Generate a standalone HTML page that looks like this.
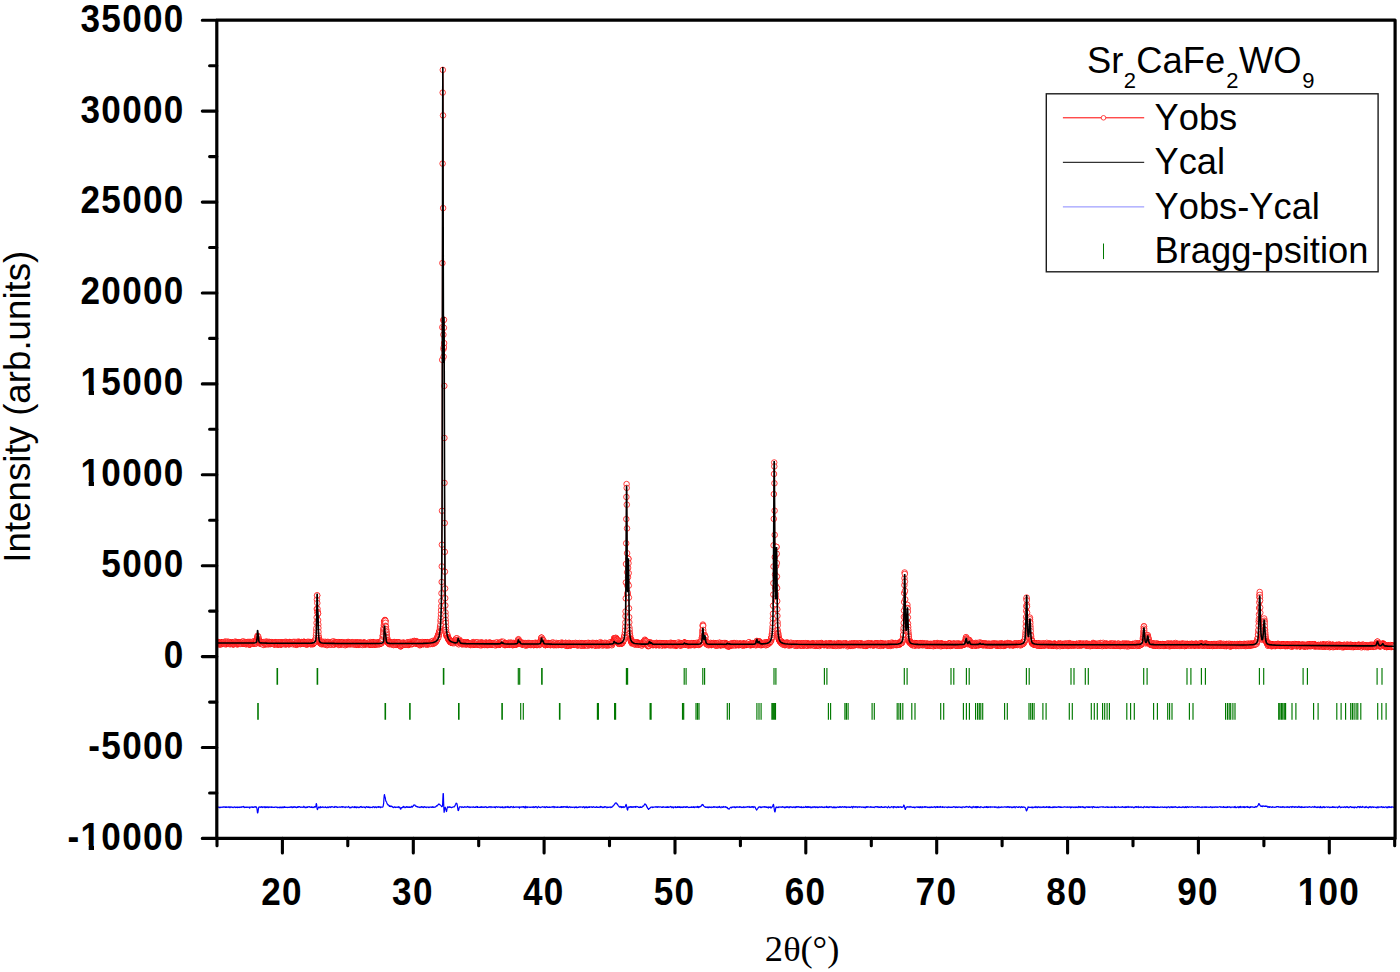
<!DOCTYPE html>
<html><head><meta charset="utf-8"><title>XRD Rietveld refinement - Sr2CaFe2WO9</title>
<style>
html,body{margin:0;padding:0;background:#fff;}
svg{display:block;}
text{font-family:"Liberation Sans",sans-serif;fill:#000;font-kerning:none;}
.tk{font-weight:bold;font-size:38px;letter-spacing:1.4px;}
.lg{font-size:36.3px;}
.ser{font-family:"Liberation Serif",serif;font-size:36.5px;}
</style></head>
<body>
<svg width="1400" height="972" viewBox="0 0 1400 972">
<defs>
<marker id="c" markerUnits="userSpaceOnUse" markerWidth="8" markerHeight="8" refX="4" refY="4" overflow="visible">
<circle cx="4" cy="4" r="2.78" fill="#fff" stroke="#ff0000" stroke-width="0.75"/>
</marker>
<clipPath id="plot"><rect x="216.8" y="20.2" width="1178.3" height="818.1999999999999"/></clipPath>
</defs>
<rect width="1400" height="972" fill="#fff"/>
<g clip-path="url(#plot)">
<path fill="none" stroke="#ff0000" stroke-width="0.7" d="M316.7 614.5L316.8 611.9M316.9 605.9L316.9 602.5M317.3 598.4L317.3 600.1M441.4 598.1L441.5 596.3M441.6 590.3L441.6 585.0M441.7 579.0L441.8 569.4M441.8 563.4L441.9 547.7M441.9 541.7L442.0 513.8M442.1 507.8L442.2 362.9M442.2 356.9L442.3 330.3M442.3 324.3L442.4 266.1M442.4 260.1L442.6 166.6M442.6 160.6L442.7 95.6M442.7 89.6L442.8 72.9M442.8 72.9L443.0 112.4M443.0 118.4L443.1 205.1M443.1 211.1L443.2 317.1M443.3 323.1L443.3 331.7M443.4 337.7L443.5 346.0M443.5 352.0L443.6 353.7M443.7 353.7L443.7 350.1M443.8 344.1L443.9 330.8M443.9 324.8L444.0 322.8M444.0 322.8L444.1 340.1M444.2 346.1L444.3 382.9M444.3 388.9L444.4 435.0M444.4 441.0L444.5 479.9M444.5 485.9L444.7 520.0M444.7 526.0L444.8 548.9M444.8 554.9L444.9 568.7M445.0 574.7L445.0 585.5M445.1 591.5L445.1 595.2M445.2 601.2L445.3 602.5M445.4 608.5L445.4 609.5M625.7 608.5L625.7 601.4M625.8 595.4L625.9 585.5M625.9 579.5L626.0 567.0M626.1 561.0L626.2 546.3M626.2 540.3L626.3 522.1M626.3 516.1L626.4 500.0M626.5 494.0L626.5 487.1M626.7 490.9L626.8 501.7M626.8 507.7L626.9 525.4M627.0 531.4L627.1 550.2M627.1 556.2L627.2 569.3M627.2 575.3L627.3 582.6M627.4 588.6L627.4 590.7M627.8 589.6L627.8 587.0M627.9 581.0L627.9 580.2M628.0 574.2L628.1 570.9M628.2 564.9L628.2 561.8M628.6 566.2L628.6 570.1M628.7 576.1L628.8 582.6M628.8 588.6L628.9 594.6M629.0 600.6L629.0 605.3M629.1 611.3L629.1 614.2M773.0 610.8L773.1 608.7M773.2 602.7L773.2 597.6M773.3 591.6L773.4 586.2M773.4 580.2L773.5 569.5M773.5 563.5L773.6 548.3M773.7 542.3L773.8 521.9M773.8 515.9L773.9 497.1M773.9 491.1L774.0 477.0M774.1 471.0L774.1 465.5M774.3 469.4L774.4 480.3M774.4 486.3L774.6 507.7M774.6 513.7L774.7 531.9M774.7 537.9L774.8 554.1M774.8 560.1L774.9 571.5M775.0 577.5L775.1 584.8M775.1 590.8L775.2 594.1M775.5 601.1L775.6 599.5M775.8 590.7L775.8 589.0M775.9 583.0L776.0 580.6M776.0 574.6L776.1 568.9M776.2 562.9L776.2 557.0M776.3 551.0L776.3 550.0M776.7 556.7L776.7 560.1M776.8 566.1L776.9 573.5M777.0 579.5L777.0 585.1M777.1 591.1L777.2 598.1M777.2 604.1L777.3 606.3M904.0 607.6L904.1 605.0M904.2 599.0L904.2 596.1M904.3 590.1L904.3 588.1M904.4 582.1L904.5 581.2M904.8 577.0L904.8 578.6M904.9 584.6L905.0 587.9M905.1 593.9L905.1 596.4M905.2 602.4L905.2 604.5M905.3 610.5L905.4 613.2M1026.4 603.3L1026.4 601.9M1260.1 603.5L1260.1 604.6"/>
<polyline fill="none" stroke="none" marker-start="url(#c)" marker-mid="url(#c)" marker-end="url(#c)" points="217.0,643.0 217.1,643.1 217.2,643.3 217.4,643.1 217.5,643.1 217.6,643.0 217.8,643.8 217.9,643.4 218.0,644.4 218.1,642.6 218.3,642.3 218.4,642.1 218.5,643.0 218.7,642.5 218.8,643.0 218.9,643.2 219.1,644.0 219.2,644.0 219.3,643.9 219.5,643.3 219.6,642.6 219.7,643.8 219.8,643.0 220.0,643.0 220.1,643.4 220.2,644.4 220.4,643.9 220.5,644.3 220.6,643.2 220.8,643.3 220.9,643.4 221.0,643.6 221.2,643.1 221.3,643.6 221.4,642.6 221.6,643.9 221.7,642.9 221.8,642.7 221.9,643.4 222.1,644.0 222.2,642.6 222.3,643.5 222.5,642.7 222.6,642.5 222.7,643.0 222.9,642.9 223.0,642.5 223.1,642.7 223.3,643.3 223.4,642.6 223.5,642.4 223.6,642.9 223.8,643.0 223.9,643.0 224.0,642.9 224.2,643.5 224.3,643.6 224.4,642.0 224.6,643.1 224.7,642.7 224.8,644.0 225.0,642.9 225.1,643.7 225.2,641.6 225.3,643.9 225.5,643.5 225.6,642.2 225.7,642.3 225.9,644.3 226.0,643.1 226.1,642.9 226.3,644.0 226.4,643.0 226.5,643.2 226.7,643.3 226.8,642.9 226.9,643.3 227.0,643.9 227.2,641.6 227.3,643.1 227.4,643.3 227.6,642.6 227.7,643.1 227.8,642.3 228.0,643.4 228.1,643.0 228.2,643.2 228.4,642.8 228.5,642.9 228.6,642.8 228.7,641.9 228.9,643.3 229.0,643.1 229.1,643.1 229.3,642.4 229.4,642.9 229.5,642.6 229.7,644.2 229.8,643.4 229.9,643.8 230.1,643.7 230.2,643.1 230.3,643.9 230.4,642.6 230.6,642.8 230.7,644.0 230.8,643.1 231.0,642.1 231.1,643.2 231.2,642.6 231.4,643.0 231.5,643.4 231.6,643.6 231.8,643.4 231.9,642.5 232.0,642.7 232.1,643.7 232.3,642.4 232.4,643.1 232.5,643.2 232.7,642.8 232.8,643.6 232.9,644.3 233.1,642.8 233.2,644.5 233.3,643.2 233.5,644.0 233.6,643.5 233.7,643.2 233.9,643.6 234.0,644.1 234.1,643.1 234.2,643.2 234.4,643.6 234.5,642.9 234.6,642.1 234.8,643.3 234.9,643.0 235.0,643.9 235.2,642.8 235.3,642.8 235.4,641.6 235.6,642.8 235.7,643.0 235.8,642.7 235.9,643.7 236.1,642.5 236.2,643.0 236.3,643.2 236.5,642.4 236.6,643.1 236.7,642.6 236.9,644.0 237.0,643.0 237.1,643.4 237.3,643.5 237.4,644.5 237.5,642.6 237.6,642.9 237.8,643.6 237.9,644.0 238.0,643.4 238.2,642.2 238.3,643.1 238.4,643.6 238.6,643.2 238.7,643.3 238.8,643.1 239.0,642.5 239.1,643.0 239.2,642.6 239.3,643.8 239.5,643.0 239.6,643.5 239.7,643.4 239.9,643.2 240.0,643.5 240.1,643.1 240.3,642.6 240.4,643.4 240.5,643.9 240.7,642.8 240.8,642.5 240.9,643.2 241.0,643.0 241.2,643.3 241.3,642.9 241.4,642.1 241.6,642.5 241.7,643.2 241.8,643.4 242.0,643.9 242.1,642.6 242.2,642.6 242.4,642.3 242.5,641.6 242.6,642.4 242.7,642.3 242.9,643.3 243.0,642.4 243.1,642.4 243.3,642.3 243.4,642.3 243.5,642.3 243.7,641.5 243.8,643.0 243.9,642.9 244.1,642.8 244.2,643.8 244.3,643.7 244.5,642.8 244.6,643.1 244.7,643.2 244.8,643.3 245.0,643.8 245.1,642.9 245.2,642.5 245.4,643.4 245.5,643.6 245.6,644.1 245.8,643.0 245.9,642.4 246.0,644.1 246.2,642.8 246.3,642.4 246.4,643.5 246.5,643.5 246.7,644.0 246.8,643.9 246.9,643.2 247.1,642.9 247.2,643.0 247.3,642.6 247.5,642.5 247.6,643.5 247.7,642.0 247.9,642.5 248.0,643.3 248.1,642.3 248.2,643.1 248.4,643.2 248.5,642.0 248.6,644.3 248.8,644.0 248.9,642.5 249.0,643.0 249.2,643.7 249.3,642.7 249.4,643.6 249.6,644.7 249.7,644.3 249.8,643.0 249.9,641.9 250.1,644.1 250.2,643.2 250.3,643.4 250.5,643.9 250.6,642.9 250.7,643.9 250.9,643.3 251.0,642.0 251.1,642.5 251.3,642.3 251.4,642.7 251.5,642.9 251.6,642.7 251.8,643.5 251.9,643.4 252.0,642.6 252.2,643.6 252.3,643.5 252.4,642.3 252.6,641.9 252.7,642.9 252.8,643.1 253.0,642.6 253.1,643.1 253.2,643.7 253.3,643.0 253.5,642.6 253.6,643.1 253.7,641.6 253.9,642.5 254.0,642.4 254.1,642.2 254.3,641.1 254.4,642.0 254.5,643.1 254.7,642.6 254.8,643.3 254.9,643.3 255.1,642.6 255.2,642.1 255.3,642.4 255.4,642.7 255.6,642.1 255.7,643.5 255.8,642.2 256.0,642.6 256.1,642.0 256.2,643.3 256.4,641.0 256.5,643.1 256.6,642.7 256.8,641.5 256.9,641.9 257.0,641.2 257.1,641.9 257.3,639.7 257.4,637.6 257.5,635.8 257.7,636.5 257.8,637.2 257.9,637.9 258.1,638.5 258.2,638.4 258.3,636.7 258.5,639.4 258.6,638.7 258.7,640.3 258.8,640.0 259.0,641.6 259.1,641.2 259.2,641.8 259.4,642.5 259.5,642.3 259.6,643.0 259.8,642.7 259.9,642.6 260.0,641.9 260.2,642.5 260.3,643.8 260.4,643.2 260.5,643.2 260.7,643.7 260.8,642.3 260.9,642.8 261.1,642.2 261.2,643.1 261.3,642.7 261.5,642.0 261.6,643.3 261.7,642.4 261.9,642.7 262.0,643.6 262.1,643.3 262.2,643.6 262.4,642.5 262.5,643.4 262.6,643.9 262.8,642.6 262.9,643.6 263.0,644.3 263.2,642.5 263.3,643.4 263.4,644.9 263.6,643.1 263.7,642.6 263.8,642.8 263.9,642.0 264.1,642.8 264.2,642.2 264.3,643.2 264.5,643.1 264.6,642.4 264.7,643.3 264.9,643.5 265.0,644.6 265.1,643.3 265.3,643.5 265.4,642.8 265.5,643.8 265.6,643.3 265.8,643.7 265.9,641.7 266.0,643.2 266.2,642.7 266.3,641.9 266.4,643.3 266.6,643.8 266.7,643.0 266.8,642.7 267.0,643.0 267.1,644.2 267.2,642.8 267.4,643.7 267.5,641.8 267.6,642.9 267.7,643.4 267.9,642.7 268.0,643.0 268.1,644.1 268.3,642.7 268.4,643.6 268.5,644.2 268.7,642.2 268.8,642.1 268.9,642.5 269.1,643.1 269.2,644.0 269.3,642.6 269.4,642.1 269.6,642.5 269.7,642.1 269.8,643.5 270.0,642.9 270.1,642.8 270.2,643.9 270.4,644.1 270.5,643.5 270.6,643.1 270.8,642.3 270.9,643.0 271.0,643.0 271.1,643.5 271.3,642.9 271.4,642.6 271.5,642.2 271.7,643.0 271.8,642.8 271.9,643.7 272.1,643.0 272.2,643.6 272.3,642.3 272.5,643.0 272.6,642.9 272.7,643.5 272.8,643.5 273.0,643.4 273.1,643.3 273.2,643.6 273.4,644.0 273.5,643.4 273.6,643.4 273.8,643.3 273.9,642.8 274.0,643.4 274.2,644.3 274.3,643.3 274.4,644.5 274.5,644.1 274.7,642.7 274.8,642.9 274.9,643.2 275.1,643.5 275.2,643.0 275.3,644.2 275.5,643.0 275.6,643.4 275.7,642.2 275.9,643.5 276.0,642.5 276.1,643.6 276.2,642.8 276.4,643.9 276.5,642.6 276.6,643.4 276.8,643.6 276.9,643.7 277.0,643.1 277.2,643.3 277.3,642.6 277.4,643.2 277.6,644.7 277.7,643.4 277.8,644.5 278.0,643.9 278.1,643.3 278.2,644.1 278.3,644.1 278.5,643.3 278.6,643.5 278.7,642.4 278.9,642.9 279.0,643.1 279.1,642.5 279.3,644.1 279.4,643.3 279.5,643.7 279.7,642.7 279.8,642.6 279.9,642.3 280.0,643.1 280.2,643.2 280.3,643.4 280.4,644.0 280.6,643.7 280.7,643.0 280.8,644.7 281.0,644.3 281.1,642.3 281.2,644.3 281.4,643.4 281.5,643.9 281.6,643.0 281.7,642.9 281.9,643.6 282.0,642.6 282.1,643.3 282.3,642.9 282.4,642.6 282.5,643.0 282.7,643.7 282.8,643.4 282.9,643.0 283.1,643.4 283.2,643.6 283.3,644.0 283.4,643.2 283.6,643.2 283.7,643.0 283.8,643.4 284.0,643.0 284.1,644.0 284.2,642.1 284.4,642.5 284.5,642.4 284.6,642.7 284.8,642.7 284.9,643.0 285.0,643.3 285.1,643.5 285.3,644.4 285.4,643.1 285.5,643.4 285.7,643.2 285.8,641.8 285.9,644.3 286.1,643.4 286.2,642.8 286.3,642.9 286.5,642.6 286.6,643.9 286.7,643.9 286.8,643.0 287.0,643.8 287.1,642.5 287.2,643.4 287.4,643.5 287.5,643.3 287.6,643.6 287.8,643.1 287.9,643.6 288.0,643.3 288.2,643.7 288.3,643.3 288.4,644.2 288.6,644.1 288.7,643.2 288.8,643.2 288.9,643.8 289.1,643.3 289.2,643.8 289.3,642.0 289.5,644.3 289.6,642.3 289.7,643.8 289.9,642.8 290.0,643.2 290.1,643.4 290.3,642.7 290.4,642.8 290.5,643.2 290.6,643.5 290.8,642.2 290.9,642.5 291.0,643.1 291.2,642.9 291.3,642.6 291.4,643.2 291.6,642.6 291.7,643.8 291.8,643.4 292.0,644.0 292.1,643.1 292.2,642.6 292.3,643.8 292.5,643.0 292.6,642.4 292.7,643.1 292.9,643.4 293.0,642.0 293.1,642.4 293.3,643.1 293.4,642.6 293.5,643.4 293.7,644.4 293.8,643.0 293.9,643.1 294.0,641.9 294.2,643.1 294.3,643.3 294.4,643.0 294.6,642.8 294.7,643.6 294.8,642.8 295.0,643.2 295.1,642.3 295.2,642.0 295.4,644.2 295.5,644.0 295.6,643.8 295.7,643.4 295.9,643.8 296.0,643.4 296.1,643.0 296.3,644.2 296.4,644.6 296.5,644.8 296.7,642.9 296.8,642.3 296.9,643.9 297.1,644.1 297.2,643.1 297.3,642.9 297.4,643.0 297.6,643.5 297.7,642.6 297.8,642.5 298.0,642.9 298.1,641.6 298.2,642.9 298.4,643.6 298.5,643.4 298.6,644.0 298.8,643.1 298.9,642.1 299.0,643.4 299.2,642.3 299.3,642.0 299.4,642.7 299.5,643.6 299.7,643.2 299.8,643.3 299.9,643.8 300.1,644.1 300.2,643.3 300.3,643.0 300.5,642.8 300.6,644.1 300.7,642.5 300.9,642.8 301.0,643.0 301.1,643.7 301.2,642.2 301.4,643.0 301.5,642.1 301.6,642.4 301.8,643.6 301.9,643.1 302.0,642.2 302.2,642.7 302.3,643.5 302.4,643.3 302.6,643.0 302.7,643.6 302.8,643.3 302.9,643.6 303.1,643.6 303.2,642.8 303.3,643.7 303.5,642.8 303.6,643.1 303.7,642.3 303.9,641.8 304.0,641.8 304.1,642.5 304.3,642.5 304.4,643.0 304.5,642.8 304.6,643.8 304.8,643.4 304.9,642.8 305.0,643.5 305.2,643.6 305.3,644.1 305.4,642.7 305.6,643.5 305.7,643.1 305.8,643.1 306.0,642.6 306.1,643.2 306.2,643.8 306.3,644.3 306.5,643.7 306.6,643.9 306.7,642.9 306.9,642.3 307.0,644.6 307.1,644.1 307.3,643.0 307.4,642.7 307.5,643.3 307.7,643.5 307.8,642.7 307.9,642.3 308.0,641.7 308.2,642.5 308.3,643.4 308.4,643.0 308.6,642.8 308.7,643.5 308.8,643.1 309.0,643.0 309.1,643.4 309.2,642.4 309.4,642.8 309.5,643.0 309.6,643.0 309.7,643.2 309.9,642.0 310.0,643.2 310.1,642.1 310.3,642.7 310.4,644.1 310.5,643.1 310.7,643.8 310.8,644.1 310.9,643.8 311.1,642.3 311.2,644.1 311.3,643.9 311.5,642.6 311.6,642.8 311.7,643.5 311.8,642.5 312.0,642.7 312.1,643.0 312.2,642.9 312.4,643.9 312.5,643.5 312.6,642.3 312.8,644.3 312.9,643.3 313.0,643.1 313.2,643.6 313.3,643.3 313.4,643.5 313.5,642.7 313.7,643.1 313.8,642.3 313.9,642.4 314.1,642.8 314.2,642.6 314.3,641.6 314.5,641.4 314.6,642.2 314.7,641.2 314.9,641.5 315.0,641.2 315.1,642.1 315.2,640.8 315.4,639.7 315.5,640.2 315.6,640.8 315.8,639.1 315.9,637.9 316.0,635.7 316.2,633.7 316.3,630.6 316.4,628.2 316.6,622.9 316.7,617.5 316.8,608.9 316.9,599.5 317.1,595.5 317.2,595.4 317.3,603.1 317.5,608.8 317.6,612.3 317.7,612.1 317.9,613.7 318.0,613.5 318.1,620.2 318.3,624.5 318.4,628.0 318.5,631.9 318.6,635.6 318.8,638.0 318.9,638.0 319.0,640.5 319.2,639.8 319.3,641.0 319.4,641.2 319.6,640.3 319.7,641.2 319.8,641.9 320.0,643.1 320.1,642.1 320.2,642.1 320.3,641.9 320.5,641.3 320.6,643.4 320.7,642.7 320.9,643.0 321.0,643.5 321.1,642.0 321.3,643.6 321.4,643.1 321.5,643.0 321.7,644.3 321.8,643.5 321.9,643.3 322.1,642.3 322.2,642.3 322.3,642.3 322.4,642.5 322.6,643.9 322.7,642.7 322.8,643.4 323.0,642.6 323.1,642.6 323.2,641.8 323.4,642.9 323.5,642.5 323.6,643.6 323.8,643.0 323.9,644.2 324.0,643.1 324.1,644.1 324.3,643.4 324.4,643.7 324.5,643.6 324.7,642.9 324.8,643.6 324.9,643.1 325.1,643.7 325.2,641.8 325.3,643.1 325.5,642.4 325.6,642.4 325.7,644.6 325.8,643.9 326.0,643.5 326.1,642.8 326.2,643.7 326.4,643.3 326.5,644.0 326.6,643.5 326.8,644.6 326.9,643.4 327.0,645.2 327.2,644.4 327.3,642.5 327.4,643.5 327.5,644.0 327.7,641.9 327.8,642.5 327.9,642.7 328.1,643.5 328.2,643.0 328.3,643.2 328.5,644.6 328.6,643.0 328.7,643.2 328.9,642.1 329.0,642.4 329.1,643.4 329.2,643.6 329.4,643.1 329.5,642.6 329.6,643.0 329.8,642.9 329.9,642.9 330.0,643.1 330.2,642.4 330.3,643.0 330.4,643.9 330.6,644.7 330.7,643.2 330.8,643.5 330.9,643.2 331.1,643.2 331.2,643.8 331.3,643.5 331.5,644.6 331.6,643.2 331.7,643.2 331.9,641.8 332.0,642.9 332.1,643.1 332.3,643.0 332.4,642.8 332.5,643.8 332.7,643.3 332.8,643.4 332.9,641.8 333.0,643.3 333.2,644.4 333.3,642.9 333.4,642.1 333.6,644.1 333.7,641.4 333.8,643.4 334.0,642.8 334.1,643.7 334.2,643.6 334.4,644.0 334.5,644.2 334.6,644.5 334.7,642.3 334.9,643.1 335.0,642.4 335.1,642.7 335.3,643.6 335.4,643.1 335.5,643.1 335.7,643.6 335.8,643.1 335.9,643.4 336.1,643.5 336.2,643.8 336.3,643.7 336.4,643.3 336.6,642.5 336.7,642.3 336.8,643.0 337.0,642.8 337.1,643.6 337.2,643.0 337.4,643.4 337.5,642.8 337.6,643.4 337.8,643.1 337.9,642.2 338.0,644.0 338.1,643.6 338.3,643.6 338.4,642.9 338.5,642.2 338.7,643.7 338.8,645.0 338.9,643.1 339.1,643.0 339.2,644.3 339.3,643.8 339.5,643.5 339.6,644.4 339.7,642.7 339.8,642.9 340.0,643.1 340.1,643.9 340.2,643.7 340.4,643.8 340.5,643.1 340.6,644.1 340.8,642.7 340.9,643.2 341.0,644.7 341.2,642.6 341.3,643.3 341.4,643.5 341.5,643.0 341.7,644.0 341.8,642.8 341.9,644.1 342.1,643.6 342.2,642.2 342.3,642.7 342.5,643.2 342.6,643.4 342.7,642.6 342.9,643.6 343.0,643.6 343.1,642.9 343.2,643.6 343.4,642.7 343.5,644.4 343.6,642.4 343.8,644.1 343.9,643.5 344.0,644.0 344.2,643.1 344.3,643.4 344.4,643.1 344.6,643.1 344.7,643.2 344.8,643.6 345.0,644.7 345.1,644.9 345.2,645.2 345.3,643.8 345.5,643.7 345.6,643.2 345.7,643.0 345.9,643.2 346.0,643.8 346.1,644.1 346.3,644.4 346.4,642.5 346.5,642.7 346.7,644.1 346.8,643.7 346.9,643.2 347.0,642.7 347.2,643.7 347.3,643.3 347.4,642.6 347.6,644.5 347.7,643.8 347.8,643.4 348.0,643.8 348.1,641.9 348.2,642.6 348.4,642.6 348.5,643.4 348.6,642.6 348.7,643.1 348.9,643.8 349.0,643.6 349.1,644.1 349.3,643.5 349.4,643.3 349.5,643.2 349.7,643.8 349.8,643.3 349.9,644.2 350.1,643.9 350.2,643.0 350.3,643.3 350.4,644.1 350.6,643.6 350.7,643.6 350.8,643.8 351.0,644.0 351.1,643.9 351.2,643.3 351.4,642.3 351.5,643.6 351.6,643.9 351.8,643.5 351.9,644.1 352.0,643.3 352.1,643.2 352.3,642.5 352.4,643.0 352.5,642.9 352.7,642.2 352.8,643.7 352.9,643.7 353.1,643.1 353.2,643.1 353.3,643.4 353.5,643.9 353.6,643.3 353.7,643.4 353.8,644.7 354.0,643.8 354.1,643.6 354.2,643.0 354.4,643.6 354.5,643.3 354.6,642.4 354.8,643.9 354.9,643.8 355.0,643.2 355.2,643.1 355.3,643.5 355.4,644.2 355.6,642.7 355.7,643.5 355.8,643.8 355.9,642.8 356.1,643.5 356.2,644.8 356.3,644.1 356.5,643.9 356.6,643.8 356.7,644.2 356.9,642.4 357.0,642.7 357.1,643.2 357.3,643.5 357.4,643.1 357.5,643.2 357.6,644.3 357.8,644.1 357.9,643.8 358.0,643.5 358.2,643.6 358.3,644.8 358.4,644.1 358.6,642.5 358.7,644.0 358.8,643.3 359.0,643.6 359.1,643.0 359.2,643.7 359.3,644.2 359.5,644.2 359.6,643.7 359.7,643.1 359.9,643.3 360.0,644.3 360.1,642.5 360.3,643.5 360.4,643.8 360.5,642.8 360.7,643.3 360.8,643.6 360.9,643.6 361.0,642.9 361.2,643.2 361.3,644.3 361.4,643.3 361.6,643.9 361.7,643.0 361.8,643.2 362.0,643.2 362.1,643.4 362.2,643.1 362.4,643.9 362.5,644.4 362.6,643.5 362.7,645.0 362.9,643.5 363.0,643.0 363.1,643.5 363.3,642.6 363.4,643.0 363.5,643.5 363.7,643.6 363.8,643.0 363.9,643.7 364.1,643.7 364.2,643.0 364.3,643.3 364.4,642.7 364.6,643.8 364.7,644.7 364.8,643.0 365.0,642.8 365.1,643.9 365.2,643.2 365.4,643.3 365.5,644.3 365.6,643.9 365.8,643.9 365.9,643.1 366.0,643.3 366.2,643.2 366.3,643.9 366.4,643.6 366.5,644.0 366.7,643.8 366.8,643.4 366.9,643.7 367.1,643.3 367.2,643.1 367.3,643.1 367.5,643.7 367.6,644.1 367.7,643.8 367.9,643.3 368.0,643.8 368.1,643.1 368.2,643.4 368.4,643.6 368.5,643.7 368.6,644.1 368.8,642.7 368.9,644.2 369.0,643.3 369.2,644.7 369.3,643.2 369.4,643.3 369.6,644.0 369.7,643.8 369.8,644.3 369.9,643.7 370.1,643.2 370.2,642.1 370.3,644.3 370.5,643.2 370.6,644.3 370.7,643.6 370.9,643.3 371.0,643.3 371.1,643.6 371.3,643.7 371.4,643.7 371.5,643.6 371.6,643.0 371.8,644.3 371.9,644.1 372.0,644.5 372.2,644.5 372.3,644.2 372.4,643.1 372.6,642.3 372.7,642.5 372.8,644.0 373.0,643.2 373.1,643.9 373.2,642.7 373.3,642.2 373.5,642.8 373.6,642.8 373.7,643.5 373.9,644.7 374.0,644.6 374.1,643.8 374.3,643.3 374.4,643.2 374.5,644.2 374.7,643.9 374.8,643.3 374.9,642.6 375.0,643.2 375.2,644.0 375.3,643.1 375.4,643.4 375.6,643.4 375.7,644.1 375.8,643.1 376.0,644.0 376.1,644.5 376.2,644.0 376.4,644.3 376.5,643.7 376.6,642.9 376.8,643.4 376.9,642.5 377.0,643.9 377.1,643.0 377.3,643.9 377.4,643.4 377.5,643.9 377.7,643.7 377.8,643.0 377.9,644.1 378.1,642.9 378.2,643.3 378.3,642.8 378.5,642.7 378.6,643.6 378.7,643.8 378.8,644.3 379.0,643.1 379.1,643.6 379.2,643.1 379.4,644.2 379.5,642.6 379.6,643.7 379.8,642.3 379.9,643.3 380.0,642.6 380.2,643.0 380.3,643.0 380.4,643.7 380.5,643.0 380.7,643.1 380.8,642.9 380.9,642.0 381.1,643.2 381.2,642.2 381.3,642.6 381.5,643.3 381.6,642.1 381.7,642.5 381.9,641.0 382.0,641.8 382.1,641.0 382.2,640.5 382.4,641.1 382.5,639.2 382.6,639.0 382.8,636.7 382.9,635.5 383.0,635.4 383.2,634.5 383.3,632.3 383.4,630.7 383.6,629.4 383.7,628.5 383.8,627.7 383.9,625.5 384.1,624.6 384.2,621.4 384.3,622.6 384.5,622.0 384.6,620.8 384.7,621.2 384.9,620.1 385.0,620.0 385.1,620.6 385.3,621.0 385.4,620.8 385.5,622.8 385.6,625.8 385.8,626.7 385.9,626.7 386.0,629.0 386.2,629.6 386.3,631.3 386.4,631.9 386.6,633.7 386.7,635.0 386.8,636.9 387.0,637.4 387.1,639.0 387.2,638.4 387.3,640.1 387.5,640.6 387.6,640.7 387.7,641.6 387.9,642.2 388.0,642.3 388.1,642.8 388.3,643.0 388.4,642.9 388.5,642.4 388.7,643.3 388.8,643.5 388.9,643.2 389.1,642.7 389.2,642.4 389.3,644.2 389.4,643.5 389.6,643.0 389.7,643.1 389.8,642.7 390.0,644.1 390.1,642.8 390.2,642.9 390.4,643.4 390.5,642.2 390.6,643.2 390.8,642.9 390.9,643.9 391.0,642.8 391.1,642.9 391.3,642.6 391.4,642.5 391.5,644.3 391.7,643.6 391.8,643.5 391.9,643.0 392.1,643.3 392.2,643.8 392.3,643.2 392.5,643.9 392.6,644.1 392.7,643.7 392.8,643.9 393.0,643.5 393.1,644.7 393.2,642.6 393.4,643.3 393.5,643.6 393.6,644.9 393.8,645.0 393.9,644.0 394.0,643.1 394.2,642.0 394.3,642.7 394.4,643.9 394.5,642.8 394.7,642.7 394.8,643.2 394.9,642.6 395.1,643.2 395.2,644.3 395.3,644.5 395.5,643.6 395.6,643.1 395.7,644.6 395.9,644.7 396.0,643.2 396.1,644.9 396.2,642.4 396.4,643.6 396.5,643.2 396.6,642.7 396.8,644.6 396.9,644.2 397.0,642.7 397.2,644.2 397.3,643.9 397.4,643.1 397.6,642.9 397.7,642.5 397.8,643.6 397.9,643.3 398.1,643.4 398.2,642.8 398.3,642.4 398.5,643.5 398.6,642.6 398.7,644.2 398.9,643.7 399.0,642.7 399.1,642.7 399.3,642.6 399.4,643.9 399.5,643.8 399.7,643.6 399.8,643.1 399.9,643.8 400.0,645.1 400.2,645.2 400.3,645.0 400.4,645.1 400.6,646.4 400.7,645.8 400.8,646.3 401.0,645.7 401.1,642.9 401.2,644.4 401.4,644.4 401.5,644.5 401.6,644.9 401.7,645.2 401.9,644.1 402.0,644.1 402.1,643.1 402.3,645.1 402.4,643.7 402.5,642.8 402.7,644.5 402.8,643.0 402.9,644.7 403.1,643.6 403.2,643.3 403.3,643.7 403.4,643.0 403.6,643.2 403.7,643.1 403.8,642.9 404.0,643.7 404.1,643.4 404.2,643.2 404.4,642.9 404.5,644.3 404.6,643.5 404.8,644.0 404.9,643.7 405.0,643.4 405.1,644.0 405.3,643.2 405.4,644.5 405.5,643.9 405.7,644.2 405.8,643.7 405.9,643.8 406.1,644.2 406.2,644.4 406.3,643.4 406.5,643.3 406.6,642.9 406.7,643.4 406.8,643.0 407.0,643.2 407.1,644.7 407.2,644.0 407.4,644.5 407.5,642.8 407.6,642.3 407.8,643.5 407.9,643.5 408.0,644.3 408.2,645.0 408.3,644.2 408.4,644.0 408.5,644.4 408.7,643.2 408.8,643.1 408.9,642.6 409.1,642.4 409.2,642.8 409.3,644.1 409.5,644.0 409.6,643.5 409.7,644.3 409.9,642.7 410.0,643.1 410.1,643.8 410.3,644.1 410.4,641.8 410.5,643.3 410.6,643.1 410.8,642.4 410.9,642.8 411.0,643.5 411.2,643.3 411.3,644.1 411.4,642.9 411.6,643.7 411.7,642.4 411.8,642.5 412.0,644.1 412.1,642.4 412.2,644.1 412.3,643.0 412.5,643.7 412.6,643.1 412.7,643.3 412.9,641.5 413.0,642.1 413.1,641.9 413.3,642.0 413.4,641.8 413.5,641.6 413.7,641.8 413.8,641.1 413.9,641.6 414.0,641.7 414.2,642.1 414.3,641.6 414.4,641.0 414.6,641.8 414.7,641.1 414.8,641.4 415.0,642.0 415.1,642.2 415.2,642.2 415.4,642.4 415.5,642.5 415.6,642.0 415.7,643.2 415.9,643.7 416.0,642.1 416.1,643.1 416.3,642.7 416.4,641.2 416.5,641.5 416.7,642.4 416.8,642.5 416.9,643.1 417.1,642.5 417.2,643.7 417.3,643.8 417.4,643.3 417.6,642.2 417.7,642.2 417.8,643.8 418.0,642.6 418.1,643.3 418.2,642.8 418.4,643.6 418.5,642.9 418.6,643.3 418.8,643.5 418.9,643.6 419.0,643.5 419.1,643.6 419.3,644.2 419.4,642.3 419.5,643.9 419.7,644.4 419.8,644.8 419.9,645.3 420.1,644.2 420.2,643.3 420.3,644.6 420.5,643.6 420.6,644.4 420.7,642.9 420.8,643.4 421.0,643.2 421.1,642.2 421.2,642.2 421.4,642.7 421.5,643.8 421.6,644.1 421.8,643.6 421.9,644.0 422.0,642.3 422.2,643.5 422.3,643.4 422.4,643.1 422.6,642.1 422.7,643.6 422.8,643.0 422.9,643.4 423.1,643.3 423.2,644.2 423.3,642.9 423.5,643.9 423.6,644.0 423.7,643.7 423.9,643.7 424.0,642.9 424.1,643.6 424.3,643.1 424.4,642.8 424.5,643.0 424.6,642.5 424.8,643.0 424.9,642.2 425.0,643.5 425.2,644.0 425.3,643.3 425.4,642.7 425.6,643.7 425.7,644.0 425.8,643.9 426.0,643.6 426.1,643.5 426.2,643.5 426.3,644.6 426.5,642.8 426.6,643.0 426.7,643.9 426.9,642.5 427.0,643.3 427.1,642.5 427.3,643.9 427.4,642.2 427.5,643.1 427.7,644.3 427.8,642.7 427.9,643.3 428.0,643.8 428.2,643.1 428.3,644.4 428.4,643.1 428.6,643.9 428.7,643.7 428.8,642.8 429.0,643.5 429.1,643.7 429.2,643.8 429.4,643.2 429.5,642.5 429.6,643.4 429.7,643.6 429.9,642.3 430.0,642.6 430.1,642.8 430.3,641.9 430.4,643.9 430.5,642.9 430.7,643.9 430.8,643.0 430.9,642.6 431.1,642.2 431.2,643.5 431.3,642.2 431.4,642.6 431.6,643.1 431.7,641.8 431.8,642.6 432.0,643.0 432.1,642.2 432.2,644.0 432.4,642.0 432.5,642.1 432.6,642.7 432.8,641.7 432.9,641.8 433.0,640.8 433.2,642.5 433.3,642.8 433.4,643.6 433.5,642.7 433.7,643.5 433.8,642.4 433.9,642.4 434.1,642.7 434.2,642.9 434.3,641.4 434.5,642.3 434.6,641.9 434.7,641.3 434.9,642.7 435.0,642.5 435.1,640.4 435.2,641.6 435.4,642.0 435.5,641.5 435.6,641.7 435.8,641.9 435.9,641.0 436.0,640.6 436.2,640.1 436.3,639.6 436.4,640.7 436.6,640.4 436.7,639.2 436.8,639.8 436.9,638.9 437.1,639.0 437.2,639.5 437.3,637.9 437.5,638.4 437.6,637.6 437.7,636.5 437.9,635.8 438.0,636.6 438.1,635.9 438.3,635.7 438.4,635.2 438.5,637.1 438.6,635.1 438.8,633.9 438.9,633.2 439.0,633.7 439.2,632.4 439.3,632.0 439.4,631.9 439.6,631.8 439.7,630.9 439.8,629.9 440.0,628.1 440.1,627.0 440.2,627.2 440.3,626.1 440.5,624.4 440.6,621.3 440.7,619.6 440.9,617.0 441.0,613.8 441.1,610.1 441.3,606.1 441.4,601.1 441.5,593.3 441.7,582.0 441.8,566.4 441.9,544.7 442.0,510.8 442.2,359.9 442.3,327.3 442.4,263.1 442.6,163.6 442.7,92.6 442.8,69.9 443.0,115.4 443.1,208.1 443.2,320.1 443.4,334.7 443.5,349.0 443.6,356.7 443.8,347.1 443.9,327.8 444.0,319.8 444.1,343.1 444.3,385.9 444.4,438.0 444.5,482.9 444.7,523.0 444.8,551.9 444.9,571.7 445.1,588.5 445.2,598.2 445.3,605.5 445.5,612.5 445.6,615.8 445.7,619.9 445.8,622.8 446.0,626.5 446.1,629.7 446.2,631.9 446.4,633.8 446.5,636.0 446.6,635.1 446.8,635.1 446.9,635.3 447.0,636.0 447.2,635.8 447.3,636.1 447.4,635.9 447.5,635.0 447.7,637.4 447.8,637.2 447.9,637.2 448.1,637.8 448.2,638.5 448.3,639.3 448.5,639.2 448.6,638.7 448.7,638.7 448.9,640.3 449.0,639.6 449.1,639.7 449.2,639.2 449.4,639.8 449.5,640.1 449.6,640.1 449.8,641.4 449.9,640.5 450.0,641.6 450.2,642.0 450.3,641.7 450.4,642.2 450.6,641.2 450.7,641.2 450.8,642.0 450.9,642.0 451.1,641.8 451.2,642.3 451.3,642.2 451.5,642.3 451.6,642.6 451.7,642.6 451.9,642.7 452.0,641.8 452.1,642.8 452.3,641.6 452.4,642.6 452.5,641.6 452.6,643.1 452.8,642.7 452.9,642.2 453.0,641.9 453.2,642.6 453.3,641.0 453.4,642.3 453.6,642.0 453.7,642.9 453.8,641.4 454.0,642.1 454.1,642.3 454.2,643.2 454.4,641.9 454.5,642.2 454.6,641.5 454.7,641.1 454.9,641.9 455.0,641.4 455.1,641.0 455.3,640.8 455.4,640.6 455.5,640.6 455.7,640.3 455.8,640.5 455.9,638.8 456.1,639.1 456.2,639.5 456.3,639.1 456.4,639.6 456.6,640.9 456.7,638.3 456.8,638.4 457.0,640.3 457.1,640.1 457.2,640.0 457.4,640.7 457.5,641.8 457.6,642.1 457.8,642.0 457.9,642.3 458.0,641.6 458.1,641.8 458.3,642.2 458.4,642.1 458.5,643.9 458.7,642.5 458.8,644.3 458.9,642.8 459.1,641.6 459.2,641.1 459.3,640.5 459.5,639.8 459.6,641.2 459.7,641.0 459.8,641.4 460.0,642.2 460.1,642.6 460.2,641.7 460.4,643.1 460.5,642.8 460.6,643.0 460.8,642.8 460.9,642.9 461.0,643.2 461.2,642.7 461.3,642.9 461.4,643.0 461.5,643.0 461.7,644.1 461.8,642.3 461.9,643.3 462.1,642.5 462.2,643.3 462.3,643.5 462.5,644.4 462.6,642.1 462.7,643.5 462.9,643.6 463.0,642.9 463.1,643.4 463.2,642.6 463.4,642.8 463.5,643.5 463.6,643.7 463.8,643.3 463.9,644.1 464.0,643.6 464.2,643.5 464.3,643.7 464.4,642.9 464.6,643.9 464.7,642.8 464.8,642.6 464.9,644.2 465.1,643.4 465.2,642.8 465.3,643.4 465.5,643.9 465.6,643.9 465.7,643.0 465.9,642.7 466.0,644.2 466.1,643.7 466.3,644.2 466.4,644.0 466.5,643.6 466.7,643.7 466.8,644.2 466.9,642.3 467.0,643.3 467.2,643.1 467.3,642.8 467.4,643.2 467.6,643.3 467.7,642.7 467.8,644.1 468.0,643.2 468.1,642.8 468.2,643.0 468.4,643.2 468.5,643.5 468.6,644.2 468.7,643.9 468.9,643.3 469.0,643.1 469.1,643.4 469.3,643.8 469.4,643.8 469.5,643.5 469.7,643.6 469.8,643.5 469.9,643.9 470.1,644.2 470.2,643.8 470.3,644.1 470.4,644.0 470.6,645.1 470.7,644.6 470.8,644.1 471.0,643.4 471.1,643.8 471.2,644.0 471.4,643.1 471.5,644.4 471.6,643.2 471.8,643.9 471.9,644.2 472.0,643.0 472.1,644.4 472.3,644.3 472.4,643.8 472.5,643.8 472.7,644.0 472.8,644.9 472.9,643.8 473.1,643.6 473.2,642.1 473.3,642.8 473.5,643.8 473.6,644.4 473.7,643.2 473.8,644.0 474.0,643.7 474.1,644.0 474.2,644.3 474.4,644.1 474.5,644.3 474.6,644.5 474.8,643.4 474.9,643.7 475.0,644.1 475.2,644.1 475.3,643.7 475.4,643.2 475.5,643.1 475.7,642.9 475.8,643.7 475.9,644.2 476.1,642.5 476.2,643.0 476.3,643.4 476.5,643.2 476.6,644.3 476.7,643.5 476.9,643.4 477.0,642.7 477.1,644.3 477.3,644.3 477.4,643.2 477.5,643.6 477.6,643.5 477.8,642.3 477.9,644.4 478.0,644.0 478.2,644.3 478.3,643.8 478.4,644.3 478.6,644.6 478.7,643.8 478.8,644.5 479.0,643.6 479.1,644.0 479.2,643.4 479.3,644.1 479.5,644.5 479.6,644.0 479.7,643.4 479.9,645.2 480.0,643.9 480.1,643.7 480.3,644.5 480.4,644.2 480.5,643.7 480.7,644.2 480.8,643.9 480.9,642.5 481.0,644.4 481.2,644.7 481.3,645.3 481.4,644.1 481.6,644.0 481.7,642.4 481.8,643.1 482.0,644.4 482.1,643.0 482.2,643.4 482.4,644.1 482.5,643.4 482.6,643.5 482.7,644.0 482.9,644.9 483.0,644.7 483.1,644.1 483.3,644.5 483.4,644.6 483.5,643.6 483.7,644.3 483.8,643.1 483.9,643.8 484.1,643.5 484.2,644.5 484.3,644.1 484.4,644.5 484.6,645.0 484.7,644.0 484.8,644.0 485.0,643.3 485.1,643.4 485.2,643.8 485.4,643.8 485.5,644.8 485.6,644.0 485.8,642.9 485.9,642.5 486.0,643.3 486.1,643.6 486.3,644.0 486.4,643.9 486.5,644.9 486.7,644.0 486.8,643.0 486.9,643.1 487.1,643.9 487.2,644.2 487.3,644.4 487.5,644.5 487.6,644.8 487.7,645.1 487.9,644.1 488.0,644.2 488.1,644.3 488.2,643.5 488.4,643.7 488.5,644.4 488.6,643.2 488.8,644.5 488.9,643.0 489.0,643.9 489.2,644.1 489.3,643.3 489.4,642.8 489.6,644.0 489.7,644.4 489.8,642.6 489.9,643.3 490.1,642.8 490.2,643.9 490.3,643.9 490.5,644.0 490.6,643.5 490.7,644.2 490.9,644.7 491.0,643.5 491.1,643.4 491.3,644.7 491.4,643.8 491.5,644.3 491.6,644.2 491.8,643.8 491.9,643.7 492.0,643.6 492.2,644.1 492.3,644.8 492.4,644.2 492.6,643.6 492.7,644.5 492.8,643.8 493.0,643.5 493.1,644.0 493.2,643.4 493.3,644.3 493.5,644.3 493.6,644.5 493.7,643.5 493.9,643.0 494.0,643.9 494.1,643.2 494.3,644.9 494.4,644.7 494.5,644.5 494.7,643.1 494.8,644.1 494.9,643.4 495.0,644.7 495.2,644.0 495.3,644.0 495.4,644.6 495.6,645.4 495.7,643.5 495.8,643.0 496.0,642.9 496.1,643.8 496.2,644.7 496.4,643.9 496.5,643.1 496.6,644.2 496.7,643.3 496.9,644.2 497.0,643.7 497.1,643.4 497.3,643.9 497.4,642.3 497.5,644.0 497.7,644.1 497.8,644.5 497.9,643.8 498.1,644.1 498.2,644.6 498.3,644.7 498.4,643.5 498.6,643.7 498.7,644.8 498.8,644.6 499.0,643.6 499.1,643.6 499.2,643.0 499.4,644.4 499.5,643.4 499.6,644.2 499.8,644.0 499.9,644.2 500.0,643.8 500.2,644.0 500.3,643.8 500.4,644.2 500.5,644.1 500.7,644.1 500.8,643.8 500.9,643.3 501.1,643.5 501.2,642.8 501.3,642.7 501.5,642.2 501.6,642.3 501.7,641.6 501.9,642.5 502.0,642.4 502.1,643.0 502.2,642.8 502.4,643.0 502.5,643.4 502.6,643.5 502.8,642.2 502.9,643.3 503.0,643.4 503.2,643.5 503.3,643.7 503.4,641.8 503.6,644.3 503.7,643.7 503.8,643.6 503.9,644.2 504.1,644.4 504.2,644.5 504.3,644.1 504.5,644.3 504.6,643.7 504.7,645.1 504.9,644.3 505.0,643.5 505.1,643.2 505.3,644.2 505.4,645.0 505.5,643.5 505.6,643.7 505.8,644.4 505.9,643.5 506.0,644.3 506.2,643.7 506.3,644.6 506.4,643.7 506.6,644.4 506.7,644.2 506.8,643.4 507.0,643.8 507.1,644.5 507.2,643.4 507.3,643.3 507.5,644.5 507.6,644.1 507.7,643.6 507.9,643.3 508.0,643.2 508.1,643.5 508.3,644.3 508.4,643.3 508.5,644.6 508.7,644.3 508.8,643.0 508.9,642.7 509.0,644.4 509.2,644.4 509.3,644.8 509.4,643.5 509.6,644.1 509.7,644.3 509.8,643.8 510.0,643.3 510.1,644.1 510.2,642.9 510.4,643.0 510.5,643.1 510.6,643.7 510.8,643.8 510.9,643.4 511.0,643.6 511.1,643.2 511.3,643.5 511.4,643.1 511.5,643.0 511.7,643.8 511.8,644.2 511.9,642.9 512.1,643.4 512.2,644.2 512.3,643.8 512.5,644.3 512.6,645.0 512.7,644.2 512.8,645.2 513.0,644.4 513.1,644.2 513.2,643.0 513.4,643.4 513.5,643.1 513.6,643.9 513.8,644.1 513.9,644.7 514.0,643.6 514.2,644.2 514.3,644.6 514.4,644.0 514.5,644.4 514.7,644.5 514.8,644.0 514.9,643.1 515.1,643.9 515.2,644.5 515.3,644.3 515.5,643.0 515.6,644.4 515.7,643.5 515.9,644.1 516.0,643.3 516.1,643.5 516.2,644.6 516.4,644.2 516.5,643.1 516.6,643.9 516.8,643.5 516.9,644.0 517.0,643.7 517.2,643.3 517.3,643.2 517.4,642.0 517.6,642.8 517.7,642.4 517.8,642.3 517.9,642.3 518.1,641.5 518.2,639.7 518.3,640.8 518.5,639.2 518.6,640.1 518.7,641.3 518.9,642.2 519.0,641.9 519.1,642.2 519.3,642.3 519.4,643.2 519.5,643.0 519.6,642.0 519.8,641.9 519.9,641.8 520.0,642.8 520.2,643.3 520.3,643.2 520.4,643.3 520.6,643.0 520.7,642.6 520.8,642.7 521.0,643.4 521.1,642.4 521.2,643.7 521.4,643.9 521.5,642.7 521.6,644.3 521.7,643.9 521.9,643.8 522.0,643.1 522.1,644.4 522.3,643.5 522.4,644.0 522.5,644.4 522.7,643.7 522.8,643.5 522.9,644.0 523.1,644.2 523.2,644.0 523.3,643.1 523.4,643.2 523.6,643.7 523.7,643.9 523.8,644.7 524.0,644.1 524.1,644.4 524.2,644.6 524.4,644.5 524.5,644.4 524.6,644.4 524.8,644.0 524.9,645.0 525.0,644.0 525.1,643.0 525.3,643.7 525.4,643.4 525.5,644.3 525.7,645.4 525.8,644.3 525.9,645.4 526.1,643.5 526.2,644.0 526.3,644.2 526.5,644.2 526.6,644.2 526.7,644.1 526.8,643.7 527.0,645.0 527.1,643.9 527.2,643.6 527.4,643.1 527.5,643.9 527.6,645.1 527.8,644.4 527.9,644.3 528.0,643.9 528.2,644.4 528.3,644.0 528.4,644.0 528.5,644.7 528.7,643.0 528.8,644.5 528.9,643.9 529.1,643.6 529.2,644.4 529.3,644.0 529.5,643.1 529.6,644.2 529.7,643.8 529.9,644.1 530.0,644.2 530.1,643.6 530.2,644.2 530.4,644.2 530.5,643.9 530.6,644.4 530.8,644.2 530.9,645.1 531.0,644.2 531.2,643.5 531.3,643.4 531.4,643.9 531.6,644.3 531.7,644.5 531.8,643.9 532.0,643.4 532.1,643.9 532.2,643.4 532.3,644.4 532.5,643.7 532.6,644.7 532.7,643.9 532.9,644.7 533.0,643.8 533.1,643.4 533.3,644.1 533.4,644.0 533.5,644.2 533.7,645.1 533.8,644.9 533.9,645.0 534.0,643.5 534.2,643.3 534.3,644.2 534.4,644.4 534.6,644.1 534.7,644.4 534.8,644.3 535.0,643.9 535.1,644.2 535.2,644.2 535.4,643.9 535.5,642.7 535.6,643.9 535.7,643.6 535.9,644.2 536.0,643.7 536.1,643.4 536.3,643.8 536.4,643.6 536.5,643.9 536.7,644.6 536.8,645.1 536.9,643.6 537.1,644.8 537.2,643.8 537.3,644.8 537.4,644.8 537.6,644.0 537.7,644.4 537.8,644.1 538.0,644.5 538.1,643.4 538.2,643.0 538.4,643.6 538.5,642.7 538.6,644.0 538.8,643.8 538.9,644.4 539.0,644.6 539.1,642.7 539.3,643.2 539.4,643.6 539.5,645.0 539.7,643.9 539.8,643.9 539.9,644.0 540.1,643.8 540.2,644.1 540.3,643.3 540.5,644.1 540.6,643.5 540.7,642.9 540.8,642.7 541.0,641.7 541.1,640.6 541.2,639.4 541.4,637.7 541.5,637.8 541.6,637.7 541.8,639.6 541.9,639.6 542.0,639.9 542.2,641.4 542.3,641.7 542.4,642.1 542.5,640.6 542.7,641.2 542.8,641.0 542.9,640.0 543.1,639.9 543.2,640.3 543.3,640.7 543.5,642.0 543.6,642.6 543.7,643.2 543.9,643.3 544.0,643.9 544.1,643.7 544.3,643.5 544.4,643.4 544.5,643.3 544.6,643.9 544.8,644.8 544.9,643.9 545.0,644.4 545.2,645.1 545.3,644.4 545.4,645.0 545.6,644.7 545.7,645.0 545.8,643.9 546.0,644.2 546.1,643.5 546.2,643.9 546.3,644.5 546.5,643.3 546.6,643.4 546.7,643.6 546.9,644.4 547.0,644.1 547.1,644.5 547.3,644.1 547.4,644.1 547.5,643.6 547.7,643.4 547.8,643.8 547.9,643.4 548.0,644.1 548.2,643.0 548.3,643.7 548.4,643.3 548.6,644.3 548.7,644.0 548.8,643.5 549.0,643.9 549.1,643.8 549.2,644.5 549.4,643.6 549.5,644.1 549.6,644.0 549.7,644.2 549.9,644.9 550.0,643.6 550.1,643.7 550.3,645.0 550.4,644.9 550.5,644.3 550.7,644.3 550.8,645.0 550.9,643.2 551.1,643.5 551.2,644.3 551.3,644.8 551.4,643.9 551.6,643.0 551.7,643.8 551.8,643.7 552.0,644.8 552.1,644.2 552.2,644.7 552.4,642.7 552.5,643.4 552.6,644.7 552.8,644.9 552.9,643.6 553.0,643.9 553.1,644.0 553.3,643.2 553.4,642.6 553.5,643.7 553.7,645.0 553.8,644.3 553.9,644.7 554.1,645.2 554.2,644.4 554.3,644.4 554.5,644.3 554.6,643.7 554.7,644.0 554.9,643.5 555.0,643.9 555.1,643.9 555.2,644.3 555.4,643.8 555.5,644.0 555.6,644.1 555.8,644.5 555.9,644.3 556.0,645.2 556.2,642.9 556.3,644.6 556.4,644.4 556.6,644.9 556.7,644.6 556.8,644.1 556.9,644.3 557.1,644.5 557.2,644.6 557.3,644.6 557.5,644.9 557.6,643.5 557.7,644.7 557.9,644.7 558.0,644.2 558.1,643.6 558.3,644.9 558.4,644.5 558.5,644.0 558.6,644.0 558.8,644.9 558.9,644.9 559.0,644.7 559.2,643.8 559.3,644.4 559.4,644.0 559.6,644.4 559.7,644.3 559.8,643.9 560.0,644.2 560.1,644.3 560.2,644.8 560.3,644.7 560.5,643.8 560.6,644.0 560.7,644.5 560.9,644.1 561.0,644.3 561.1,644.3 561.3,644.1 561.4,643.2 561.5,642.6 561.7,644.5 561.8,645.1 561.9,644.8 562.0,644.6 562.2,644.6 562.3,644.2 562.4,643.5 562.6,643.3 562.7,643.0 562.8,643.3 563.0,644.4 563.1,643.8 563.2,644.7 563.4,644.1 563.5,644.2 563.6,643.2 563.7,643.5 563.9,644.5 564.0,644.2 564.1,643.9 564.3,643.7 564.4,643.5 564.5,643.9 564.7,643.7 564.8,644.6 564.9,644.3 565.1,645.1 565.2,643.1 565.3,643.1 565.5,643.6 565.6,643.6 565.7,642.9 565.8,643.3 566.0,645.0 566.1,644.4 566.2,645.8 566.4,644.9 566.5,645.1 566.6,644.3 566.8,643.8 566.9,644.1 567.0,643.6 567.2,643.3 567.3,644.2 567.4,644.4 567.5,645.8 567.7,644.8 567.8,644.3 567.9,644.5 568.1,645.3 568.2,644.7 568.3,644.5 568.5,645.3 568.6,644.3 568.7,644.8 568.9,644.1 569.0,643.9 569.1,642.8 569.2,644.2 569.4,644.7 569.5,643.6 569.6,644.1 569.8,643.6 569.9,645.4 570.0,644.2 570.2,644.7 570.3,645.2 570.4,643.9 570.6,644.3 570.7,644.3 570.8,644.8 570.9,645.1 571.1,644.5 571.2,645.2 571.3,644.2 571.5,643.9 571.6,644.8 571.7,644.8 571.9,644.4 572.0,644.2 572.1,644.1 572.3,643.9 572.4,644.7 572.5,644.5 572.6,644.1 572.8,643.5 572.9,644.6 573.0,643.8 573.2,644.5 573.3,644.7 573.4,643.6 573.6,643.9 573.7,644.3 573.8,644.0 574.0,644.2 574.1,644.5 574.2,643.5 574.3,644.3 574.5,644.8 574.6,644.2 574.7,643.8 574.9,644.5 575.0,644.3 575.1,644.4 575.3,643.8 575.4,644.3 575.5,642.9 575.7,644.2 575.8,643.7 575.9,644.0 576.0,644.7 576.2,644.3 576.3,644.8 576.4,644.7 576.6,644.3 576.7,644.5 576.8,643.4 577.0,643.8 577.1,643.8 577.2,645.4 577.4,644.7 577.5,645.2 577.6,644.5 577.8,643.9 577.9,644.5 578.0,644.8 578.1,644.1 578.3,643.9 578.4,643.4 578.5,645.2 578.7,644.1 578.8,644.6 578.9,644.9 579.1,644.0 579.2,644.6 579.3,645.0 579.5,644.4 579.6,643.7 579.7,643.0 579.8,644.2 580.0,644.6 580.1,644.9 580.2,644.5 580.4,644.3 580.5,644.1 580.6,644.9 580.8,644.4 580.9,645.3 581.0,644.2 581.2,645.2 581.3,645.5 581.4,643.2 581.5,643.9 581.7,643.9 581.8,644.0 581.9,644.2 582.1,643.5 582.2,644.6 582.3,643.5 582.5,644.4 582.6,645.6 582.7,644.0 582.9,643.3 583.0,644.4 583.1,643.8 583.2,644.2 583.4,644.1 583.5,645.3 583.6,643.6 583.8,644.4 583.9,644.0 584.0,644.9 584.2,644.8 584.3,643.4 584.4,644.2 584.6,644.8 584.7,645.7 584.8,645.0 584.9,644.3 585.1,644.6 585.2,644.3 585.3,644.9 585.5,643.6 585.6,644.8 585.7,644.4 585.9,643.7 586.0,644.0 586.1,644.5 586.3,644.3 586.4,644.6 586.5,643.7 586.6,644.6 586.8,644.8 586.9,644.3 587.0,643.7 587.2,644.7 587.3,643.6 587.4,644.2 587.6,644.5 587.7,645.8 587.8,644.4 588.0,643.4 588.1,644.3 588.2,642.8 588.4,644.1 588.5,644.5 588.6,644.2 588.7,644.6 588.9,644.2 589.0,644.2 589.1,643.2 589.3,644.1 589.4,644.1 589.5,644.9 589.7,644.9 589.8,644.1 589.9,644.4 590.1,644.3 590.2,644.4 590.3,644.1 590.4,643.7 590.6,643.8 590.7,643.5 590.8,643.9 591.0,644.2 591.1,644.7 591.2,644.0 591.4,644.2 591.5,644.9 591.6,643.5 591.8,645.3 591.9,644.7 592.0,644.2 592.1,644.8 592.3,642.9 592.4,644.5 592.5,644.8 592.7,643.7 592.8,644.8 592.9,644.8 593.1,644.3 593.2,644.1 593.3,643.7 593.5,643.9 593.6,644.8 593.7,644.0 593.8,643.0 594.0,644.6 594.1,644.4 594.2,643.9 594.4,643.5 594.5,644.5 594.6,644.8 594.8,644.8 594.9,643.9 595.0,644.0 595.2,645.4 595.3,645.6 595.4,645.1 595.5,645.4 595.7,644.3 595.8,643.8 595.9,643.5 596.1,643.6 596.2,644.1 596.3,643.0 596.5,644.3 596.6,644.7 596.7,644.3 596.9,643.7 597.0,645.2 597.1,643.9 597.2,643.8 597.4,644.5 597.5,644.2 597.6,644.6 597.8,644.4 597.9,643.8 598.0,644.6 598.2,643.7 598.3,644.0 598.4,644.1 598.6,645.5 598.7,645.4 598.8,644.1 599.0,644.4 599.1,644.6 599.2,644.4 599.3,644.8 599.5,644.1 599.6,644.5 599.7,644.6 599.9,644.3 600.0,645.0 600.1,643.6 600.3,644.7 600.4,642.2 600.5,644.3 600.7,643.7 600.8,643.7 600.9,644.2 601.0,643.5 601.2,643.9 601.3,644.8 601.4,644.1 601.6,643.6 601.7,644.3 601.8,644.8 602.0,644.3 602.1,643.9 602.2,644.0 602.4,643.8 602.5,644.3 602.6,644.2 602.7,645.6 602.9,643.2 603.0,644.6 603.1,643.8 603.3,644.4 603.4,644.1 603.5,644.4 603.7,643.7 603.8,643.9 603.9,644.1 604.1,643.3 604.2,644.3 604.3,643.5 604.4,644.0 604.6,643.0 604.7,643.9 604.8,643.6 605.0,643.1 605.1,644.9 605.2,642.9 605.4,643.9 605.5,644.3 605.6,644.7 605.8,644.0 605.9,645.3 606.0,644.4 606.1,644.3 606.3,643.1 606.4,644.2 606.5,643.7 606.7,643.8 606.8,643.4 606.9,645.0 607.1,644.7 607.2,645.5 607.3,644.9 607.5,644.3 607.6,644.1 607.7,644.6 607.8,644.5 608.0,644.1 608.1,644.9 608.2,644.6 608.4,645.0 608.5,643.7 608.6,643.3 608.8,644.3 608.9,644.5 609.0,643.2 609.2,643.8 609.3,644.6 609.4,645.2 609.5,644.5 609.7,642.7 609.8,644.4 609.9,642.5 610.1,644.2 610.2,644.3 610.3,643.8 610.5,644.5 610.6,643.8 610.7,644.4 610.9,644.4 611.0,644.1 611.1,643.7 611.3,644.0 611.4,645.0 611.5,644.0 611.6,644.3 611.8,644.3 611.9,644.2 612.0,645.2 612.2,643.0 612.3,644.0 612.4,643.1 612.6,642.9 612.7,642.7 612.8,642.9 613.0,642.4 613.1,642.2 613.2,641.9 613.3,641.4 613.5,641.8 613.6,640.9 613.7,640.7 613.9,639.6 614.0,639.3 614.1,638.1 614.3,638.8 614.4,638.5 614.5,639.3 614.7,639.8 614.8,640.2 614.9,639.7 615.0,639.3 615.2,638.5 615.3,639.1 615.4,639.1 615.6,639.0 615.7,637.9 615.8,638.1 616.0,638.7 616.1,638.0 616.2,639.4 616.4,639.0 616.5,639.4 616.6,639.4 616.7,640.5 616.9,639.7 617.0,639.8 617.1,641.4 617.3,641.1 617.4,640.8 617.5,640.0 617.7,641.1 617.8,641.8 617.9,641.5 618.1,640.8 618.2,642.0 618.3,641.9 618.4,641.2 618.6,643.5 618.7,643.8 618.8,642.1 619.0,642.2 619.1,643.6 619.2,642.9 619.4,643.3 619.5,643.2 619.6,643.7 619.8,643.7 619.9,643.9 620.0,643.3 620.1,643.1 620.3,642.0 620.4,642.3 620.5,643.6 620.7,642.0 620.8,641.6 620.9,642.1 621.1,642.2 621.2,643.4 621.3,643.0 621.5,643.7 621.6,641.9 621.7,643.2 621.9,641.4 622.0,643.2 622.1,643.1 622.2,642.3 622.4,642.5 622.5,642.4 622.6,641.5 622.8,641.6 622.9,642.1 623.0,641.2 623.2,640.8 623.3,640.2 623.4,639.1 623.6,640.3 623.7,639.6 623.8,639.3 623.9,639.9 624.1,639.7 624.2,638.4 624.3,636.5 624.5,636.9 624.6,635.5 624.7,635.4 624.9,633.2 625.0,632.4 625.1,630.1 625.3,626.4 625.4,622.4 625.5,616.2 625.6,611.5 625.8,598.4 625.9,582.5 626.0,564.0 626.2,543.3 626.3,519.1 626.4,497.0 626.6,484.1 626.7,487.9 626.8,504.7 627.0,528.4 627.1,553.2 627.2,572.3 627.3,585.6 627.5,593.7 627.6,595.2 627.7,592.6 627.9,584.0 628.0,577.2 628.1,567.9 628.3,558.8 628.4,558.9 628.5,563.2 628.7,573.1 628.8,585.6 628.9,597.6 629.0,608.3 629.2,617.2 629.3,622.4 629.4,627.5 629.6,630.0 629.7,632.8 629.8,633.8 630.0,636.1 630.1,635.6 630.2,637.5 630.4,638.7 630.5,639.0 630.6,639.3 630.7,639.0 630.9,639.7 631.0,641.2 631.1,640.7 631.3,640.9 631.4,641.9 631.5,641.5 631.7,642.5 631.8,642.0 631.9,643.5 632.1,642.7 632.2,642.8 632.3,642.8 632.5,642.5 632.6,641.5 632.7,642.3 632.8,642.4 633.0,642.5 633.1,642.6 633.2,642.9 633.4,643.2 633.5,643.6 633.6,643.1 633.8,643.0 633.9,642.6 634.0,643.0 634.2,642.5 634.3,643.2 634.4,642.1 634.5,642.7 634.7,643.5 634.8,642.6 634.9,644.5 635.1,642.4 635.2,643.5 635.3,643.7 635.5,644.6 635.6,642.3 635.7,643.5 635.9,643.3 636.0,642.3 636.1,643.2 636.2,643.7 636.4,643.2 636.5,643.9 636.6,643.1 636.8,643.5 636.9,642.8 637.0,644.1 637.2,642.7 637.3,643.3 637.4,642.4 637.6,643.7 637.7,642.6 637.8,643.1 637.9,643.0 638.1,643.9 638.2,643.7 638.3,643.8 638.5,644.7 638.6,644.7 638.7,644.4 638.9,643.5 639.0,644.1 639.1,643.7 639.3,643.7 639.4,643.9 639.5,643.8 639.6,644.2 639.8,643.5 639.9,644.4 640.0,644.3 640.2,644.7 640.3,643.5 640.4,644.0 640.6,644.2 640.7,643.7 640.8,645.0 641.0,644.4 641.1,644.2 641.2,643.7 641.3,644.4 641.5,643.7 641.6,643.7 641.7,644.6 641.9,645.3 642.0,645.4 642.1,643.7 642.3,643.5 642.4,644.2 642.5,643.7 642.7,643.7 642.8,643.3 642.9,643.1 643.1,641.9 643.2,643.4 643.3,643.0 643.4,643.4 643.6,643.5 643.7,643.3 643.8,642.7 644.0,642.4 644.1,641.9 644.2,641.6 644.4,642.0 644.5,640.5 644.6,642.0 644.8,640.8 644.9,639.7 645.0,641.6 645.1,640.9 645.3,640.8 645.4,641.1 645.5,642.0 645.7,640.7 645.8,641.4 645.9,642.3 646.1,641.1 646.2,642.4 646.3,641.5 646.5,642.8 646.6,642.7 646.7,644.2 646.8,644.1 647.0,644.6 647.1,644.3 647.2,643.8 647.4,644.1 647.5,644.5 647.6,644.4 647.8,645.5 647.9,646.1 648.0,645.4 648.2,645.1 648.3,645.0 648.4,645.4 648.5,645.5 648.7,646.1 648.8,644.9 648.9,645.5 649.1,643.5 649.2,643.5 649.3,642.7 649.5,642.9 649.6,642.6 649.7,643.5 649.9,643.0 650.0,644.2 650.1,643.1 650.2,643.0 650.4,642.5 650.5,643.7 650.6,643.9 650.8,643.3 650.9,643.3 651.0,643.2 651.2,643.4 651.3,643.3 651.4,643.0 651.6,643.1 651.7,643.7 651.8,643.9 651.9,643.5 652.1,643.1 652.2,643.7 652.3,643.5 652.5,643.6 652.6,643.9 652.7,644.7 652.9,644.5 653.0,645.3 653.1,644.7 653.3,644.1 653.4,644.7 653.5,643.6 653.6,643.3 653.8,644.4 653.9,643.4 654.0,644.7 654.2,644.5 654.3,644.3 654.4,643.9 654.6,644.2 654.7,644.5 654.8,643.3 655.0,644.1 655.1,644.1 655.2,644.0 655.4,643.7 655.5,644.0 655.6,644.3 655.7,645.1 655.9,643.4 656.0,644.8 656.1,645.2 656.3,644.8 656.4,644.9 656.5,642.9 656.7,643.6 656.8,643.1 656.9,643.2 657.1,644.0 657.2,644.1 657.3,644.8 657.4,644.3 657.6,644.6 657.7,644.4 657.8,644.5 658.0,643.1 658.1,643.3 658.2,644.0 658.4,645.1 658.5,643.7 658.6,643.6 658.8,644.0 658.9,644.8 659.0,644.0 659.1,643.9 659.3,645.3 659.4,644.1 659.5,645.1 659.7,644.2 659.8,643.1 659.9,644.0 660.1,643.7 660.2,644.4 660.3,644.2 660.5,643.2 660.6,643.5 660.7,644.4 660.8,644.3 661.0,644.4 661.1,643.3 661.2,644.7 661.4,643.7 661.5,644.8 661.6,645.2 661.8,644.4 661.9,644.5 662.0,644.9 662.2,644.5 662.3,644.9 662.4,644.9 662.5,645.5 662.7,643.9 662.8,644.1 662.9,643.5 663.1,644.4 663.2,644.0 663.3,644.3 663.5,643.7 663.6,643.6 663.7,643.7 663.9,644.2 664.0,644.9 664.1,644.9 664.2,644.6 664.4,644.6 664.5,645.0 664.6,643.8 664.8,644.4 664.9,645.1 665.0,645.0 665.2,645.0 665.3,644.4 665.4,643.8 665.6,645.0 665.7,644.2 665.8,644.2 666.0,643.5 666.1,643.7 666.2,644.4 666.3,643.8 666.5,643.9 666.6,644.6 666.7,645.1 666.9,644.3 667.0,643.9 667.1,644.3 667.3,644.2 667.4,644.5 667.5,644.7 667.7,644.2 667.8,643.6 667.9,644.7 668.0,643.8 668.2,644.8 668.3,645.0 668.4,644.5 668.6,644.1 668.7,644.7 668.8,644.1 669.0,644.0 669.1,644.0 669.2,644.4 669.4,644.5 669.5,645.3 669.6,644.5 669.7,644.0 669.9,643.3 670.0,644.7 670.1,644.6 670.3,644.7 670.4,643.5 670.5,645.2 670.7,644.3 670.8,642.7 670.9,643.5 671.1,644.8 671.2,644.3 671.3,643.7 671.4,643.8 671.6,644.6 671.7,645.3 671.8,644.4 672.0,644.4 672.1,643.6 672.2,644.1 672.4,644.4 672.5,643.7 672.6,644.4 672.8,644.0 672.9,644.6 673.0,644.6 673.1,645.0 673.3,645.2 673.4,645.0 673.5,644.0 673.7,643.6 673.8,643.3 673.9,644.2 674.1,643.5 674.2,644.1 674.3,643.5 674.5,644.8 674.6,643.5 674.7,644.6 674.8,643.8 675.0,644.7 675.1,643.9 675.2,644.3 675.4,644.9 675.5,644.4 675.6,644.3 675.8,644.8 675.9,645.9 676.0,645.4 676.2,645.1 676.3,644.8 676.4,644.4 676.6,644.7 676.7,645.1 676.8,644.5 676.9,644.6 677.1,644.1 677.2,644.7 677.3,644.0 677.5,644.5 677.6,643.8 677.7,644.2 677.9,644.2 678.0,645.0 678.1,644.5 678.3,644.8 678.4,644.4 678.5,643.9 678.6,642.4 678.8,644.2 678.9,644.2 679.0,644.9 679.2,644.0 679.3,644.1 679.4,643.4 679.6,644.0 679.7,643.3 679.8,643.9 680.0,645.3 680.1,644.3 680.2,644.4 680.3,645.4 680.5,644.6 680.6,644.5 680.7,645.1 680.9,644.8 681.0,645.5 681.1,644.0 681.3,644.0 681.4,644.3 681.5,644.5 681.7,644.3 681.8,644.4 681.9,643.8 682.0,644.2 682.2,643.5 682.3,644.7 682.4,643.9 682.6,644.9 682.7,644.4 682.8,644.6 683.0,643.5 683.1,643.9 683.2,643.7 683.4,643.6 683.5,644.4 683.6,643.8 683.7,643.2 683.9,643.3 684.0,643.5 684.1,642.9 684.3,642.8 684.4,642.7 684.5,642.5 684.7,643.3 684.8,642.9 684.9,642.7 685.1,644.0 685.2,643.8 685.3,644.5 685.4,643.9 685.6,643.4 685.7,644.1 685.8,644.4 686.0,643.3 686.1,643.5 686.2,643.3 686.4,644.3 686.5,643.9 686.6,643.5 686.8,644.5 686.9,643.3 687.0,644.5 687.1,644.0 687.3,644.4 687.4,644.6 687.5,643.9 687.7,643.8 687.8,643.5 687.9,643.7 688.1,645.3 688.2,644.2 688.3,645.4 688.5,644.5 688.6,644.8 688.7,644.9 688.9,644.5 689.0,644.9 689.1,643.8 689.2,644.2 689.4,643.9 689.5,644.1 689.6,644.1 689.8,644.7 689.9,643.4 690.0,645.2 690.2,644.4 690.3,645.0 690.4,644.8 690.6,644.3 690.7,644.7 690.8,643.8 690.9,644.1 691.1,644.0 691.2,643.6 691.3,644.1 691.5,645.1 691.6,644.8 691.7,644.6 691.9,643.1 692.0,644.3 692.1,643.8 692.3,644.1 692.4,643.3 692.5,644.3 692.6,643.7 692.8,644.4 692.9,644.7 693.0,644.9 693.2,644.5 693.3,643.3 693.4,643.6 693.6,643.9 693.7,643.9 693.8,644.8 694.0,644.5 694.1,644.6 694.2,643.8 694.3,643.9 694.5,645.3 694.6,644.5 694.7,643.8 694.9,644.5 695.0,644.1 695.1,644.2 695.3,643.7 695.4,644.0 695.5,643.9 695.7,643.8 695.8,643.5 695.9,644.0 696.0,643.0 696.2,643.8 696.3,644.5 696.4,644.6 696.6,643.8 696.7,644.2 696.8,644.0 697.0,644.3 697.1,643.4 697.2,643.2 697.4,642.7 697.5,643.8 697.6,644.0 697.7,643.8 697.9,644.3 698.0,644.1 698.1,644.2 698.3,645.0 698.4,643.7 698.5,643.9 698.7,644.4 698.8,643.8 698.9,643.5 699.1,643.5 699.2,644.2 699.3,644.8 699.5,644.0 699.6,644.0 699.7,643.1 699.8,643.3 700.0,643.1 700.1,643.0 700.2,642.6 700.4,643.1 700.5,642.5 700.6,642.9 700.8,643.5 700.9,642.6 701.0,642.3 701.2,641.8 701.3,641.4 701.4,642.0 701.5,640.2 701.7,640.3 701.8,639.8 701.9,637.8 702.1,637.4 702.2,636.1 702.3,633.4 702.5,631.2 702.6,629.8 702.7,626.0 702.9,624.6 703.0,625.8 703.1,625.9 703.2,629.9 703.4,632.3 703.5,636.2 703.6,635.9 703.8,638.2 703.9,638.2 704.0,639.9 704.2,637.9 704.3,637.8 704.4,636.5 704.6,638.8 704.7,635.4 704.8,635.3 704.9,637.3 705.1,636.3 705.2,636.9 705.3,637.1 705.5,639.9 705.6,640.6 705.7,641.6 705.9,641.9 706.0,642.6 706.1,642.3 706.3,642.7 706.4,644.1 706.5,643.1 706.6,644.1 706.8,643.4 706.9,643.1 707.0,643.4 707.2,643.5 707.3,643.5 707.4,644.0 707.6,644.7 707.7,644.7 707.8,643.5 708.0,643.4 708.1,643.6 708.2,644.2 708.3,644.3 708.5,644.7 708.6,645.3 708.7,644.0 708.9,643.9 709.0,643.9 709.1,644.5 709.3,644.3 709.4,643.4 709.5,644.3 709.7,644.3 709.8,644.1 709.9,644.2 710.1,643.6 710.2,644.2 710.3,643.4 710.4,643.5 710.6,642.9 710.7,644.0 710.8,644.1 711.0,643.8 711.1,645.0 711.2,645.0 711.4,644.1 711.5,643.9 711.6,644.9 711.8,644.3 711.9,644.4 712.0,644.3 712.1,644.2 712.3,644.6 712.4,643.8 712.5,644.1 712.7,644.6 712.8,644.5 712.9,644.0 713.1,643.8 713.2,643.6 713.3,644.0 713.5,643.8 713.6,643.0 713.7,644.2 713.8,643.8 714.0,643.8 714.1,644.3 714.2,644.4 714.4,643.7 714.5,644.8 714.6,644.7 714.8,645.2 714.9,643.4 715.0,644.2 715.2,644.1 715.3,643.9 715.4,644.2 715.5,644.2 715.7,644.2 715.8,644.4 715.9,645.4 716.1,643.5 716.2,643.7 716.3,644.5 716.5,643.8 716.6,645.1 716.7,645.6 716.9,643.7 717.0,644.4 717.1,645.6 717.2,644.8 717.4,644.0 717.5,644.5 717.6,643.8 717.8,643.1 717.9,643.6 718.0,644.2 718.2,644.1 718.3,644.5 718.4,643.9 718.6,643.9 718.7,644.7 718.8,644.9 718.9,643.7 719.1,644.5 719.2,644.9 719.3,644.0 719.5,642.8 719.6,642.8 719.7,644.3 719.9,644.2 720.0,644.0 720.1,644.5 720.3,644.9 720.4,644.6 720.5,644.4 720.7,645.0 720.8,645.5 720.9,645.1 721.0,644.5 721.2,644.3 721.3,644.5 721.4,643.2 721.6,644.5 721.7,643.9 721.8,644.6 722.0,643.6 722.1,644.1 722.2,644.8 722.4,644.6 722.5,643.6 722.6,644.2 722.7,644.6 722.9,643.9 723.0,645.0 723.1,644.7 723.3,644.9 723.4,644.3 723.5,643.9 723.7,643.5 723.8,643.5 723.9,643.7 724.1,643.0 724.2,644.6 724.3,644.4 724.4,643.9 724.6,644.5 724.7,644.3 724.8,644.2 725.0,644.5 725.1,643.6 725.2,643.1 725.4,644.7 725.5,645.3 725.6,644.5 725.8,645.0 725.9,644.0 726.0,644.4 726.1,643.7 726.3,643.8 726.4,643.7 726.5,644.4 726.7,644.5 726.8,645.1 726.9,645.2 727.1,644.5 727.2,644.3 727.3,644.0 727.5,644.2 727.6,644.8 727.7,645.7 727.8,646.1 728.0,645.4 728.1,646.6 728.2,645.4 728.4,646.0 728.5,645.6 728.6,645.8 728.8,645.4 728.9,645.1 729.0,646.2 729.2,646.3 729.3,645.9 729.4,645.7 729.5,644.7 729.7,645.0 729.8,644.7 729.9,644.7 730.1,644.7 730.2,643.8 730.3,645.2 730.5,644.4 730.6,644.5 730.7,645.0 730.9,644.7 731.0,644.0 731.1,644.4 731.2,645.6 731.4,645.2 731.5,644.5 731.6,644.9 731.8,643.6 731.9,643.3 732.0,644.5 732.2,644.0 732.3,645.0 732.4,644.7 732.6,644.6 732.7,643.7 732.8,644.7 733.0,644.3 733.1,644.3 733.2,644.1 733.3,645.3 733.5,645.0 733.6,644.5 733.7,644.4 733.9,644.2 734.0,644.2 734.1,643.0 734.3,643.7 734.4,643.7 734.5,644.9 734.7,644.3 734.8,644.2 734.9,643.9 735.0,644.8 735.2,644.7 735.3,644.0 735.4,644.9 735.6,645.5 735.7,644.2 735.8,643.8 736.0,644.2 736.1,644.4 736.2,643.1 736.4,644.4 736.5,644.6 736.6,644.2 736.7,644.2 736.9,645.0 737.0,644.8 737.1,644.4 737.3,644.4 737.4,644.2 737.5,644.1 737.7,644.7 737.8,644.1 737.9,644.9 738.1,644.0 738.2,644.6 738.3,644.3 738.4,645.1 738.6,644.7 738.7,644.9 738.8,643.6 739.0,644.8 739.1,644.4 739.2,645.2 739.4,644.5 739.5,644.0 739.6,644.6 739.8,643.8 739.9,644.5 740.0,644.5 740.1,644.3 740.3,644.4 740.4,643.6 740.5,644.5 740.7,643.9 740.8,643.8 740.9,644.3 741.1,644.6 741.2,644.9 741.3,644.6 741.5,644.2 741.6,644.4 741.7,645.1 741.8,644.3 742.0,644.4 742.1,644.4 742.2,644.6 742.4,643.9 742.5,645.1 742.6,645.0 742.8,644.1 742.9,645.1 743.0,644.7 743.2,644.9 743.3,645.5 743.4,643.9 743.6,643.4 743.7,643.8 743.8,644.6 743.9,643.7 744.1,644.9 744.2,644.7 744.3,644.5 744.5,644.9 744.6,645.2 744.7,644.3 744.9,644.3 745.0,644.7 745.1,644.6 745.3,643.8 745.4,644.2 745.5,644.5 745.6,644.8 745.8,644.4 745.9,644.3 746.0,644.3 746.2,645.0 746.3,644.2 746.4,644.4 746.6,644.1 746.7,643.9 746.8,644.0 747.0,644.1 747.1,644.1 747.2,644.0 747.3,643.6 747.5,644.2 747.6,644.3 747.7,644.5 747.9,644.2 748.0,644.3 748.1,643.5 748.3,643.9 748.4,644.3 748.5,643.6 748.7,644.7 748.8,643.8 748.9,643.7 749.0,642.1 749.2,644.3 749.3,644.3 749.4,644.5 749.6,644.4 749.7,643.9 749.8,644.9 750.0,644.4 750.1,643.8 750.2,643.8 750.4,644.9 750.5,645.4 750.6,644.0 750.7,644.3 750.9,644.1 751.0,644.7 751.1,644.5 751.3,644.1 751.4,643.8 751.5,643.7 751.7,643.8 751.8,643.6 751.9,644.6 752.1,644.6 752.2,644.5 752.3,644.2 752.4,643.6 752.6,643.7 752.7,643.8 752.8,643.1 753.0,643.9 753.1,644.5 753.2,644.0 753.4,644.8 753.5,644.2 753.6,644.2 753.8,644.1 753.9,643.8 754.0,643.4 754.2,644.5 754.3,644.1 754.4,643.8 754.5,643.9 754.7,643.9 754.8,643.0 754.9,643.6 755.1,643.8 755.2,643.8 755.3,644.0 755.5,644.1 755.6,644.9 755.7,643.8 755.9,645.3 756.0,644.1 756.1,644.0 756.2,644.3 756.4,643.0 756.5,642.8 756.6,642.9 756.8,640.9 756.9,641.4 757.0,642.5 757.2,642.9 757.3,643.4 757.4,643.3 757.6,643.4 757.7,644.8 757.8,644.4 757.9,644.4 758.1,643.8 758.2,643.7 758.3,643.4 758.5,642.1 758.6,641.9 758.7,642.0 758.9,643.2 759.0,641.5 759.1,641.2 759.3,641.6 759.4,642.0 759.5,642.3 759.6,643.3 759.8,644.1 759.9,642.9 760.0,644.0 760.2,643.5 760.3,643.9 760.4,643.7 760.6,642.9 760.7,644.6 760.8,644.3 761.0,645.3 761.1,644.5 761.2,644.0 761.3,643.7 761.5,643.9 761.6,644.5 761.7,643.8 761.9,643.7 762.0,643.9 762.1,643.0 762.3,643.9 762.4,644.5 762.5,644.3 762.7,643.6 762.8,643.2 762.9,644.5 763.0,643.5 763.2,643.2 763.3,644.1 763.4,643.4 763.6,644.2 763.7,643.5 763.8,643.5 764.0,643.4 764.1,644.5 764.2,643.8 764.4,644.7 764.5,643.5 764.6,643.6 764.7,642.5 764.9,643.2 765.0,643.6 765.1,644.2 765.3,643.6 765.4,644.0 765.5,642.3 765.7,644.9 765.8,643.6 765.9,645.3 766.1,643.3 766.2,644.2 766.3,642.6 766.5,643.9 766.6,643.1 766.7,643.4 766.8,642.7 767.0,643.1 767.1,644.6 767.2,643.5 767.4,644.2 767.5,642.9 767.6,642.9 767.8,642.7 767.9,642.9 768.0,643.3 768.2,644.2 768.3,642.6 768.4,643.0 768.5,642.7 768.7,643.1 768.8,642.8 768.9,642.3 769.1,642.4 769.2,642.4 769.3,642.2 769.5,642.9 769.6,642.3 769.7,642.8 769.9,642.0 770.0,641.7 770.1,641.0 770.2,641.1 770.4,640.9 770.5,641.2 770.6,640.7 770.8,640.4 770.9,639.9 771.0,641.2 771.2,640.0 771.3,639.1 771.4,638.0 771.6,637.6 771.7,636.6 771.8,637.1 771.9,634.2 772.1,634.8 772.2,633.1 772.3,631.3 772.5,629.1 772.6,626.7 772.7,623.0 772.9,618.4 773.0,613.8 773.1,605.7 773.3,594.6 773.4,583.2 773.5,566.5 773.6,545.3 773.8,518.9 773.9,494.1 774.0,474.0 774.2,462.5 774.3,466.4 774.4,483.3 774.6,510.7 774.7,534.9 774.8,557.1 775.0,574.5 775.1,587.8 775.2,597.1 775.3,600.7 775.5,604.1 775.6,596.5 775.7,593.7 775.9,586.0 776.0,577.6 776.1,565.9 776.3,554.0 776.4,547.0 776.5,546.9 776.7,553.7 776.8,563.1 776.9,576.5 777.1,588.1 777.2,601.1 777.3,609.3 777.4,615.9 777.6,622.3 777.7,625.3 777.8,630.3 778.0,632.6 778.1,633.6 778.2,634.2 778.4,635.7 778.5,637.1 778.6,637.0 778.8,638.3 778.9,639.2 779.0,639.4 779.1,639.6 779.3,639.4 779.4,640.0 779.5,640.7 779.7,640.8 779.8,640.9 779.9,640.7 780.1,641.0 780.2,641.9 780.3,641.8 780.5,641.8 780.6,641.4 780.7,641.8 780.8,640.9 781.0,642.1 781.1,642.2 781.2,643.0 781.4,643.4 781.5,642.5 781.6,642.5 781.8,642.6 781.9,642.8 782.0,643.1 782.2,643.4 782.3,643.1 782.4,642.4 782.5,642.1 782.7,644.5 782.8,643.0 782.9,642.8 783.1,642.8 783.2,643.1 783.3,643.2 783.5,643.8 783.6,643.7 783.7,643.3 783.9,643.9 784.0,643.6 784.1,643.5 784.2,644.7 784.4,644.3 784.5,645.0 784.6,643.9 784.8,643.7 784.9,644.0 785.0,644.2 785.2,644.2 785.3,645.2 785.4,644.6 785.6,644.4 785.7,643.4 785.8,644.3 785.9,643.8 786.1,643.0 786.2,642.7 786.3,644.0 786.5,643.6 786.6,643.5 786.7,643.7 786.9,644.4 787.0,644.2 787.1,643.4 787.3,642.5 787.4,643.8 787.5,643.2 787.7,643.0 787.8,644.8 787.9,644.4 788.0,643.4 788.2,643.7 788.3,643.6 788.4,644.1 788.6,643.8 788.7,644.7 788.8,643.3 789.0,645.1 789.1,645.7 789.2,644.6 789.4,643.9 789.5,644.5 789.6,644.0 789.7,644.3 789.9,643.7 790.0,644.2 790.1,644.5 790.3,644.7 790.4,644.4 790.5,643.3 790.7,644.2 790.8,643.8 790.9,642.7 791.1,644.2 791.2,644.4 791.3,643.9 791.4,644.9 791.6,644.5 791.7,643.9 791.8,645.0 792.0,644.4 792.1,643.3 792.2,644.6 792.4,644.6 792.5,644.5 792.6,644.6 792.8,644.8 792.9,643.4 793.0,644.7 793.1,644.5 793.3,644.8 793.4,644.3 793.5,644.6 793.7,643.8 793.8,644.4 793.9,643.9 794.1,644.9 794.2,644.6 794.3,643.9 794.5,644.2 794.6,644.6 794.7,644.6 794.8,645.3 795.0,644.6 795.1,645.7 795.2,644.4 795.4,644.1 795.5,644.3 795.6,643.8 795.8,644.1 795.9,643.6 796.0,644.5 796.2,644.6 796.3,644.6 796.4,645.8 796.5,643.7 796.7,644.0 796.8,643.6 796.9,644.3 797.1,643.5 797.2,644.1 797.3,645.3 797.5,645.1 797.6,643.9 797.7,644.3 797.9,644.0 798.0,644.5 798.1,643.8 798.3,645.2 798.4,644.9 798.5,644.4 798.6,644.6 798.8,644.2 798.9,644.1 799.0,644.9 799.2,644.1 799.3,643.5 799.4,643.7 799.6,643.3 799.7,644.1 799.8,644.7 800.0,644.1 800.1,644.4 800.2,643.8 800.3,644.5 800.5,645.7 800.6,645.3 800.7,644.7 800.9,644.5 801.0,644.3 801.1,643.4 801.3,644.3 801.4,644.7 801.5,644.1 801.7,644.8 801.8,644.4 801.9,643.8 802.0,643.8 802.2,644.8 802.3,644.4 802.4,645.6 802.6,644.7 802.7,644.6 802.8,645.6 803.0,644.1 803.1,643.8 803.2,644.3 803.4,643.9 803.5,643.5 803.6,644.3 803.7,643.9 803.9,644.1 804.0,645.3 804.1,645.0 804.3,645.1 804.4,644.2 804.5,644.7 804.7,644.2 804.8,644.6 804.9,644.8 805.1,643.6 805.2,643.4 805.3,644.3 805.4,644.1 805.6,643.2 805.7,644.6 805.8,644.5 806.0,645.5 806.1,644.5 806.2,644.2 806.4,644.5 806.5,644.7 806.6,645.3 806.8,645.1 806.9,644.2 807.0,644.7 807.1,643.3 807.3,644.2 807.4,643.8 807.5,644.5 807.7,644.5 807.8,644.7 807.9,645.8 808.1,644.4 808.2,643.6 808.3,644.1 808.5,643.9 808.6,644.8 808.7,644.1 808.8,644.5 809.0,644.7 809.1,644.8 809.2,644.2 809.4,644.3 809.5,644.2 809.6,644.3 809.8,644.7 809.9,644.4 810.0,645.1 810.2,644.1 810.3,643.7 810.4,644.5 810.6,645.1 810.7,644.6 810.8,645.0 810.9,644.8 811.1,644.2 811.2,644.1 811.3,644.5 811.5,645.3 811.6,644.0 811.7,644.7 811.9,644.7 812.0,644.3 812.1,643.8 812.3,644.8 812.4,643.5 812.5,644.2 812.6,643.7 812.8,644.6 812.9,645.0 813.0,644.1 813.2,643.7 813.3,644.7 813.4,644.5 813.6,644.7 813.7,643.7 813.8,644.7 814.0,644.6 814.1,645.6 814.2,644.1 814.3,645.1 814.5,644.7 814.6,643.8 814.7,644.2 814.9,644.2 815.0,645.1 815.1,645.0 815.3,645.8 815.4,644.5 815.5,644.1 815.7,644.2 815.8,644.3 815.9,643.9 816.0,644.2 816.2,644.2 816.3,644.5 816.4,644.5 816.6,644.8 816.7,645.5 816.8,643.8 817.0,644.2 817.1,643.2 817.2,645.5 817.4,644.5 817.5,645.4 817.6,644.9 817.7,645.1 817.9,644.3 818.0,644.8 818.1,644.5 818.3,645.3 818.4,644.5 818.5,644.1 818.7,644.2 818.8,644.9 818.9,644.0 819.1,644.6 819.2,644.2 819.3,645.0 819.4,644.9 819.6,646.0 819.7,643.8 819.8,644.7 820.0,643.9 820.1,643.5 820.2,645.0 820.4,643.9 820.5,644.4 820.6,644.2 820.8,645.1 820.9,644.4 821.0,644.2 821.2,643.5 821.3,643.0 821.4,644.3 821.5,644.6 821.7,643.5 821.8,644.4 821.9,644.6 822.1,644.5 822.2,644.2 822.3,644.0 822.5,644.7 822.6,644.8 822.7,643.9 822.9,644.1 823.0,644.6 823.1,644.6 823.2,644.9 823.4,644.4 823.5,644.9 823.6,644.6 823.8,644.6 823.9,644.7 824.0,644.6 824.2,645.0 824.3,645.2 824.4,644.5 824.6,644.1 824.7,644.4 824.8,644.6 824.9,644.7 825.1,644.0 825.2,644.1 825.3,644.2 825.5,644.4 825.6,644.3 825.7,643.5 825.9,644.2 826.0,645.1 826.1,644.5 826.3,643.9 826.4,643.7 826.5,644.5 826.6,644.5 826.8,645.1 826.9,645.0 827.0,644.0 827.2,644.4 827.3,645.2 827.4,644.9 827.6,644.7 827.7,645.0 827.8,644.9 828.0,645.0 828.1,645.5 828.2,644.5 828.3,644.6 828.5,644.5 828.6,643.5 828.7,644.1 828.9,644.4 829.0,643.9 829.1,644.1 829.3,644.8 829.4,643.9 829.5,644.3 829.7,645.1 829.8,643.5 829.9,643.3 830.0,644.8 830.2,644.3 830.3,645.5 830.4,643.8 830.6,644.4 830.7,644.5 830.8,644.0 831.0,644.0 831.1,644.2 831.2,643.6 831.4,644.6 831.5,644.0 831.6,644.3 831.8,644.0 831.9,644.2 832.0,644.5 832.1,645.3 832.3,644.2 832.4,645.1 832.5,644.2 832.7,645.3 832.8,644.8 832.9,644.6 833.1,643.8 833.2,644.8 833.3,644.4 833.5,645.6 833.6,645.2 833.7,644.9 833.8,644.6 834.0,645.0 834.1,644.0 834.2,645.0 834.4,643.9 834.5,644.8 834.6,643.6 834.8,644.3 834.9,644.7 835.0,645.3 835.2,644.8 835.3,644.3 835.4,645.4 835.5,644.3 835.7,645.5 835.8,644.8 835.9,646.0 836.1,644.4 836.2,644.7 836.3,645.0 836.5,644.8 836.6,644.7 836.7,644.4 836.9,644.1 837.0,644.9 837.1,644.3 837.2,644.2 837.4,644.7 837.5,644.4 837.6,644.1 837.8,644.4 837.9,643.1 838.0,644.7 838.2,643.8 838.3,644.2 838.4,645.9 838.6,644.6 838.7,644.3 838.8,644.1 838.9,645.0 839.1,644.2 839.2,645.0 839.3,644.8 839.5,644.2 839.6,644.2 839.7,643.6 839.9,644.5 840.0,643.8 840.1,644.6 840.3,644.7 840.4,644.8 840.5,644.0 840.6,645.3 840.8,645.3 840.9,644.1 841.0,643.8 841.2,645.0 841.3,644.7 841.4,645.0 841.6,643.9 841.7,644.4 841.8,644.5 842.0,644.4 842.1,644.7 842.2,644.3 842.3,644.9 842.5,644.5 842.6,644.8 842.7,644.0 842.9,644.5 843.0,643.6 843.1,645.2 843.3,644.2 843.4,644.3 843.5,643.8 843.7,644.1 843.8,645.1 843.9,645.0 844.1,644.2 844.2,644.7 844.3,644.8 844.4,644.7 844.6,644.0 844.7,644.2 844.8,644.9 845.0,644.5 845.1,643.5 845.2,643.4 845.4,644.3 845.5,644.8 845.6,644.0 845.8,644.7 845.9,645.0 846.0,644.1 846.1,643.9 846.3,643.9 846.4,645.2 846.5,644.7 846.7,644.6 846.8,643.8 846.9,644.4 847.1,644.3 847.2,645.0 847.3,644.4 847.5,644.7 847.6,646.3 847.7,644.1 847.8,644.9 848.0,644.9 848.1,645.2 848.2,644.6 848.4,644.3 848.5,645.1 848.6,644.4 848.8,644.2 848.9,644.2 849.0,644.9 849.2,644.8 849.3,645.4 849.4,644.5 849.5,643.8 849.7,643.9 849.8,644.7 849.9,644.8 850.1,645.1 850.2,644.6 850.3,645.2 850.5,645.0 850.6,645.8 850.7,645.1 850.9,645.1 851.0,644.7 851.1,643.6 851.2,644.5 851.4,644.8 851.5,643.9 851.6,644.7 851.8,644.1 851.9,643.7 852.0,643.9 852.2,644.5 852.3,644.1 852.4,644.3 852.6,645.8 852.7,645.4 852.8,644.2 852.9,644.6 853.1,644.8 853.2,644.4 853.3,643.8 853.5,644.6 853.6,643.9 853.7,643.7 853.9,644.6 854.0,644.1 854.1,644.1 854.3,643.9 854.4,644.1 854.5,645.3 854.7,644.0 854.8,644.0 854.9,643.5 855.0,644.5 855.2,643.9 855.3,644.4 855.4,645.1 855.6,643.8 855.7,644.3 855.8,644.6 856.0,644.0 856.1,644.7 856.2,644.1 856.4,644.3 856.5,644.3 856.6,644.1 856.7,644.3 856.9,643.8 857.0,643.9 857.1,644.7 857.3,643.9 857.4,643.9 857.5,644.7 857.7,644.5 857.8,644.5 857.9,644.4 858.1,645.3 858.2,644.1 858.3,644.3 858.4,644.4 858.6,644.2 858.7,644.4 858.8,643.5 859.0,644.1 859.1,644.3 859.2,643.8 859.4,644.1 859.5,644.2 859.6,644.5 859.8,644.5 859.9,644.3 860.0,645.3 860.1,645.0 860.3,643.8 860.4,644.5 860.5,643.4 860.7,643.5 860.8,645.0 860.9,644.3 861.1,643.2 861.2,645.0 861.3,644.5 861.5,645.0 861.6,644.8 861.7,644.7 861.8,644.3 862.0,644.2 862.1,644.9 862.2,644.3 862.4,644.8 862.5,644.4 862.6,644.3 862.8,645.0 862.9,644.2 863.0,645.1 863.2,645.2 863.3,644.3 863.4,645.4 863.5,644.2 863.7,644.2 863.8,645.0 863.9,644.1 864.1,644.6 864.2,645.5 864.3,644.8 864.5,644.4 864.6,644.7 864.7,644.1 864.9,643.9 865.0,644.8 865.1,645.6 865.3,645.1 865.4,645.3 865.5,645.5 865.6,644.5 865.8,645.9 865.9,645.1 866.0,643.9 866.2,645.8 866.3,643.8 866.4,644.7 866.6,644.8 866.7,645.2 866.8,644.5 867.0,644.5 867.1,644.7 867.2,644.9 867.3,644.3 867.5,643.8 867.6,645.0 867.7,644.3 867.9,644.5 868.0,645.3 868.1,643.7 868.3,644.1 868.4,643.2 868.5,643.5 868.7,644.5 868.8,644.4 868.9,644.9 869.0,644.9 869.2,644.2 869.3,644.7 869.4,644.8 869.6,644.6 869.7,644.3 869.8,644.3 870.0,644.5 870.1,644.7 870.2,644.4 870.4,643.3 870.5,645.1 870.6,645.0 870.7,644.4 870.9,644.5 871.0,643.8 871.1,643.6 871.3,643.3 871.4,644.5 871.5,644.1 871.7,644.7 871.8,644.2 871.9,644.5 872.1,644.0 872.2,644.7 872.3,644.3 872.4,644.7 872.6,644.6 872.7,644.9 872.8,645.3 873.0,644.5 873.1,644.6 873.2,644.2 873.4,645.1 873.5,645.6 873.6,644.9 873.8,644.5 873.9,644.2 874.0,644.2 874.1,644.3 874.3,643.6 874.4,644.1 874.5,644.3 874.7,645.0 874.8,644.2 874.9,644.7 875.1,644.7 875.2,643.9 875.3,643.9 875.5,643.7 875.6,644.7 875.7,643.6 875.9,644.1 876.0,644.0 876.1,644.7 876.2,644.8 876.4,645.1 876.5,643.7 876.6,644.8 876.8,643.8 876.9,644.2 877.0,644.7 877.2,644.6 877.3,644.2 877.4,643.6 877.6,643.7 877.7,643.9 877.8,644.9 877.9,645.4 878.1,644.0 878.2,645.2 878.3,645.1 878.5,643.6 878.6,645.0 878.7,644.2 878.9,644.1 879.0,644.3 879.1,643.9 879.3,645.2 879.4,645.3 879.5,644.7 879.6,644.6 879.8,644.2 879.9,644.3 880.0,645.0 880.2,645.9 880.3,644.5 880.4,644.6 880.6,644.0 880.7,643.1 880.8,643.9 881.0,643.8 881.1,644.9 881.2,644.0 881.3,644.2 881.5,643.9 881.6,643.6 881.7,644.6 881.9,644.1 882.0,644.4 882.1,643.9 882.3,645.6 882.4,644.9 882.5,643.5 882.7,644.7 882.8,644.6 882.9,643.8 883.0,643.6 883.2,644.5 883.3,645.2 883.4,645.0 883.6,645.0 883.7,645.1 883.8,644.9 884.0,644.3 884.1,644.3 884.2,644.1 884.4,644.7 884.5,645.1 884.6,644.2 884.7,644.2 884.9,644.5 885.0,644.2 885.1,643.8 885.3,644.0 885.4,644.4 885.5,644.1 885.7,644.0 885.8,644.7 885.9,644.4 886.1,645.0 886.2,644.2 886.3,644.3 886.4,644.1 886.6,644.4 886.7,644.5 886.8,644.8 887.0,644.7 887.1,645.1 887.2,644.7 887.4,644.7 887.5,645.6 887.6,644.9 887.8,644.7 887.9,644.3 888.0,644.7 888.2,644.5 888.3,643.4 888.4,644.0 888.5,643.3 888.7,644.5 888.8,644.3 888.9,645.5 889.1,644.4 889.2,644.9 889.3,644.4 889.5,645.7 889.6,645.5 889.7,645.0 889.9,644.8 890.0,645.7 890.1,645.1 890.2,643.5 890.4,644.1 890.5,644.4 890.6,645.9 890.8,645.1 890.9,644.3 891.0,644.4 891.2,644.2 891.3,643.8 891.4,643.9 891.6,643.7 891.7,644.8 891.8,642.6 891.9,644.0 892.1,644.5 892.2,643.5 892.3,644.0 892.5,643.8 892.6,644.7 892.7,644.3 892.9,644.1 893.0,645.3 893.1,644.8 893.3,645.1 893.4,644.5 893.5,644.4 893.6,644.1 893.8,643.6 893.9,643.8 894.0,643.3 894.2,643.8 894.3,644.1 894.4,644.8 894.6,644.2 894.7,644.6 894.8,643.5 895.0,643.6 895.1,643.8 895.2,644.6 895.3,644.9 895.5,644.1 895.6,644.4 895.7,643.1 895.9,644.0 896.0,644.5 896.1,644.1 896.3,643.5 896.4,644.7 896.5,644.1 896.7,645.2 896.8,644.5 896.9,644.6 897.0,643.7 897.2,643.6 897.3,643.2 897.4,643.4 897.6,644.1 897.7,644.7 897.8,644.6 898.0,644.4 898.1,643.9 898.2,643.9 898.4,642.9 898.5,643.2 898.6,644.2 898.8,644.4 898.9,643.9 899.0,643.6 899.1,643.5 899.3,644.6 899.4,643.9 899.5,644.5 899.7,643.4 899.8,643.2 899.9,643.7 900.1,643.1 900.2,643.2 900.3,643.2 900.5,641.8 900.6,642.4 900.7,642.7 900.8,643.2 901.0,642.9 901.1,643.2 901.2,642.5 901.4,643.0 901.5,642.2 901.6,642.2 901.8,643.0 901.9,641.2 902.0,641.9 902.2,641.9 902.3,642.1 902.4,641.0 902.5,640.4 902.7,639.9 902.8,639.7 902.9,638.6 903.1,636.9 903.2,635.1 903.3,634.6 903.5,630.4 903.6,627.9 903.7,623.0 903.9,616.9 904.0,610.6 904.1,602.0 904.2,593.1 904.4,585.1 904.5,578.2 904.6,572.5 904.8,574.0 904.9,581.6 905.0,590.9 905.2,599.4 905.3,607.5 905.4,616.2 905.6,619.7 905.7,625.5 905.8,627.6 905.9,630.6 906.1,630.7 906.2,631.3 906.3,630.3 906.5,628.6 906.6,628.1 906.7,625.1 906.9,621.1 907.0,618.0 907.1,611.7 907.3,611.2 907.4,604.9 907.5,608.0 907.6,608.7 907.8,611.8 907.9,617.4 908.0,623.5 908.2,626.9 908.3,629.8 908.4,632.2 908.6,634.3 908.7,635.8 908.8,636.8 909.0,639.3 909.1,639.1 909.2,641.4 909.4,640.9 909.5,641.9 909.6,642.8 909.7,641.4 909.9,641.9 910.0,641.1 910.1,642.5 910.3,642.9 910.4,642.5 910.5,643.2 910.7,642.8 910.8,643.2 910.9,643.2 911.1,643.6 911.2,642.7 911.3,643.4 911.4,644.2 911.6,643.3 911.7,643.5 911.8,643.3 912.0,643.3 912.1,643.8 912.2,643.9 912.4,645.2 912.5,644.9 912.6,644.9 912.8,644.1 912.9,643.5 913.0,644.3 913.1,644.5 913.3,643.7 913.4,644.4 913.5,644.0 913.7,643.9 913.8,644.4 913.9,643.7 914.1,644.3 914.2,645.1 914.3,645.0 914.5,644.9 914.6,643.8 914.7,643.1 914.8,644.2 915.0,644.1 915.1,645.8 915.2,643.9 915.4,643.3 915.5,643.6 915.6,644.9 915.8,643.8 915.9,644.2 916.0,643.7 916.2,644.6 916.3,644.1 916.4,644.3 916.5,643.7 916.7,644.2 916.8,643.7 916.9,644.1 917.1,644.3 917.2,644.5 917.3,644.5 917.5,644.3 917.6,643.8 917.7,643.9 917.9,644.2 918.0,644.4 918.1,644.7 918.2,644.8 918.4,645.6 918.5,644.2 918.6,643.9 918.8,644.6 918.9,643.6 919.0,645.3 919.2,644.2 919.3,644.1 919.4,644.3 919.6,644.1 919.7,644.5 919.8,644.7 919.9,644.9 920.1,644.9 920.2,643.8 920.3,643.2 920.5,643.8 920.6,644.9 920.7,644.6 920.9,644.2 921.0,643.5 921.1,644.5 921.3,643.9 921.4,643.9 921.5,644.5 921.7,644.8 921.8,644.1 921.9,644.8 922.0,645.2 922.2,644.9 922.3,644.1 922.4,643.9 922.6,643.2 922.7,644.3 922.8,645.1 923.0,644.6 923.1,644.9 923.2,644.5 923.4,643.8 923.5,643.5 923.6,644.3 923.7,644.5 923.9,645.1 924.0,644.9 924.1,644.4 924.3,644.2 924.4,644.3 924.5,643.9 924.7,643.4 924.8,644.0 924.9,644.6 925.1,644.5 925.2,644.0 925.3,644.9 925.4,644.5 925.6,645.1 925.7,644.8 925.8,645.1 926.0,645.5 926.1,644.6 926.2,644.4 926.4,645.0 926.5,644.1 926.6,644.3 926.8,644.6 926.9,645.2 927.0,643.8 927.1,643.6 927.3,644.8 927.4,643.9 927.5,644.8 927.7,645.4 927.8,644.7 927.9,645.7 928.1,645.1 928.2,645.8 928.3,644.1 928.5,644.2 928.6,645.3 928.7,644.3 928.8,645.6 929.0,644.6 929.1,644.7 929.2,644.7 929.4,645.1 929.5,644.6 929.6,644.5 929.8,644.4 929.9,643.9 930.0,644.1 930.2,644.3 930.3,645.2 930.4,645.0 930.5,644.9 930.7,644.5 930.8,645.6 930.9,644.6 931.1,643.8 931.2,645.4 931.3,645.2 931.5,644.9 931.6,644.3 931.7,644.4 931.9,644.6 932.0,645.0 932.1,644.4 932.3,644.8 932.4,645.3 932.5,644.9 932.6,644.2 932.8,645.6 932.9,645.3 933.0,645.4 933.2,645.2 933.3,646.2 933.4,644.9 933.6,644.0 933.7,644.4 933.8,643.8 934.0,645.7 934.1,644.6 934.2,643.7 934.3,643.3 934.5,644.2 934.6,644.6 934.7,644.0 934.9,644.9 935.0,644.4 935.1,645.1 935.3,645.0 935.4,645.1 935.5,644.0 935.7,644.5 935.8,644.9 935.9,644.9 936.0,645.1 936.2,644.1 936.3,644.6 936.4,644.4 936.6,644.2 936.7,645.6 936.8,644.5 937.0,644.1 937.1,644.6 937.2,643.0 937.4,645.0 937.5,643.7 937.6,644.6 937.7,644.1 937.9,644.4 938.0,643.6 938.1,644.6 938.3,644.6 938.4,645.7 938.5,644.5 938.7,645.0 938.8,644.3 938.9,644.2 939.1,645.0 939.2,644.2 939.3,644.6 939.4,644.6 939.6,644.3 939.7,644.4 939.8,644.3 940.0,643.9 940.1,645.0 940.2,644.9 940.4,644.3 940.5,643.5 940.6,644.3 940.8,643.6 940.9,646.3 941.0,645.2 941.1,644.9 941.3,644.2 941.4,643.8 941.5,644.5 941.7,645.1 941.8,644.1 941.9,643.7 942.1,645.6 942.2,644.0 942.3,644.6 942.5,645.2 942.6,645.0 942.7,644.0 942.9,644.0 943.0,644.4 943.1,645.3 943.2,644.6 943.4,644.9 943.5,644.6 943.6,644.9 943.8,644.5 943.9,644.0 944.0,644.5 944.2,644.3 944.3,645.6 944.4,644.2 944.6,644.4 944.7,644.8 944.8,644.6 944.9,645.7 945.1,644.2 945.2,644.3 945.3,645.6 945.5,644.1 945.6,644.8 945.7,644.6 945.9,644.7 946.0,644.5 946.1,644.4 946.3,644.9 946.4,644.4 946.5,644.5 946.6,645.9 946.8,645.0 946.9,645.3 947.0,645.1 947.2,644.1 947.3,644.2 947.4,645.5 947.6,645.3 947.7,644.1 947.8,644.6 948.0,644.5 948.1,645.5 948.2,644.7 948.3,643.9 948.5,644.5 948.6,644.5 948.7,644.0 948.9,644.2 949.0,643.7 949.1,643.7 949.3,643.7 949.4,645.4 949.5,645.2 949.7,645.7 949.8,643.7 949.9,644.7 950.0,645.0 950.2,645.3 950.3,645.3 950.4,646.0 950.6,643.5 950.7,645.0 950.8,644.9 951.0,645.6 951.1,644.8 951.2,644.9 951.4,645.0 951.5,644.6 951.6,645.0 951.7,644.5 951.9,644.0 952.0,644.3 952.1,644.6 952.3,644.9 952.4,645.4 952.5,644.3 952.7,644.8 952.8,645.1 952.9,644.2 953.1,645.1 953.2,644.4 953.3,643.7 953.5,643.7 953.6,644.4 953.7,644.2 953.8,644.0 954.0,644.4 954.1,644.8 954.2,643.9 954.4,644.1 954.5,644.2 954.6,644.1 954.8,644.5 954.9,644.8 955.0,644.6 955.2,644.1 955.3,645.4 955.4,645.2 955.5,645.1 955.7,644.6 955.8,644.9 955.9,643.9 956.1,643.7 956.2,644.7 956.3,645.2 956.5,645.7 956.6,644.9 956.7,645.6 956.9,645.2 957.0,645.1 957.1,644.8 957.2,644.1 957.4,643.7 957.5,645.7 957.6,645.1 957.8,644.9 957.9,645.4 958.0,644.8 958.2,644.1 958.3,643.5 958.4,644.0 958.6,644.6 958.7,644.5 958.8,644.5 958.9,644.6 959.1,645.1 959.2,645.4 959.3,644.7 959.5,643.9 959.6,644.1 959.7,645.3 959.9,644.6 960.0,644.8 960.1,644.4 960.3,645.0 960.4,644.2 960.5,645.0 960.6,644.7 960.8,644.5 960.9,645.6 961.0,644.5 961.2,643.8 961.3,644.5 961.4,644.6 961.6,644.8 961.7,645.3 961.8,645.0 962.0,644.7 962.1,644.5 962.2,644.0 962.3,645.0 962.5,644.2 962.6,644.9 962.7,644.3 962.9,644.3 963.0,644.0 963.1,644.0 963.3,643.4 963.4,644.4 963.5,643.7 963.7,643.8 963.8,644.1 963.9,644.8 964.0,643.9 964.2,643.9 964.3,643.6 964.4,644.3 964.6,644.1 964.7,643.6 964.8,643.2 965.0,642.9 965.1,641.9 965.2,643.1 965.4,641.2 965.5,643.1 965.6,639.9 965.8,639.9 965.9,637.6 966.0,638.6 966.1,637.1 966.3,638.6 966.4,639.0 966.5,638.5 966.7,639.1 966.8,640.7 966.9,639.9 967.1,642.1 967.2,641.7 967.3,643.4 967.5,643.4 967.6,643.2 967.7,643.6 967.8,642.9 968.0,644.3 968.1,643.2 968.2,643.4 968.4,643.4 968.5,642.7 968.6,642.8 968.8,642.6 968.9,641.4 969.0,641.2 969.2,640.5 969.3,639.9 969.4,640.8 969.5,640.8 969.7,641.8 969.8,641.9 969.9,642.4 970.1,643.4 970.2,644.1 970.3,644.4 970.5,644.5 970.6,643.9 970.7,644.5 970.9,644.5 971.0,644.1 971.1,643.8 971.2,643.5 971.4,644.4 971.5,644.0 971.6,644.0 971.8,645.2 971.9,645.0 972.0,645.8 972.2,645.0 972.3,644.6 972.4,645.2 972.6,644.9 972.7,644.6 972.8,644.0 972.9,644.3 973.1,643.6 973.2,644.1 973.3,644.1 973.5,643.8 973.6,644.3 973.7,644.5 973.9,644.7 974.0,644.5 974.1,643.9 974.3,644.6 974.4,644.6 974.5,645.2 974.6,643.8 974.8,645.1 974.9,645.2 975.0,644.7 975.2,644.5 975.3,645.7 975.4,644.9 975.6,644.9 975.7,644.3 975.8,642.9 976.0,643.9 976.1,644.3 976.2,644.6 976.4,644.6 976.5,645.1 976.6,645.5 976.7,645.2 976.9,643.3 977.0,644.4 977.1,643.7 977.3,644.9 977.4,644.2 977.5,644.5 977.7,644.5 977.8,643.0 977.9,644.5 978.1,644.4 978.2,645.0 978.3,644.9 978.4,644.8 978.6,645.1 978.7,644.6 978.8,643.3 979.0,645.1 979.1,644.8 979.2,644.9 979.4,644.1 979.5,643.4 979.6,643.1 979.8,643.3 979.9,643.3 980.0,642.4 980.1,644.5 980.3,644.3 980.4,643.6 980.5,643.4 980.7,643.6 980.8,644.1 980.9,644.4 981.1,644.3 981.2,644.3 981.3,644.3 981.5,644.5 981.6,643.6 981.7,644.1 981.8,643.2 982.0,644.7 982.1,644.4 982.2,644.8 982.4,644.3 982.5,644.7 982.6,644.3 982.8,645.3 982.9,644.1 983.0,643.8 983.2,645.2 983.3,644.6 983.4,644.4 983.5,644.0 983.7,644.7 983.8,644.2 983.9,643.5 984.1,643.8 984.2,644.3 984.3,644.3 984.5,643.7 984.6,644.6 984.7,645.2 984.9,644.8 985.0,644.6 985.1,644.9 985.2,644.6 985.4,644.5 985.5,645.0 985.6,643.8 985.8,644.1 985.9,643.7 986.0,644.3 986.2,644.0 986.3,644.5 986.4,644.4 986.6,645.7 986.7,643.8 986.8,644.5 987.0,644.5 987.1,645.1 987.2,644.0 987.3,644.6 987.5,645.1 987.6,644.1 987.7,644.3 987.9,644.4 988.0,644.5 988.1,644.4 988.3,644.5 988.4,644.0 988.5,645.1 988.7,644.6 988.8,644.0 988.9,644.0 989.0,643.9 989.2,644.4 989.3,645.2 989.4,645.4 989.6,645.5 989.7,644.0 989.8,644.1 990.0,644.7 990.1,645.1 990.2,644.1 990.4,644.3 990.5,644.1 990.6,645.0 990.7,645.4 990.9,644.2 991.0,645.4 991.1,644.7 991.3,643.9 991.4,645.4 991.5,644.0 991.7,644.3 991.8,644.4 991.9,644.3 992.1,645.0 992.2,645.5 992.3,643.9 992.4,644.7 992.6,644.4 992.7,643.9 992.8,644.5 993.0,644.0 993.1,644.0 993.2,643.8 993.4,644.3 993.5,643.9 993.6,644.5 993.8,644.7 993.9,644.3 994.0,644.1 994.1,644.0 994.3,643.7 994.4,644.4 994.5,644.8 994.7,643.4 994.8,644.0 994.9,644.1 995.1,644.1 995.2,644.6 995.3,644.9 995.5,644.5 995.6,644.9 995.7,645.0 995.8,644.5 996.0,644.5 996.1,645.0 996.2,645.6 996.4,644.6 996.5,643.6 996.6,644.2 996.8,644.3 996.9,644.9 997.0,644.6 997.2,645.6 997.3,645.3 997.4,644.5 997.5,645.5 997.7,644.6 997.8,644.5 997.9,643.8 998.1,645.1 998.2,644.4 998.3,644.7 998.5,644.4 998.6,645.4 998.7,645.3 998.9,644.6 999.0,645.1 999.1,644.7 999.3,643.7 999.4,644.3 999.5,645.1 999.6,644.5 999.8,644.6 999.9,643.9 1000.0,645.1 1000.2,644.5 1000.3,644.2 1000.4,645.2 1000.6,644.9 1000.7,645.9 1000.8,644.8 1001.0,645.6 1001.1,644.9 1001.2,643.4 1001.3,644.1 1001.5,644.3 1001.6,644.5 1001.7,643.5 1001.9,644.1 1002.0,644.1 1002.1,645.0 1002.3,644.6 1002.4,645.0 1002.5,644.5 1002.7,645.0 1002.8,644.0 1002.9,644.3 1003.0,644.7 1003.2,644.8 1003.3,645.7 1003.4,644.7 1003.6,644.2 1003.7,644.4 1003.8,645.9 1004.0,645.8 1004.1,644.1 1004.2,644.8 1004.4,644.2 1004.5,644.5 1004.6,643.9 1004.7,645.2 1004.9,644.2 1005.0,643.8 1005.1,644.0 1005.3,644.8 1005.4,644.0 1005.5,644.4 1005.7,645.0 1005.8,644.5 1005.9,644.6 1006.1,644.9 1006.2,644.5 1006.3,645.0 1006.4,644.2 1006.6,644.4 1006.7,645.0 1006.8,644.7 1007.0,643.9 1007.1,644.8 1007.2,644.8 1007.4,644.8 1007.5,644.6 1007.6,643.5 1007.8,643.0 1007.9,643.7 1008.0,644.5 1008.1,644.4 1008.3,644.7 1008.4,644.6 1008.5,644.9 1008.7,643.6 1008.8,644.3 1008.9,644.5 1009.1,644.6 1009.2,644.5 1009.3,645.1 1009.5,644.9 1009.6,644.5 1009.7,644.0 1009.9,645.2 1010.0,644.7 1010.1,645.1 1010.2,644.9 1010.4,643.6 1010.5,643.9 1010.6,644.4 1010.8,644.1 1010.9,644.4 1011.0,643.9 1011.2,644.4 1011.3,644.4 1011.4,644.8 1011.6,644.9 1011.7,644.4 1011.8,644.7 1011.9,644.4 1012.1,644.0 1012.2,644.7 1012.3,644.9 1012.5,644.8 1012.6,645.4 1012.7,644.2 1012.9,644.4 1013.0,645.3 1013.1,644.6 1013.3,644.8 1013.4,644.3 1013.5,644.4 1013.6,645.2 1013.8,644.7 1013.9,644.2 1014.0,644.3 1014.2,644.2 1014.3,643.9 1014.4,643.9 1014.6,643.7 1014.7,643.6 1014.8,644.3 1015.0,644.6 1015.1,645.1 1015.2,644.7 1015.3,644.2 1015.5,644.0 1015.6,644.5 1015.7,644.6 1015.9,644.2 1016.0,643.6 1016.1,644.2 1016.3,644.1 1016.4,644.8 1016.5,643.8 1016.7,644.0 1016.8,644.7 1016.9,643.6 1017.0,644.8 1017.2,644.1 1017.3,644.7 1017.4,644.8 1017.6,645.0 1017.7,644.8 1017.8,644.1 1018.0,644.4 1018.1,644.6 1018.2,643.6 1018.4,643.7 1018.5,644.1 1018.6,644.6 1018.7,644.0 1018.9,644.7 1019.0,644.2 1019.1,643.9 1019.3,644.7 1019.4,644.9 1019.5,644.0 1019.7,643.7 1019.8,644.0 1019.9,644.3 1020.1,644.2 1020.2,643.6 1020.3,644.5 1020.5,645.4 1020.6,644.1 1020.7,644.4 1020.8,644.3 1021.0,643.9 1021.1,643.4 1021.2,643.9 1021.4,644.0 1021.5,644.6 1021.6,643.2 1021.8,643.5 1021.9,642.7 1022.0,642.9 1022.2,643.0 1022.3,642.9 1022.4,643.4 1022.5,643.9 1022.7,644.1 1022.8,643.9 1022.9,643.4 1023.1,642.7 1023.2,643.3 1023.3,642.4 1023.5,641.5 1023.6,643.4 1023.7,642.5 1023.9,642.5 1024.0,641.6 1024.1,641.0 1024.2,641.1 1024.4,641.5 1024.5,641.7 1024.6,641.0 1024.8,640.4 1024.9,639.5 1025.0,639.5 1025.2,637.3 1025.3,637.5 1025.4,634.7 1025.6,632.7 1025.7,630.6 1025.8,626.2 1025.9,621.8 1026.1,617.1 1026.2,610.8 1026.3,606.3 1026.5,598.9 1026.6,597.6 1026.7,600.3 1026.9,604.8 1027.0,606.4 1027.1,612.7 1027.3,618.4 1027.4,624.0 1027.5,628.6 1027.6,631.8 1027.8,630.8 1027.9,632.9 1028.0,635.3 1028.2,634.6 1028.3,637.4 1028.4,636.3 1028.6,636.2 1028.7,636.8 1028.8,635.8 1029.0,634.7 1029.1,632.6 1029.2,629.5 1029.3,627.5 1029.5,625.0 1029.6,621.9 1029.7,622.0 1029.9,617.6 1030.0,619.3 1030.1,621.6 1030.3,623.2 1030.4,626.2 1030.5,628.5 1030.7,631.2 1030.8,635.2 1030.9,635.0 1031.1,636.2 1031.2,639.2 1031.3,638.6 1031.4,639.8 1031.6,640.7 1031.7,641.0 1031.8,642.8 1032.0,641.7 1032.1,642.6 1032.2,641.2 1032.4,643.2 1032.5,643.9 1032.6,643.1 1032.8,643.6 1032.9,643.9 1033.0,643.8 1033.1,643.8 1033.3,643.1 1033.4,644.3 1033.5,644.3 1033.7,644.0 1033.8,643.7 1033.9,643.5 1034.1,644.4 1034.2,643.8 1034.3,644.3 1034.5,644.2 1034.6,644.3 1034.7,644.6 1034.8,643.7 1035.0,643.2 1035.1,643.7 1035.2,643.5 1035.4,644.6 1035.5,643.5 1035.6,643.9 1035.8,643.8 1035.9,643.5 1036.0,644.6 1036.2,644.3 1036.3,644.3 1036.4,644.0 1036.5,644.3 1036.7,644.9 1036.8,645.1 1036.9,644.7 1037.1,645.3 1037.2,645.5 1037.3,644.7 1037.5,644.7 1037.6,644.7 1037.7,644.9 1037.9,643.5 1038.0,643.6 1038.1,644.6 1038.2,644.5 1038.4,645.4 1038.5,643.7 1038.6,645.0 1038.8,644.0 1038.9,644.8 1039.0,644.5 1039.2,645.0 1039.3,645.7 1039.4,643.5 1039.6,645.3 1039.7,644.5 1039.8,644.9 1039.9,644.6 1040.1,643.5 1040.2,645.6 1040.3,644.7 1040.5,644.5 1040.6,644.5 1040.7,644.7 1040.9,645.2 1041.0,645.6 1041.1,645.3 1041.3,644.9 1041.4,644.2 1041.5,644.4 1041.6,643.9 1041.8,644.5 1041.9,644.4 1042.0,644.2 1042.2,645.5 1042.3,644.5 1042.4,645.3 1042.6,644.8 1042.7,643.4 1042.8,645.4 1043.0,644.3 1043.1,644.5 1043.2,644.1 1043.4,644.4 1043.5,644.8 1043.6,643.8 1043.7,645.7 1043.9,644.9 1044.0,643.6 1044.1,644.2 1044.3,644.9 1044.4,645.0 1044.5,644.6 1044.7,643.4 1044.8,644.7 1044.9,645.3 1045.1,644.4 1045.2,644.8 1045.3,644.1 1045.4,644.6 1045.6,644.3 1045.7,644.6 1045.8,644.0 1046.0,644.8 1046.1,644.9 1046.2,645.4 1046.4,644.6 1046.5,643.9 1046.6,644.3 1046.8,642.9 1046.9,644.3 1047.0,644.7 1047.1,644.2 1047.3,644.8 1047.4,644.4 1047.5,644.5 1047.7,645.1 1047.8,644.0 1047.9,644.8 1048.1,644.1 1048.2,644.6 1048.3,645.1 1048.5,645.3 1048.6,645.2 1048.7,645.2 1048.8,644.9 1049.0,644.5 1049.1,644.8 1049.2,643.9 1049.4,645.0 1049.5,645.0 1049.6,643.8 1049.8,644.4 1049.9,645.0 1050.0,643.5 1050.2,643.8 1050.3,644.6 1050.4,644.3 1050.5,644.9 1050.7,644.7 1050.8,645.1 1050.9,644.5 1051.1,645.6 1051.2,645.2 1051.3,644.7 1051.5,645.0 1051.6,645.0 1051.7,644.1 1051.9,645.4 1052.0,644.0 1052.1,645.1 1052.2,644.9 1052.4,644.5 1052.5,644.2 1052.6,645.5 1052.8,645.6 1052.9,645.2 1053.0,644.6 1053.2,644.2 1053.3,644.9 1053.4,645.1 1053.6,644.5 1053.7,644.8 1053.8,644.1 1054.0,645.3 1054.1,645.3 1054.2,643.8 1054.3,643.6 1054.5,644.2 1054.6,644.1 1054.7,644.5 1054.9,644.7 1055.0,644.0 1055.1,644.4 1055.3,644.0 1055.4,645.5 1055.5,644.2 1055.7,644.8 1055.8,645.2 1055.9,644.9 1056.0,644.6 1056.2,645.1 1056.3,644.9 1056.4,644.5 1056.6,645.7 1056.7,645.2 1056.8,646.2 1057.0,645.3 1057.1,644.5 1057.2,644.8 1057.4,644.7 1057.5,645.5 1057.6,644.3 1057.7,644.9 1057.9,644.0 1058.0,644.5 1058.1,644.8 1058.3,643.9 1058.4,644.7 1058.5,643.9 1058.7,644.0 1058.8,644.1 1058.9,643.6 1059.1,644.1 1059.2,644.7 1059.3,644.8 1059.4,644.6 1059.6,644.4 1059.7,644.7 1059.8,645.2 1060.0,646.2 1060.1,644.9 1060.2,644.6 1060.4,643.8 1060.5,644.2 1060.6,643.9 1060.8,643.7 1060.9,644.7 1061.0,645.4 1061.1,644.3 1061.3,644.9 1061.4,644.6 1061.5,644.3 1061.7,644.8 1061.8,644.3 1061.9,645.2 1062.1,644.6 1062.2,644.1 1062.3,645.5 1062.5,644.7 1062.6,644.6 1062.7,645.8 1062.8,644.1 1063.0,645.2 1063.1,644.9 1063.2,643.9 1063.4,645.6 1063.5,644.4 1063.6,645.0 1063.8,644.9 1063.9,645.3 1064.0,643.9 1064.2,644.7 1064.3,644.2 1064.4,644.2 1064.6,644.6 1064.7,644.5 1064.8,644.6 1064.9,644.0 1065.1,644.0 1065.2,644.5 1065.3,645.0 1065.5,644.7 1065.6,644.4 1065.7,644.6 1065.9,643.7 1066.0,645.4 1066.1,643.6 1066.3,644.9 1066.4,645.5 1066.5,645.6 1066.6,644.4 1066.8,644.2 1066.9,644.7 1067.0,644.3 1067.2,644.2 1067.3,644.6 1067.4,643.9 1067.6,644.2 1067.7,644.6 1067.8,645.9 1068.0,644.2 1068.1,644.9 1068.2,644.9 1068.3,643.9 1068.5,644.4 1068.6,645.8 1068.7,645.8 1068.9,645.1 1069.0,645.3 1069.1,644.4 1069.3,643.3 1069.4,643.2 1069.5,645.1 1069.7,644.3 1069.8,644.4 1069.9,644.6 1070.0,645.2 1070.2,643.8 1070.3,644.4 1070.4,644.7 1070.6,644.6 1070.7,645.7 1070.8,644.2 1071.0,644.9 1071.1,644.7 1071.2,644.9 1071.4,644.3 1071.5,644.1 1071.6,645.1 1071.7,644.8 1071.9,645.2 1072.0,645.2 1072.1,644.6 1072.3,644.1 1072.4,644.5 1072.5,644.1 1072.7,644.9 1072.8,644.7 1072.9,644.9 1073.1,644.8 1073.2,644.9 1073.3,645.1 1073.4,645.2 1073.6,644.1 1073.7,644.4 1073.8,645.3 1074.0,644.1 1074.1,644.7 1074.2,644.6 1074.4,644.2 1074.5,645.0 1074.6,645.0 1074.8,645.6 1074.9,644.9 1075.0,644.9 1075.1,644.8 1075.3,644.6 1075.4,644.8 1075.5,644.3 1075.7,645.1 1075.8,644.3 1075.9,644.1 1076.1,644.8 1076.2,644.2 1076.3,644.7 1076.5,644.0 1076.6,644.3 1076.7,645.0 1076.9,643.8 1077.0,644.0 1077.1,644.4 1077.2,644.7 1077.4,645.3 1077.5,645.0 1077.6,644.9 1077.8,645.0 1077.9,645.3 1078.0,645.0 1078.2,644.7 1078.3,645.2 1078.4,644.2 1078.6,644.5 1078.7,645.0 1078.8,644.6 1078.9,644.2 1079.1,645.0 1079.2,645.7 1079.3,644.9 1079.5,643.4 1079.6,644.7 1079.7,644.2 1079.9,644.2 1080.0,643.5 1080.1,643.4 1080.3,644.5 1080.4,644.5 1080.5,645.4 1080.6,644.8 1080.8,645.4 1080.9,644.5 1081.0,644.7 1081.2,644.2 1081.3,645.0 1081.4,644.5 1081.6,644.6 1081.7,644.8 1081.8,645.0 1082.0,645.1 1082.1,645.0 1082.2,644.5 1082.3,644.5 1082.5,644.2 1082.6,644.0 1082.7,644.8 1082.9,644.6 1083.0,644.6 1083.1,645.0 1083.3,644.9 1083.4,644.5 1083.5,643.4 1083.7,644.4 1083.8,644.5 1083.9,644.6 1084.0,644.4 1084.2,644.5 1084.3,644.7 1084.4,644.3 1084.6,644.6 1084.7,644.8 1084.8,644.7 1085.0,644.9 1085.1,645.3 1085.2,644.2 1085.4,644.9 1085.5,644.4 1085.6,644.1 1085.7,644.2 1085.9,644.7 1086.0,644.9 1086.1,645.3 1086.3,644.6 1086.4,643.4 1086.5,645.3 1086.7,645.2 1086.8,643.9 1086.9,643.9 1087.1,645.4 1087.2,644.4 1087.3,644.4 1087.5,645.4 1087.6,644.3 1087.7,645.6 1087.8,644.3 1088.0,644.7 1088.1,644.9 1088.2,645.3 1088.4,644.7 1088.5,645.0 1088.6,644.9 1088.8,645.0 1088.9,644.4 1089.0,643.9 1089.2,645.0 1089.3,644.9 1089.4,644.7 1089.5,645.1 1089.7,644.7 1089.8,644.2 1089.9,645.0 1090.1,644.3 1090.2,646.2 1090.3,644.7 1090.5,644.7 1090.6,645.3 1090.7,644.4 1090.9,645.7 1091.0,644.2 1091.1,645.0 1091.2,645.2 1091.4,644.7 1091.5,644.6 1091.6,644.9 1091.8,645.3 1091.9,644.8 1092.0,643.9 1092.2,644.5 1092.3,644.1 1092.4,645.7 1092.6,645.3 1092.7,645.2 1092.8,644.1 1092.9,643.8 1093.1,642.9 1093.2,643.8 1093.3,644.2 1093.5,643.8 1093.6,644.8 1093.7,644.9 1093.9,644.0 1094.0,644.5 1094.1,644.8 1094.3,644.5 1094.4,645.2 1094.5,644.7 1094.6,644.5 1094.8,644.5 1094.9,644.4 1095.0,644.7 1095.2,644.5 1095.3,645.7 1095.4,643.9 1095.6,645.6 1095.7,645.1 1095.8,643.8 1096.0,645.2 1096.1,645.6 1096.2,644.2 1096.3,645.2 1096.5,644.9 1096.6,644.9 1096.7,644.5 1096.9,644.7 1097.0,645.0 1097.1,643.8 1097.3,645.0 1097.4,644.3 1097.5,645.4 1097.7,644.2 1097.8,645.0 1097.9,645.2 1098.1,644.2 1098.2,645.6 1098.3,645.2 1098.4,644.8 1098.6,645.2 1098.7,645.4 1098.8,644.9 1099.0,643.5 1099.1,645.0 1099.2,644.7 1099.4,644.7 1099.5,645.1 1099.6,644.7 1099.8,644.3 1099.9,645.1 1100.0,644.2 1100.1,645.3 1100.3,644.7 1100.4,644.6 1100.5,643.0 1100.7,645.5 1100.8,644.2 1100.9,643.4 1101.1,644.6 1101.2,644.3 1101.3,644.4 1101.5,645.4 1101.6,644.4 1101.7,645.3 1101.8,644.5 1102.0,645.0 1102.1,644.1 1102.2,646.1 1102.4,644.8 1102.5,644.2 1102.6,644.5 1102.8,645.2 1102.9,644.5 1103.0,644.7 1103.2,642.9 1103.3,644.7 1103.4,644.7 1103.5,645.1 1103.7,644.8 1103.8,644.4 1103.9,645.1 1104.1,645.2 1104.2,644.9 1104.3,644.8 1104.5,644.6 1104.6,644.9 1104.7,644.9 1104.9,645.4 1105.0,644.4 1105.1,645.0 1105.2,645.1 1105.4,645.0 1105.5,645.0 1105.6,645.7 1105.8,645.0 1105.9,644.0 1106.0,644.2 1106.2,643.5 1106.3,644.7 1106.4,645.2 1106.6,645.0 1106.7,643.8 1106.8,645.3 1106.9,645.2 1107.1,644.1 1107.2,644.5 1107.3,644.6 1107.5,644.6 1107.6,644.9 1107.7,644.9 1107.9,644.3 1108.0,644.8 1108.1,644.6 1108.3,644.6 1108.4,645.4 1108.5,644.9 1108.7,645.2 1108.8,644.4 1108.9,644.7 1109.0,644.5 1109.2,644.1 1109.3,643.9 1109.4,644.3 1109.6,645.1 1109.7,644.3 1109.8,645.2 1110.0,643.8 1110.1,644.8 1110.2,644.5 1110.4,645.3 1110.5,644.1 1110.6,644.0 1110.7,645.3 1110.9,645.0 1111.0,645.1 1111.1,644.9 1111.3,643.9 1111.4,643.7 1111.5,645.5 1111.7,644.5 1111.8,644.9 1111.9,643.8 1112.1,645.7 1112.2,644.6 1112.3,644.0 1112.4,644.9 1112.6,644.3 1112.7,644.8 1112.8,644.0 1113.0,644.3 1113.1,644.9 1113.2,645.3 1113.4,644.8 1113.5,644.3 1113.6,644.9 1113.8,645.4 1113.9,643.4 1114.0,645.4 1114.1,644.7 1114.3,644.7 1114.4,645.2 1114.5,644.4 1114.7,644.3 1114.8,645.4 1114.9,644.7 1115.1,645.5 1115.2,645.3 1115.3,644.0 1115.5,645.1 1115.6,644.1 1115.7,644.2 1115.8,644.5 1116.0,644.9 1116.1,645.1 1116.2,645.5 1116.4,644.7 1116.5,644.5 1116.6,644.9 1116.8,644.9 1116.9,644.1 1117.0,645.2 1117.2,644.7 1117.3,644.9 1117.4,645.4 1117.5,643.8 1117.7,644.6 1117.8,644.4 1117.9,645.4 1118.1,644.8 1118.2,644.7 1118.3,645.1 1118.5,643.6 1118.6,645.2 1118.7,643.9 1118.9,645.4 1119.0,645.4 1119.1,645.3 1119.2,644.6 1119.4,645.1 1119.5,645.5 1119.6,645.5 1119.8,645.9 1119.9,645.5 1120.0,645.4 1120.2,645.1 1120.3,645.0 1120.4,646.1 1120.6,645.3 1120.7,644.1 1120.8,644.9 1121.0,644.6 1121.1,645.3 1121.2,645.3 1121.3,645.1 1121.5,645.6 1121.6,645.0 1121.7,645.7 1121.9,644.4 1122.0,645.3 1122.1,644.2 1122.3,644.4 1122.4,645.2 1122.5,643.8 1122.7,644.2 1122.8,643.7 1122.9,644.9 1123.0,644.9 1123.2,645.0 1123.3,644.1 1123.4,645.8 1123.6,644.6 1123.7,644.9 1123.8,645.0 1124.0,645.1 1124.1,644.6 1124.2,644.5 1124.4,643.8 1124.5,644.9 1124.6,646.0 1124.7,645.1 1124.9,645.1 1125.0,645.2 1125.1,644.6 1125.3,643.5 1125.4,644.3 1125.5,645.5 1125.7,644.5 1125.8,645.2 1125.9,644.4 1126.1,644.3 1126.2,644.8 1126.3,645.3 1126.4,644.9 1126.6,644.3 1126.7,644.2 1126.8,643.8 1127.0,646.4 1127.1,645.5 1127.2,645.1 1127.4,644.2 1127.5,644.5 1127.6,644.5 1127.8,645.5 1127.9,644.7 1128.0,643.7 1128.1,644.2 1128.3,644.3 1128.4,644.6 1128.5,644.0 1128.7,646.2 1128.8,644.3 1128.9,644.9 1129.1,645.5 1129.2,644.7 1129.3,644.9 1129.5,644.1 1129.6,645.1 1129.7,644.2 1129.8,645.0 1130.0,644.3 1130.1,644.1 1130.2,644.7 1130.4,644.4 1130.5,644.9 1130.6,644.3 1130.8,644.8 1130.9,644.8 1131.0,644.2 1131.2,644.4 1131.3,645.3 1131.4,644.8 1131.6,645.1 1131.7,644.4 1131.8,645.3 1131.9,645.3 1132.1,644.7 1132.2,645.1 1132.3,644.5 1132.5,644.3 1132.6,644.1 1132.7,644.0 1132.9,644.6 1133.0,645.3 1133.1,645.0 1133.3,645.7 1133.4,644.9 1133.5,645.5 1133.6,644.0 1133.8,644.7 1133.9,645.0 1134.0,645.6 1134.2,644.9 1134.3,645.5 1134.4,645.0 1134.6,645.2 1134.7,645.0 1134.8,644.5 1135.0,644.0 1135.1,644.9 1135.2,644.5 1135.3,644.2 1135.5,644.5 1135.6,644.4 1135.7,643.1 1135.9,645.2 1136.0,644.4 1136.1,645.1 1136.3,644.8 1136.4,645.9 1136.5,644.2 1136.7,644.3 1136.8,644.6 1136.9,643.5 1137.0,644.7 1137.2,645.1 1137.3,645.2 1137.4,644.1 1137.6,644.6 1137.7,644.8 1137.8,645.2 1138.0,644.8 1138.1,643.8 1138.2,643.8 1138.4,645.0 1138.5,644.9 1138.6,644.9 1138.7,643.7 1138.9,645.2 1139.0,645.8 1139.1,644.3 1139.3,645.1 1139.4,645.2 1139.5,644.1 1139.7,644.5 1139.8,644.8 1139.9,644.8 1140.1,644.1 1140.2,643.9 1140.3,645.1 1140.4,643.7 1140.6,645.0 1140.7,643.4 1140.8,643.7 1141.0,644.0 1141.1,643.6 1141.2,644.3 1141.4,643.6 1141.5,642.8 1141.6,643.8 1141.8,643.3 1141.9,644.1 1142.0,643.3 1142.2,642.5 1142.3,643.1 1142.4,642.1 1142.5,642.8 1142.7,641.6 1142.8,640.4 1142.9,638.5 1143.1,637.3 1143.2,636.8 1143.3,634.6 1143.5,632.2 1143.6,631.0 1143.7,628.0 1143.9,626.3 1144.0,626.5 1144.1,628.7 1144.2,630.3 1144.4,632.8 1144.5,634.7 1144.6,636.4 1144.8,637.2 1144.9,638.7 1145.0,640.4 1145.2,640.6 1145.3,641.1 1145.4,642.2 1145.6,642.3 1145.7,642.5 1145.8,643.4 1145.9,642.3 1146.1,642.0 1146.2,641.2 1146.3,642.2 1146.5,642.4 1146.6,642.0 1146.7,640.8 1146.9,639.8 1147.0,640.5 1147.1,639.2 1147.3,638.2 1147.4,638.4 1147.5,635.2 1147.6,635.9 1147.8,635.3 1147.9,636.6 1148.0,637.1 1148.2,638.0 1148.3,638.4 1148.4,638.9 1148.6,640.2 1148.7,641.9 1148.8,642.6 1149.0,643.2 1149.1,642.6 1149.2,643.7 1149.3,642.8 1149.5,643.4 1149.6,643.6 1149.7,642.9 1149.9,644.1 1150.0,644.2 1150.1,643.8 1150.3,643.7 1150.4,644.6 1150.5,642.8 1150.7,644.1 1150.8,644.8 1150.9,644.5 1151.0,643.6 1151.2,644.1 1151.3,643.7 1151.4,642.9 1151.6,643.7 1151.7,643.3 1151.8,644.3 1152.0,644.8 1152.1,644.1 1152.2,645.1 1152.4,644.4 1152.5,644.4 1152.6,645.2 1152.7,645.3 1152.9,644.7 1153.0,644.4 1153.1,643.4 1153.3,644.3 1153.4,643.7 1153.5,644.5 1153.7,645.3 1153.8,645.1 1153.9,644.9 1154.1,645.0 1154.2,644.8 1154.3,644.3 1154.5,644.2 1154.6,643.8 1154.7,644.8 1154.8,645.0 1155.0,645.6 1155.1,645.6 1155.2,645.3 1155.4,645.0 1155.5,644.9 1155.6,644.7 1155.8,643.7 1155.9,645.5 1156.0,645.1 1156.2,644.8 1156.3,645.1 1156.4,644.2 1156.5,645.0 1156.7,644.5 1156.8,645.5 1156.9,643.9 1157.1,643.5 1157.2,645.0 1157.3,644.9 1157.5,645.1 1157.6,644.8 1157.7,645.6 1157.9,644.4 1158.0,644.0 1158.1,644.7 1158.2,645.9 1158.4,645.1 1158.5,645.2 1158.6,644.6 1158.8,645.4 1158.9,645.6 1159.0,644.8 1159.2,644.8 1159.3,644.7 1159.4,645.1 1159.6,644.7 1159.7,644.7 1159.8,645.9 1159.9,644.7 1160.1,644.5 1160.2,644.6 1160.3,644.2 1160.5,645.2 1160.6,644.7 1160.7,645.4 1160.9,644.7 1161.0,644.8 1161.1,645.0 1161.3,645.3 1161.4,644.5 1161.5,644.6 1161.6,645.1 1161.8,645.4 1161.9,645.4 1162.0,644.4 1162.2,645.6 1162.3,644.2 1162.4,645.4 1162.6,644.2 1162.7,644.2 1162.8,644.2 1163.0,645.1 1163.1,645.4 1163.2,645.9 1163.3,644.7 1163.5,644.9 1163.6,645.2 1163.7,645.2 1163.9,644.9 1164.0,644.7 1164.1,644.3 1164.3,645.8 1164.4,644.6 1164.5,644.9 1164.7,644.6 1164.8,644.9 1164.9,644.8 1165.1,644.6 1165.2,644.5 1165.3,645.5 1165.4,644.9 1165.6,645.2 1165.7,644.9 1165.8,644.9 1166.0,644.8 1166.1,644.5 1166.2,645.6 1166.4,644.0 1166.5,645.1 1166.6,645.3 1166.8,644.4 1166.9,644.5 1167.0,644.8 1167.1,644.6 1167.3,644.7 1167.4,644.6 1167.5,644.7 1167.7,645.1 1167.8,644.9 1167.9,643.7 1168.1,643.5 1168.2,644.5 1168.3,644.6 1168.5,644.9 1168.6,645.5 1168.7,644.9 1168.8,644.8 1169.0,644.3 1169.1,645.1 1169.2,645.4 1169.4,644.5 1169.5,643.9 1169.6,646.3 1169.8,645.4 1169.9,644.8 1170.0,645.5 1170.2,645.4 1170.3,645.1 1170.4,644.9 1170.5,645.0 1170.7,643.7 1170.8,643.9 1170.9,644.4 1171.1,644.5 1171.2,644.6 1171.3,644.3 1171.5,645.1 1171.6,644.1 1171.7,643.9 1171.9,644.8 1172.0,644.3 1172.1,644.0 1172.2,644.3 1172.4,645.4 1172.5,645.2 1172.6,645.2 1172.8,644.8 1172.9,644.6 1173.0,644.6 1173.2,644.0 1173.3,643.8 1173.4,645.1 1173.6,645.6 1173.7,644.8 1173.8,645.1 1173.9,645.2 1174.1,645.4 1174.2,644.8 1174.3,644.8 1174.5,644.1 1174.6,643.7 1174.7,645.1 1174.9,645.8 1175.0,645.0 1175.1,644.9 1175.3,644.8 1175.4,644.7 1175.5,644.2 1175.7,643.0 1175.8,644.3 1175.9,644.7 1176.0,644.2 1176.2,645.6 1176.3,644.2 1176.4,645.1 1176.6,645.7 1176.7,645.4 1176.8,644.9 1177.0,644.7 1177.1,644.5 1177.2,644.7 1177.4,645.2 1177.5,644.9 1177.6,645.1 1177.7,643.9 1177.9,645.8 1178.0,644.1 1178.1,644.1 1178.3,644.4 1178.4,644.9 1178.5,645.4 1178.7,645.5 1178.8,645.5 1178.9,644.0 1179.1,644.4 1179.2,644.5 1179.3,644.4 1179.4,645.9 1179.6,645.1 1179.7,644.9 1179.8,643.9 1180.0,645.1 1180.1,644.7 1180.2,645.1 1180.4,645.1 1180.5,645.2 1180.6,644.8 1180.8,644.8 1180.9,645.9 1181.0,644.2 1181.1,643.8 1181.3,645.4 1181.4,644.4 1181.5,645.4 1181.7,645.1 1181.8,644.0 1181.9,645.0 1182.1,644.4 1182.2,644.8 1182.3,644.0 1182.5,644.5 1182.6,643.8 1182.7,643.8 1182.8,644.6 1183.0,645.2 1183.1,644.8 1183.2,644.8 1183.4,644.1 1183.5,644.3 1183.6,645.0 1183.8,644.2 1183.9,645.0 1184.0,643.8 1184.2,644.4 1184.3,644.2 1184.4,645.2 1184.5,645.3 1184.7,646.0 1184.8,644.9 1184.9,646.0 1185.1,644.1 1185.2,644.6 1185.3,643.9 1185.5,645.2 1185.6,645.2 1185.7,645.0 1185.9,644.6 1186.0,645.5 1186.1,644.7 1186.3,645.1 1186.4,644.1 1186.5,644.8 1186.6,645.3 1186.8,645.0 1186.9,644.6 1187.0,644.9 1187.2,643.9 1187.3,644.6 1187.4,644.0 1187.6,644.8 1187.7,644.2 1187.8,644.7 1188.0,644.4 1188.1,644.3 1188.2,645.0 1188.3,645.5 1188.5,645.0 1188.6,644.7 1188.7,644.8 1188.9,645.1 1189.0,644.4 1189.1,644.6 1189.3,644.0 1189.4,644.9 1189.5,644.4 1189.7,644.3 1189.8,644.7 1189.9,644.6 1190.0,644.2 1190.2,644.3 1190.3,644.6 1190.4,644.7 1190.6,645.4 1190.7,644.6 1190.8,645.2 1191.0,644.8 1191.1,645.8 1191.2,644.3 1191.4,643.8 1191.5,644.5 1191.6,644.9 1191.7,644.8 1191.9,643.8 1192.0,644.1 1192.1,644.6 1192.3,644.3 1192.4,644.3 1192.5,644.4 1192.7,644.6 1192.8,644.8 1192.9,645.0 1193.1,644.8 1193.2,644.9 1193.3,644.1 1193.4,644.7 1193.6,644.7 1193.7,644.8 1193.8,644.8 1194.0,645.6 1194.1,644.4 1194.2,644.7 1194.4,645.2 1194.5,645.3 1194.6,645.2 1194.8,645.0 1194.9,644.7 1195.0,645.1 1195.1,644.7 1195.3,644.4 1195.4,644.8 1195.5,643.7 1195.7,645.0 1195.8,644.9 1195.9,644.8 1196.1,644.7 1196.2,644.2 1196.3,643.7 1196.5,644.5 1196.6,645.0 1196.7,644.6 1196.8,645.5 1197.0,644.7 1197.1,644.8 1197.2,644.8 1197.4,645.3 1197.5,644.5 1197.6,644.6 1197.8,644.3 1197.9,644.3 1198.0,644.7 1198.2,645.1 1198.3,644.1 1198.4,644.7 1198.6,645.7 1198.7,645.1 1198.8,644.2 1198.9,644.0 1199.1,644.1 1199.2,644.6 1199.3,645.2 1199.5,644.6 1199.6,644.9 1199.7,644.9 1199.9,645.0 1200.0,645.0 1200.1,644.5 1200.3,644.6 1200.4,644.8 1200.5,644.0 1200.6,644.6 1200.8,643.4 1200.9,643.6 1201.0,644.6 1201.2,643.4 1201.3,644.8 1201.4,643.2 1201.6,643.9 1201.7,644.6 1201.8,645.5 1202.0,645.0 1202.1,645.6 1202.2,644.5 1202.3,645.1 1202.5,644.4 1202.6,644.2 1202.7,644.6 1202.9,644.6 1203.0,644.7 1203.1,644.3 1203.3,645.0 1203.4,644.3 1203.5,645.3 1203.7,644.7 1203.8,645.4 1203.9,644.9 1204.0,644.5 1204.2,644.1 1204.3,645.7 1204.4,645.1 1204.6,644.9 1204.7,643.7 1204.8,644.8 1205.0,644.0 1205.1,644.6 1205.2,644.8 1205.4,644.0 1205.5,644.8 1205.6,644.1 1205.7,644.3 1205.9,644.1 1206.0,645.0 1206.1,643.6 1206.3,644.0 1206.4,645.6 1206.5,644.0 1206.7,643.8 1206.8,645.1 1206.9,644.4 1207.1,645.4 1207.2,644.8 1207.3,644.6 1207.4,644.5 1207.6,645.2 1207.7,644.8 1207.8,645.3 1208.0,644.7 1208.1,644.7 1208.2,644.9 1208.4,644.3 1208.5,644.6 1208.6,644.8 1208.8,644.7 1208.9,645.5 1209.0,645.0 1209.2,645.6 1209.3,644.8 1209.4,645.2 1209.5,644.6 1209.7,645.3 1209.8,645.2 1209.9,645.0 1210.1,644.8 1210.2,644.4 1210.3,644.7 1210.5,645.1 1210.6,645.4 1210.7,644.4 1210.9,645.5 1211.0,644.8 1211.1,645.0 1211.2,644.2 1211.4,645.1 1211.5,644.3 1211.6,645.1 1211.8,644.8 1211.9,645.0 1212.0,645.0 1212.2,645.7 1212.3,644.9 1212.4,645.0 1212.6,646.0 1212.7,645.1 1212.8,644.6 1212.9,644.6 1213.1,645.4 1213.2,644.8 1213.3,644.8 1213.5,644.3 1213.6,645.1 1213.7,644.6 1213.9,644.0 1214.0,645.3 1214.1,644.9 1214.3,645.0 1214.4,645.5 1214.5,645.5 1214.6,644.3 1214.8,645.1 1214.9,644.7 1215.0,644.0 1215.2,644.5 1215.3,644.5 1215.4,645.0 1215.6,645.0 1215.7,644.7 1215.8,644.3 1216.0,644.9 1216.1,644.4 1216.2,645.6 1216.3,644.2 1216.5,645.2 1216.6,645.2 1216.7,645.3 1216.9,644.6 1217.0,644.8 1217.1,644.6 1217.3,645.4 1217.4,644.9 1217.5,644.3 1217.7,643.9 1217.8,644.8 1217.9,644.5 1218.0,645.0 1218.2,644.9 1218.3,644.8 1218.4,644.2 1218.6,644.5 1218.7,644.4 1218.8,644.2 1219.0,645.6 1219.1,644.6 1219.2,645.0 1219.4,645.4 1219.5,645.1 1219.6,644.7 1219.8,643.5 1219.9,644.5 1220.0,644.6 1220.1,644.4 1220.3,644.9 1220.4,644.8 1220.5,645.1 1220.7,645.8 1220.8,645.5 1220.9,643.5 1221.1,644.7 1221.2,644.8 1221.3,644.3 1221.5,645.2 1221.6,644.7 1221.7,644.5 1221.8,645.7 1222.0,645.3 1222.1,645.0 1222.2,644.9 1222.4,644.8 1222.5,644.7 1222.6,644.3 1222.8,645.0 1222.9,644.6 1223.0,644.8 1223.2,645.1 1223.3,644.6 1223.4,644.7 1223.5,644.1 1223.7,644.5 1223.8,644.4 1223.9,643.9 1224.1,645.2 1224.2,646.0 1224.3,645.1 1224.5,644.9 1224.6,645.3 1224.7,645.3 1224.9,644.5 1225.0,645.4 1225.1,645.0 1225.2,645.4 1225.4,645.0 1225.5,645.0 1225.6,645.3 1225.8,644.7 1225.9,644.2 1226.0,646.0 1226.2,646.1 1226.3,644.9 1226.4,645.6 1226.6,643.9 1226.7,645.8 1226.8,645.7 1226.9,645.0 1227.1,644.3 1227.2,644.6 1227.3,645.2 1227.5,645.0 1227.6,644.5 1227.7,645.3 1227.9,644.4 1228.0,644.0 1228.1,645.6 1228.3,644.8 1228.4,644.6 1228.5,644.4 1228.6,645.1 1228.8,644.0 1228.9,644.9 1229.0,644.5 1229.2,645.1 1229.3,644.9 1229.4,645.0 1229.6,643.8 1229.7,645.7 1229.8,645.6 1230.0,644.9 1230.1,645.1 1230.2,646.5 1230.3,645.2 1230.5,645.3 1230.6,644.8 1230.7,646.4 1230.9,645.8 1231.0,644.7 1231.1,644.7 1231.3,645.5 1231.4,645.2 1231.5,645.6 1231.7,644.2 1231.8,645.3 1231.9,644.5 1232.1,644.5 1232.2,645.3 1232.3,645.0 1232.4,644.7 1232.6,644.5 1232.7,644.2 1232.8,644.3 1233.0,644.7 1233.1,644.6 1233.2,645.2 1233.4,645.1 1233.5,644.6 1233.6,644.5 1233.8,645.5 1233.9,645.0 1234.0,645.7 1234.1,645.3 1234.3,644.2 1234.4,645.2 1234.5,645.0 1234.7,644.4 1234.8,644.4 1234.9,644.1 1235.1,644.9 1235.2,644.9 1235.3,645.6 1235.5,646.0 1235.6,645.4 1235.7,645.2 1235.8,644.7 1236.0,644.5 1236.1,645.3 1236.2,644.5 1236.4,645.4 1236.5,645.9 1236.6,645.2 1236.8,644.2 1236.9,644.3 1237.0,645.5 1237.2,644.1 1237.3,645.3 1237.4,644.9 1237.5,644.8 1237.7,644.1 1237.8,644.9 1237.9,644.5 1238.1,645.8 1238.2,644.7 1238.3,645.3 1238.5,645.2 1238.6,645.9 1238.7,644.7 1238.9,645.3 1239.0,645.5 1239.1,645.8 1239.2,644.1 1239.4,644.0 1239.5,644.9 1239.6,644.5 1239.8,645.5 1239.9,645.5 1240.0,646.0 1240.2,645.1 1240.3,644.2 1240.4,644.2 1240.6,645.0 1240.7,644.5 1240.8,644.2 1240.9,645.3 1241.1,645.1 1241.2,645.9 1241.3,644.7 1241.5,644.8 1241.6,644.7 1241.7,644.3 1241.9,644.9 1242.0,644.3 1242.1,645.1 1242.3,644.7 1242.4,644.5 1242.5,644.7 1242.7,644.9 1242.8,645.2 1242.9,645.5 1243.0,644.6 1243.2,644.4 1243.3,644.4 1243.4,644.3 1243.6,645.0 1243.7,645.1 1243.8,645.5 1244.0,645.5 1244.1,645.9 1244.2,643.8 1244.4,644.8 1244.5,644.3 1244.6,645.5 1244.7,644.6 1244.9,644.4 1245.0,644.8 1245.1,644.4 1245.3,645.0 1245.4,645.0 1245.5,645.1 1245.7,646.1 1245.8,645.4 1245.9,645.1 1246.1,644.0 1246.2,644.5 1246.3,644.3 1246.4,644.6 1246.6,644.8 1246.7,644.1 1246.8,644.5 1247.0,645.5 1247.1,644.6 1247.2,644.4 1247.4,644.2 1247.5,644.6 1247.6,644.7 1247.8,644.7 1247.9,644.8 1248.0,644.0 1248.1,644.7 1248.3,643.6 1248.4,645.3 1248.5,644.4 1248.7,645.0 1248.8,645.3 1248.9,645.6 1249.1,644.3 1249.2,644.8 1249.3,645.0 1249.5,645.2 1249.6,645.5 1249.7,645.6 1249.8,645.7 1250.0,645.2 1250.1,644.8 1250.2,645.0 1250.4,643.7 1250.5,644.6 1250.6,644.3 1250.8,644.3 1250.9,644.8 1251.0,644.1 1251.2,644.2 1251.3,644.4 1251.4,643.5 1251.5,644.9 1251.7,644.8 1251.8,645.3 1251.9,644.3 1252.1,643.8 1252.2,644.6 1252.3,644.2 1252.5,645.1 1252.6,644.1 1252.7,644.7 1252.9,644.7 1253.0,644.0 1253.1,644.7 1253.3,644.5 1253.4,644.5 1253.5,644.2 1253.6,644.4 1253.8,645.0 1253.9,644.7 1254.0,644.3 1254.2,644.4 1254.3,644.4 1254.4,643.7 1254.6,644.6 1254.7,644.2 1254.8,643.9 1255.0,644.4 1255.1,644.0 1255.2,643.0 1255.3,643.0 1255.5,643.7 1255.6,644.4 1255.7,643.6 1255.9,642.9 1256.0,642.7 1256.1,642.5 1256.3,643.0 1256.4,642.5 1256.5,641.9 1256.7,643.7 1256.8,641.9 1256.9,642.5 1257.0,641.4 1257.2,641.3 1257.3,641.3 1257.4,640.7 1257.6,639.2 1257.7,639.2 1257.8,637.8 1258.0,637.4 1258.1,634.5 1258.2,634.2 1258.4,630.9 1258.5,629.8 1258.6,625.7 1258.7,621.6 1258.9,619.2 1259.0,614.4 1259.1,608.0 1259.3,602.4 1259.4,597.3 1259.5,594.5 1259.7,592.0 1259.8,594.9 1259.9,597.3 1260.1,600.5 1260.2,607.6 1260.3,612.8 1260.4,619.1 1260.6,622.3 1260.7,627.3 1260.8,629.0 1261.0,631.0 1261.1,633.6 1261.2,635.0 1261.4,636.4 1261.5,636.7 1261.6,638.3 1261.8,638.5 1261.9,637.5 1262.0,639.4 1262.1,638.9 1262.3,639.6 1262.4,638.2 1262.5,638.7 1262.7,638.2 1262.8,637.6 1262.9,635.3 1263.1,634.8 1263.2,633.2 1263.3,632.1 1263.5,629.4 1263.6,626.8 1263.7,624.8 1263.8,623.6 1264.0,622.0 1264.1,620.0 1264.2,618.5 1264.4,620.7 1264.5,621.7 1264.6,623.4 1264.8,626.2 1264.9,629.6 1265.0,630.2 1265.2,632.6 1265.3,634.4 1265.4,636.2 1265.6,637.3 1265.7,638.8 1265.8,639.6 1265.9,641.3 1266.1,641.3 1266.2,641.8 1266.3,641.1 1266.5,641.5 1266.6,641.4 1266.7,641.8 1266.9,641.6 1267.0,642.2 1267.1,642.7 1267.3,643.5 1267.4,643.5 1267.5,644.1 1267.6,643.7 1267.8,644.1 1267.9,645.4 1268.0,645.8 1268.2,644.7 1268.3,644.1 1268.4,644.1 1268.6,643.5 1268.7,644.5 1268.8,644.6 1269.0,643.9 1269.1,643.8 1269.2,643.4 1269.3,644.7 1269.5,644.4 1269.6,645.1 1269.7,644.1 1269.9,644.5 1270.0,644.3 1270.1,644.1 1270.3,644.4 1270.4,644.6 1270.5,644.2 1270.7,644.8 1270.8,644.6 1270.9,644.6 1271.0,644.4 1271.2,644.2 1271.3,644.6 1271.4,645.0 1271.6,646.3 1271.7,645.9 1271.8,645.4 1272.0,645.1 1272.1,645.6 1272.2,644.9 1272.4,644.5 1272.5,644.8 1272.6,644.7 1272.7,644.9 1272.9,645.1 1273.0,645.6 1273.1,645.2 1273.3,644.9 1273.4,645.3 1273.5,645.8 1273.7,645.5 1273.8,644.9 1273.9,645.8 1274.1,644.7 1274.2,645.5 1274.3,645.2 1274.4,645.6 1274.6,645.1 1274.7,645.1 1274.8,645.0 1275.0,646.0 1275.1,645.0 1275.2,646.1 1275.4,645.4 1275.5,644.9 1275.6,645.2 1275.8,645.0 1275.9,645.0 1276.0,644.8 1276.2,645.1 1276.3,644.4 1276.4,644.4 1276.5,645.2 1276.7,645.5 1276.8,644.6 1276.9,644.9 1277.1,644.3 1277.2,644.5 1277.3,644.7 1277.5,644.1 1277.6,644.4 1277.7,645.0 1277.9,645.1 1278.0,644.4 1278.1,643.8 1278.2,644.9 1278.4,645.2 1278.5,644.5 1278.6,644.8 1278.8,644.5 1278.9,644.2 1279.0,645.3 1279.2,645.2 1279.3,645.3 1279.4,645.2 1279.6,645.0 1279.7,645.6 1279.8,644.9 1279.9,645.9 1280.1,645.1 1280.2,645.2 1280.3,645.4 1280.5,646.0 1280.6,645.2 1280.7,645.5 1280.9,644.3 1281.0,645.4 1281.1,645.4 1281.3,645.6 1281.4,645.1 1281.5,645.3 1281.6,645.0 1281.8,645.8 1281.9,645.1 1282.0,645.3 1282.2,644.7 1282.3,644.9 1282.4,644.7 1282.6,645.1 1282.7,645.5 1282.8,645.7 1283.0,645.5 1283.1,644.5 1283.2,645.1 1283.3,644.7 1283.5,644.7 1283.6,645.3 1283.7,645.1 1283.9,645.1 1284.0,645.7 1284.1,645.0 1284.3,644.7 1284.4,644.8 1284.5,645.6 1284.7,644.6 1284.8,645.5 1284.9,645.8 1285.0,645.7 1285.2,645.7 1285.3,644.8 1285.4,646.2 1285.6,645.3 1285.7,645.7 1285.8,645.3 1286.0,645.3 1286.1,645.7 1286.2,645.6 1286.4,644.8 1286.5,645.8 1286.6,645.5 1286.8,645.6 1286.9,644.9 1287.0,644.7 1287.1,644.3 1287.3,644.7 1287.4,644.7 1287.5,646.0 1287.7,645.0 1287.8,645.8 1287.9,645.7 1288.1,645.4 1288.2,645.6 1288.3,645.2 1288.5,645.2 1288.6,644.9 1288.7,645.3 1288.8,645.3 1289.0,645.1 1289.1,645.4 1289.2,645.6 1289.4,644.6 1289.5,646.0 1289.6,645.7 1289.8,645.0 1289.9,645.0 1290.0,644.7 1290.2,645.6 1290.3,645.6 1290.4,644.6 1290.5,645.5 1290.7,645.3 1290.8,645.1 1290.9,645.7 1291.1,645.0 1291.2,645.2 1291.3,645.0 1291.5,645.6 1291.6,646.5 1291.7,645.6 1291.9,646.8 1292.0,645.7 1292.1,645.4 1292.2,645.5 1292.4,645.2 1292.5,644.8 1292.6,645.4 1292.8,645.1 1292.9,644.4 1293.0,644.5 1293.2,644.7 1293.3,644.9 1293.4,645.3 1293.6,645.5 1293.7,645.3 1293.8,645.0 1293.9,644.8 1294.1,644.7 1294.2,645.9 1294.3,645.5 1294.5,645.6 1294.6,645.5 1294.7,645.7 1294.9,644.0 1295.0,644.3 1295.1,645.2 1295.3,645.5 1295.4,645.3 1295.5,645.5 1295.6,645.5 1295.8,645.1 1295.9,645.2 1296.0,645.1 1296.2,644.9 1296.3,645.5 1296.4,646.4 1296.6,644.5 1296.7,645.2 1296.8,645.4 1297.0,644.5 1297.1,645.5 1297.2,645.6 1297.4,645.9 1297.5,644.7 1297.6,645.1 1297.7,646.1 1297.9,644.9 1298.0,645.7 1298.1,645.4 1298.3,645.7 1298.4,644.3 1298.5,644.6 1298.7,644.2 1298.8,645.5 1298.9,644.9 1299.1,645.2 1299.2,644.8 1299.3,645.4 1299.4,645.8 1299.6,646.2 1299.7,645.9 1299.8,645.5 1300.0,645.3 1300.1,646.3 1300.2,646.2 1300.4,646.1 1300.5,646.4 1300.6,645.4 1300.8,645.2 1300.9,645.2 1301.0,645.1 1301.1,645.1 1301.3,645.5 1301.4,645.7 1301.5,645.3 1301.7,645.5 1301.8,645.2 1301.9,644.7 1302.1,645.1 1302.2,644.7 1302.3,645.5 1302.5,645.7 1302.6,645.6 1302.7,646.0 1302.8,645.9 1303.0,644.9 1303.1,644.7 1303.2,645.6 1303.4,646.1 1303.5,645.8 1303.6,645.8 1303.8,646.2 1303.9,645.2 1304.0,645.8 1304.2,645.1 1304.3,645.9 1304.4,645.3 1304.5,645.8 1304.7,646.3 1304.8,644.7 1304.9,646.5 1305.1,646.2 1305.2,645.5 1305.3,646.1 1305.5,645.4 1305.6,645.9 1305.7,645.2 1305.9,645.3 1306.0,645.3 1306.1,645.7 1306.2,645.5 1306.4,645.2 1306.5,644.9 1306.6,645.4 1306.8,645.5 1306.9,645.6 1307.0,645.4 1307.2,646.0 1307.3,646.0 1307.4,646.5 1307.6,644.8 1307.7,646.0 1307.8,644.6 1307.9,644.9 1308.1,644.7 1308.2,645.5 1308.3,645.4 1308.5,645.6 1308.6,645.1 1308.7,645.3 1308.9,644.9 1309.0,645.8 1309.1,644.8 1309.3,644.4 1309.4,644.6 1309.5,645.7 1309.7,644.8 1309.8,644.7 1309.9,644.9 1310.0,646.2 1310.2,645.0 1310.3,646.1 1310.4,644.5 1310.6,645.1 1310.7,645.6 1310.8,645.3 1311.0,645.6 1311.1,645.8 1311.2,645.6 1311.4,645.8 1311.5,646.0 1311.6,645.4 1311.7,644.9 1311.9,645.0 1312.0,644.9 1312.1,644.9 1312.3,644.9 1312.4,644.8 1312.5,645.0 1312.7,644.9 1312.8,644.5 1312.9,644.4 1313.1,645.8 1313.2,646.0 1313.3,644.6 1313.4,645.0 1313.6,644.7 1313.7,644.9 1313.8,645.2 1314.0,645.6 1314.1,645.8 1314.2,644.2 1314.4,644.3 1314.5,644.7 1314.6,645.8 1314.8,646.0 1314.9,645.9 1315.0,645.7 1315.1,646.6 1315.3,645.2 1315.4,644.9 1315.5,646.1 1315.7,645.6 1315.8,645.1 1315.9,645.5 1316.1,645.2 1316.2,645.9 1316.3,645.7 1316.5,645.7 1316.6,645.6 1316.7,645.7 1316.8,645.8 1317.0,645.7 1317.1,646.3 1317.2,645.3 1317.4,645.8 1317.5,645.9 1317.6,645.6 1317.8,645.8 1317.9,646.0 1318.0,645.7 1318.2,645.2 1318.3,644.9 1318.4,645.2 1318.5,645.7 1318.7,646.2 1318.8,645.7 1318.9,645.5 1319.1,645.8 1319.2,646.0 1319.3,646.4 1319.5,645.3 1319.6,646.4 1319.7,645.8 1319.9,645.3 1320.0,645.9 1320.1,645.5 1320.3,645.0 1320.4,644.9 1320.5,644.9 1320.6,645.0 1320.8,645.9 1320.9,645.8 1321.0,646.0 1321.2,646.0 1321.3,645.8 1321.4,646.3 1321.6,645.1 1321.7,645.6 1321.8,645.4 1322.0,646.0 1322.1,645.8 1322.2,646.1 1322.3,645.9 1322.5,646.7 1322.6,645.8 1322.7,644.8 1322.9,646.0 1323.0,644.5 1323.1,645.4 1323.3,644.7 1323.4,645.6 1323.5,644.5 1323.7,646.4 1323.8,645.9 1323.9,644.8 1324.0,645.7 1324.2,646.1 1324.3,645.3 1324.4,646.0 1324.6,646.3 1324.7,646.6 1324.8,646.7 1325.0,645.5 1325.1,645.3 1325.2,646.4 1325.4,645.9 1325.5,646.0 1325.6,645.2 1325.7,645.9 1325.9,645.0 1326.0,645.7 1326.1,645.8 1326.3,645.4 1326.4,645.7 1326.5,644.3 1326.7,645.3 1326.8,645.6 1326.9,645.5 1327.1,644.8 1327.2,645.8 1327.3,646.2 1327.4,645.2 1327.6,645.6 1327.7,646.1 1327.8,645.8 1328.0,645.2 1328.1,646.7 1328.2,645.1 1328.4,645.7 1328.5,645.1 1328.6,645.2 1328.8,643.9 1328.9,645.7 1329.0,645.2 1329.1,646.7 1329.3,645.7 1329.4,645.4 1329.5,646.6 1329.7,647.2 1329.8,646.2 1329.9,645.4 1330.1,645.0 1330.2,645.8 1330.3,645.6 1330.5,646.2 1330.6,645.0 1330.7,646.0 1330.9,645.3 1331.0,646.2 1331.1,646.1 1331.2,645.3 1331.4,646.4 1331.5,645.4 1331.6,646.1 1331.8,645.9 1331.9,645.9 1332.0,645.1 1332.2,645.9 1332.3,646.1 1332.4,646.6 1332.6,644.9 1332.7,644.6 1332.8,645.0 1332.9,645.2 1333.1,647.2 1333.2,645.8 1333.3,645.6 1333.5,645.8 1333.6,645.9 1333.7,645.3 1333.9,645.8 1334.0,646.3 1334.1,646.9 1334.3,646.0 1334.4,646.0 1334.5,645.8 1334.6,645.3 1334.8,646.0 1334.9,645.8 1335.0,646.2 1335.2,645.9 1335.3,645.3 1335.4,645.5 1335.6,645.8 1335.7,645.9 1335.8,646.0 1336.0,645.6 1336.1,645.8 1336.2,646.7 1336.3,644.9 1336.5,645.1 1336.6,645.9 1336.7,645.3 1336.9,646.4 1337.0,645.2 1337.1,645.6 1337.3,645.8 1337.4,646.1 1337.5,646.3 1337.7,646.1 1337.8,646.0 1337.9,645.8 1338.0,645.5 1338.2,645.8 1338.3,644.7 1338.4,645.3 1338.6,645.4 1338.7,645.8 1338.8,646.3 1339.0,645.7 1339.1,645.5 1339.2,644.6 1339.4,645.2 1339.5,645.2 1339.6,646.1 1339.7,645.5 1339.9,645.8 1340.0,645.1 1340.1,646.1 1340.3,646.4 1340.4,645.1 1340.5,646.1 1340.7,646.7 1340.8,645.6 1340.9,645.3 1341.1,645.3 1341.2,646.8 1341.3,645.8 1341.4,646.5 1341.6,646.1 1341.7,646.9 1341.8,645.2 1342.0,646.4 1342.1,645.6 1342.2,645.6 1342.4,645.5 1342.5,645.5 1342.6,645.8 1342.8,645.8 1342.9,646.1 1343.0,647.4 1343.2,645.7 1343.3,646.5 1343.4,646.2 1343.5,646.2 1343.7,646.6 1343.8,646.0 1343.9,646.3 1344.1,645.0 1344.2,644.8 1344.3,645.3 1344.5,646.3 1344.6,645.2 1344.7,645.9 1344.9,646.2 1345.0,646.6 1345.1,645.9 1345.2,645.5 1345.4,646.4 1345.5,646.5 1345.6,646.4 1345.8,646.2 1345.9,645.5 1346.0,645.1 1346.2,645.8 1346.3,645.3 1346.4,645.9 1346.6,645.1 1346.7,645.5 1346.8,646.1 1346.9,645.9 1347.1,645.4 1347.2,644.6 1347.3,646.2 1347.5,645.6 1347.6,645.6 1347.7,645.8 1347.9,644.9 1348.0,646.6 1348.1,645.7 1348.3,646.3 1348.4,646.4 1348.5,646.0 1348.6,646.1 1348.8,646.2 1348.9,645.5 1349.0,646.4 1349.2,646.6 1349.3,646.0 1349.4,645.9 1349.6,645.8 1349.7,645.3 1349.8,646.1 1350.0,646.1 1350.1,645.7 1350.2,645.4 1350.3,645.6 1350.5,645.9 1350.6,644.6 1350.7,645.0 1350.9,645.4 1351.0,645.6 1351.1,647.0 1351.3,645.7 1351.4,646.4 1351.5,645.6 1351.7,646.3 1351.8,645.4 1351.9,646.1 1352.0,646.3 1352.2,645.4 1352.3,645.5 1352.4,646.3 1352.6,646.1 1352.7,645.8 1352.8,645.8 1353.0,645.7 1353.1,646.6 1353.2,647.2 1353.4,646.3 1353.5,645.9 1353.6,645.6 1353.8,645.9 1353.9,645.7 1354.0,646.0 1354.1,646.3 1354.3,646.3 1354.4,646.6 1354.5,646.4 1354.7,646.1 1354.8,645.4 1354.9,645.0 1355.1,645.3 1355.2,646.8 1355.3,645.6 1355.5,646.3 1355.6,646.0 1355.7,645.6 1355.8,646.4 1356.0,646.5 1356.1,646.6 1356.2,645.7 1356.4,645.7 1356.5,646.7 1356.6,645.9 1356.8,646.2 1356.9,645.9 1357.0,646.7 1357.2,645.6 1357.3,646.2 1357.4,645.2 1357.5,646.0 1357.7,645.3 1357.8,645.6 1357.9,645.3 1358.1,646.8 1358.2,645.6 1358.3,645.3 1358.5,645.8 1358.6,644.9 1358.7,644.7 1358.9,645.2 1359.0,645.5 1359.1,645.4 1359.2,646.1 1359.4,645.7 1359.5,645.9 1359.6,646.1 1359.8,646.5 1359.9,645.0 1360.0,645.4 1360.2,645.5 1360.3,645.6 1360.4,645.3 1360.6,646.9 1360.7,646.5 1360.8,645.8 1360.9,645.6 1361.1,646.8 1361.2,646.4 1361.3,646.0 1361.5,645.7 1361.6,646.2 1361.7,647.3 1361.9,645.7 1362.0,646.1 1362.1,645.6 1362.3,645.7 1362.4,644.7 1362.5,645.7 1362.6,645.8 1362.8,645.9 1362.9,645.6 1363.0,645.3 1363.2,644.8 1363.3,646.2 1363.4,645.5 1363.6,646.0 1363.7,645.0 1363.8,646.2 1364.0,646.4 1364.1,646.0 1364.2,646.6 1364.4,646.7 1364.5,646.3 1364.6,646.7 1364.7,647.1 1364.9,645.4 1365.0,645.9 1365.1,646.2 1365.3,645.7 1365.4,645.7 1365.5,646.5 1365.7,645.8 1365.8,645.4 1365.9,646.1 1366.1,645.2 1366.2,645.8 1366.3,645.9 1366.4,646.1 1366.6,646.1 1366.7,646.1 1366.8,646.6 1367.0,646.4 1367.1,647.3 1367.2,645.3 1367.4,646.3 1367.5,646.3 1367.6,646.4 1367.8,646.3 1367.9,646.1 1368.0,646.2 1368.1,646.5 1368.3,646.5 1368.4,646.9 1368.5,647.0 1368.7,646.2 1368.8,646.3 1368.9,645.8 1369.1,646.4 1369.2,646.4 1369.3,645.3 1369.5,645.1 1369.6,646.6 1369.7,645.8 1369.8,645.9 1370.0,646.3 1370.1,645.9 1370.2,645.7 1370.4,645.4 1370.5,645.1 1370.6,645.6 1370.8,645.7 1370.9,644.9 1371.0,646.8 1371.2,646.7 1371.3,646.5 1371.4,645.7 1371.5,645.3 1371.7,646.4 1371.8,645.5 1371.9,646.6 1372.1,644.7 1372.2,646.0 1372.3,645.3 1372.5,645.9 1372.6,645.3 1372.7,646.0 1372.9,646.2 1373.0,646.1 1373.1,645.9 1373.2,645.3 1373.4,646.1 1373.5,646.3 1373.6,646.8 1373.8,646.2 1373.9,645.9 1374.0,645.5 1374.2,645.4 1374.3,646.1 1374.4,645.2 1374.6,645.2 1374.7,645.8 1374.8,646.2 1375.0,644.4 1375.1,645.5 1375.2,645.7 1375.3,644.8 1375.5,646.1 1375.6,645.8 1375.7,646.7 1375.9,645.4 1376.0,645.0 1376.1,645.6 1376.3,645.5 1376.4,645.2 1376.5,644.4 1376.7,643.1 1376.8,643.3 1376.9,643.0 1377.0,642.6 1377.2,642.7 1377.3,641.8 1377.4,641.8 1377.6,641.6 1377.7,643.3 1377.8,643.7 1378.0,643.2 1378.1,644.6 1378.2,644.2 1378.4,643.2 1378.5,644.6 1378.6,644.4 1378.7,644.7 1378.9,645.2 1379.0,645.7 1379.1,644.5 1379.3,645.7 1379.4,645.3 1379.5,645.8 1379.7,645.5 1379.8,646.4 1379.9,646.4 1380.1,646.2 1380.2,645.9 1380.3,646.0 1380.4,645.8 1380.6,645.5 1380.7,645.8 1380.8,645.1 1381.0,645.5 1381.1,644.8 1381.2,644.4 1381.4,644.4 1381.5,646.1 1381.6,644.6 1381.8,645.5 1381.9,644.0 1382.0,644.2 1382.1,644.1 1382.3,644.7 1382.4,643.8 1382.5,644.0 1382.7,644.4 1382.8,644.5 1382.9,643.9 1383.1,643.6 1383.2,643.6 1383.3,644.2 1383.5,644.5 1383.6,644.7 1383.7,644.8 1383.8,644.8 1384.0,645.3 1384.1,645.9 1384.2,645.6 1384.4,645.6 1384.5,646.2 1384.6,646.0 1384.8,646.6 1384.9,646.0 1385.0,646.2 1385.2,644.9 1385.3,645.4 1385.4,645.9 1385.5,646.3 1385.7,646.5 1385.8,645.5 1385.9,646.1 1386.1,645.6 1386.2,646.7 1386.3,646.8 1386.5,646.3 1386.6,646.6 1386.7,647.1 1386.9,646.9 1387.0,645.9 1387.1,646.2 1387.3,646.1 1387.4,646.1 1387.5,646.7 1387.6,646.2 1387.8,646.3 1387.9,645.5 1388.0,646.5 1388.2,646.2 1388.3,645.6 1388.4,646.3 1388.6,645.3 1388.7,646.5 1388.8,646.1 1389.0,646.8 1389.1,646.2 1389.2,645.7 1389.3,646.3 1389.5,646.3 1389.6,646.5 1389.7,645.5 1389.9,645.8 1390.0,645.7 1390.1,646.2 1390.3,645.9 1390.4,645.7 1390.5,646.2 1390.7,645.1 1390.8,646.7 1390.9,646.5 1391.0,646.3 1391.2,647.1 1391.3,646.6 1391.4,646.0 1391.6,645.8 1391.7,645.8 1391.8,645.9 1392.0,645.7 1392.1,646.4 1392.2,646.0 1392.4,645.5 1392.5,646.0 1392.6,646.5 1392.7,646.0 1392.9,646.4 1393.0,646.3 1393.1,646.4 1393.3,646.2 1393.4,645.9 1393.5,646.6 1393.7,646.7 1393.8,645.6 1393.9,646.6 1394.1,646.6 1394.2,646.8 1394.3,646.1 1394.4,646.6 1394.6,647.0 1394.7,646.6"/>
<polyline fill="none" stroke="#000" stroke-width="1.6" stroke-linejoin="bevel" points="216.97,643.0 250.34,643.0 253.87,643.0 255.44,642.7 255.97,642.5 256.36,642.1 256.62,641.6 256.75,641.1 257.01,639.2 257.54,630.5 257.67,630.4 257.93,633.0 258.32,635.6 258.71,639.8 258.98,641.4 259.24,642.1 259.50,642.4 259.89,642.7 260.55,642.9 262.64,643.0 267.22,643.1 305.30,643.2 311.45,643.1 313.02,642.9 314.07,642.5 314.59,642.2 314.98,641.8 315.51,640.8 315.90,639.2 316.16,636.8 316.42,631.4 316.55,626.3 317.08,593.8 317.21,594.2 317.60,610.0 317.73,611.5 317.86,612.0 317.99,614.0 318.52,632.5 318.78,637.3 319.04,639.6 319.43,641.0 319.70,641.6 320.09,642.1 320.61,642.5 321.13,642.7 322.44,643.0 324.67,643.2 334.48,643.4 375.18,643.5 379.76,643.4 380.94,643.3 381.85,643.1 382.64,642.8 383.16,642.2 383.42,641.5 383.69,640.0 383.95,636.8 384.47,625.6 384.60,625.9 384.99,632.5 385.13,633.4 385.26,633.4 385.39,633.1 385.52,633.0 385.65,633.8 386.04,638.7 386.30,640.9 386.56,641.9 386.83,642.4 387.35,642.9 388.13,643.2 389.84,643.4 393.11,643.5 411.56,643.5 423.21,643.4 427.00,643.2 429.88,643.0 431.71,642.8 433.28,642.5 434.59,642.0 435.64,641.5 436.55,640.9 437.34,640.0 437.99,639.0 438.52,637.9 438.91,636.8 439.30,635.2 439.96,631.3 440.48,625.9 440.87,619.0 441.13,611.9 441.39,601.1 441.79,567.2 442.05,510.8 442.18,461.3 442.70,109.2 442.83,67.0 442.97,96.7 443.23,257.1 443.49,356.0 443.62,363.1 443.88,326.3 444.01,316.8 444.14,336.1 444.67,521.5 444.93,572.9 445.19,598.3 445.45,611.3 445.71,619.0 446.11,626.1 446.63,631.5 447.28,635.4 447.68,636.9 448.20,638.3 448.72,639.4 449.38,640.3 450.03,640.9 450.82,641.5 452.13,642.1 453.83,642.6 455.66,642.9 456.31,642.8 456.84,642.7 457.23,642.3 457.49,641.7 458.14,638.2 458.28,638.3 458.80,640.8 458.93,640.9 459.06,640.9 459.32,640.5 459.45,640.5 459.98,642.1 460.37,642.8 460.63,643.0 461.02,643.2 462.20,643.4 466.13,643.6 473.85,643.8 490.86,643.9 499.10,643.9 500.15,643.8 500.67,643.6 501.07,643.1 501.59,642.1 501.72,642.1 502.11,642.9 502.38,643.1 502.51,643.1 503.03,642.9 503.68,643.6 504.34,643.8 507.35,644.0 514.68,643.9 516.51,643.8 517.03,643.6 517.29,643.4 517.69,642.6 518.34,639.7 518.47,639.8 518.86,641.5 519.13,642.2 519.26,642.2 519.39,642.1 519.78,641.6 519.91,641.7 520.57,643.3 520.83,643.6 521.35,643.8 522.66,644.0 525.28,644.0 537.71,644.0 538.89,643.9 539.67,643.8 540.19,643.5 540.46,643.2 540.85,642.1 541.50,637.9 541.63,638.0 542.03,640.5 542.29,641.5 542.42,641.7 542.55,641.6 542.94,640.7 543.07,640.7 543.73,642.8 544.12,643.5 544.38,643.7 544.77,643.8 546.34,644.0 551.71,644.1 570.29,644.2 597.38,644.2 609.03,644.1 611.77,644.0 612.56,643.9 612.95,643.7 613.21,643.5 613.48,643.1 614.13,641.4 614.26,641.5 614.78,642.7 615.05,643.1 615.31,643.0 615.83,642.5 615.96,642.5 616.62,643.3 616.88,643.5 617.27,643.6 618.58,643.6 620.15,643.3 621.33,642.8 622.24,642.2 623.03,641.3 623.55,640.3 624.08,638.7 624.47,636.8 624.73,634.9 624.99,632.0 625.38,623.6 625.65,611.1 625.91,586.6 626.56,485.5 626.69,488.6 627.22,568.6 627.48,589.5 627.61,592.2 627.74,590.4 628.26,559.9 628.39,558.2 628.52,563.5 629.18,616.2 629.57,630.1 629.83,634.2 630.10,636.6 630.36,638.1 630.62,639.2 631.01,640.4 631.40,641.2 631.93,641.9 632.45,642.4 633.10,642.8 633.89,643.2 634.94,643.5 637.55,643.8 641.61,644.1 646.19,644.1 647.37,644.0 648.02,643.9 648.42,643.7 648.68,643.4 649.46,641.3 649.59,641.4 650.12,642.8 650.38,643.2 650.64,643.3 651.16,642.8 651.29,642.7 651.43,642.7 652.08,643.6 652.34,643.9 652.86,644.1 653.91,644.2 664.12,644.3 682.05,644.3 682.96,644.2 683.49,644.0 683.75,643.8 684.40,643.1 684.53,643.1 685.06,643.7 685.32,643.9 685.71,643.9 686.23,643.7 686.50,643.7 687.28,644.1 688.07,644.2 695.79,644.2 698.01,644.2 699.45,644.0 700.37,643.7 701.02,643.3 701.28,643.0 701.54,642.4 701.81,641.4 702.20,637.9 702.72,629.1 702.85,627.9 702.98,628.2 703.11,629.8 703.64,637.8 703.90,639.5 704.03,639.7 704.16,639.5 704.29,639.1 704.82,635.7 704.95,635.5 705.08,636.0 705.60,640.4 705.99,642.4 706.26,643.0 706.52,643.4 707.04,643.7 707.69,644.0 709.27,644.2 712.14,644.3 725.10,644.3 725.88,644.2 726.41,644.1 727.32,643.2 727.45,643.2 727.98,643.8 728.37,644.0 728.76,644.0 729.29,643.8 729.55,643.7 730.46,644.2 731.51,644.3 747.08,644.3 751.53,644.2 753.76,644.1 755.07,643.9 755.46,643.6 755.72,643.3 756.11,642.1 756.64,639.5 756.77,639.1 756.90,639.2 757.42,641.6 757.81,642.7 757.95,642.9 758.21,642.8 758.99,641.4 759.12,641.5 759.25,641.7 759.91,643.2 760.17,643.6 760.56,643.8 761.22,643.9 762.26,643.9 765.01,643.7 766.97,643.3 767.76,643.1 768.54,642.7 769.59,641.9 770.12,641.3 770.51,640.7 771.16,639.1 771.69,636.9 772.08,634.3 772.47,629.9 772.86,621.0 773.12,608.5 773.39,585.3 774.04,473.1 774.17,461.1 774.30,464.3 774.43,481.0 774.96,570.0 775.09,583.4 775.35,597.6 775.48,599.3 775.61,597.8 775.74,593.4 776.27,555.7 776.40,548.4 776.53,547.1 776.66,552.6 777.31,608.7 777.57,621.7 777.97,631.4 778.23,634.5 778.49,636.5 778.88,638.5 779.41,640.1 780.06,641.3 780.85,642.2 781.76,642.8 783.07,643.3 785.03,643.8 787.91,644.0 791.84,644.2 797.60,644.3 822.20,644.5 872.45,644.5 887.23,644.4 894.43,644.3 896.66,644.2 898.23,644.0 899.54,643.6 900.45,643.2 901.11,642.8 901.63,642.2 902.02,641.5 902.41,640.5 902.94,638.1 903.33,634.1 903.59,628.5 903.85,618.8 904.51,578.0 904.64,574.0 904.77,575.1 904.90,580.7 905.56,619.6 905.82,627.2 906.08,630.4 906.21,630.8 906.34,630.4 906.60,627.4 907.26,610.0 907.39,607.7 907.52,607.7 907.65,609.9 908.30,630.0 908.57,635.1 908.96,639.1 909.22,640.4 909.48,641.3 909.87,642.1 910.27,642.6 910.79,643.1 911.57,643.5 912.49,643.8 913.67,644.0 915.50,644.2 918.12,644.4 926.89,644.5 955.67,644.6 960.52,644.5 962.87,644.4 963.79,644.2 964.31,644.0 964.70,643.7 964.97,643.3 965.36,642.1 965.88,639.2 966.14,638.2 966.27,638.3 966.41,638.8 967.06,642.3 967.32,643.0 967.58,643.4 967.84,643.5 968.24,643.2 968.50,642.8 969.02,641.5 969.15,641.3 969.28,641.3 969.41,641.5 970.07,643.2 970.46,643.9 970.72,644.1 971.12,644.2 972.16,644.4 975.43,644.5 978.18,644.4 978.58,644.4 978.97,644.2 979.88,643.2 980.15,643.4 980.80,644.1 981.32,644.3 981.98,644.3 983.02,643.9 983.94,644.3 984.46,644.5 987.21,644.6 1005.53,644.6 1015.35,644.5 1019.93,644.2 1021.37,644.0 1022.41,643.6 1023.07,643.3 1023.59,642.8 1023.98,642.3 1024.38,641.5 1024.64,640.7 1024.90,639.6 1025.29,636.2 1025.55,631.9 1025.82,624.7 1026.34,602.4 1026.60,595.1 1026.73,595.8 1026.86,599.4 1027.39,621.5 1027.65,629.2 1027.91,633.8 1028.17,636.1 1028.30,636.6 1028.43,636.8 1028.56,636.6 1028.83,635.3 1028.96,634.1 1029.22,630.5 1029.74,620.4 1029.87,619.0 1030.00,619.0 1030.26,622.7 1030.92,635.6 1031.18,638.6 1031.44,640.4 1031.84,641.8 1032.10,642.4 1032.49,642.9 1032.88,643.3 1033.41,643.6 1034.71,644.0 1036.94,644.3 1040.34,644.5 1055.52,644.6 1128.15,644.7 1136.00,644.6 1138.09,644.5 1139.53,644.4 1140.71,644.1 1141.50,643.6 1142.02,643.0 1142.41,642.0 1142.67,640.7 1142.94,638.6 1143.59,629.8 1143.85,627.5 1143.98,627.8 1144.11,628.9 1144.90,639.0 1145.16,640.7 1145.55,642.1 1145.81,642.4 1146.08,642.5 1146.34,642.2 1146.60,641.7 1146.99,640.0 1147.52,636.6 1147.65,636.0 1147.78,635.8 1147.91,636.1 1148.04,636.7 1148.69,641.1 1148.95,642.3 1149.22,643.0 1149.61,643.6 1150.00,643.9 1150.66,644.2 1151.44,644.4 1154.19,644.6 1159.69,644.7 1197.11,644.7 1199.60,644.6 1200.12,644.4 1201.04,643.9 1201.30,643.9 1202.08,644.5 1202.74,644.7 1203.92,644.7 1205.22,644.3 1206.80,644.7 1209.15,644.8 1243.30,645.0 1249.46,644.8 1252.99,644.6 1254.30,644.3 1255.21,644.0 1256.00,643.5 1256.52,643.0 1257.05,642.2 1257.44,641.3 1257.70,640.3 1257.96,638.8 1258.35,634.5 1258.62,629.4 1258.88,621.9 1259.40,601.3 1259.66,595.4 1259.79,596.0 1259.92,598.9 1260.45,619.0 1260.84,630.2 1261.10,634.6 1261.49,638.1 1261.89,639.5 1262.15,639.7 1262.28,639.7 1262.54,639.3 1262.67,638.8 1262.93,637.3 1263.33,633.0 1263.98,621.5 1264.11,620.0 1264.24,619.6 1264.37,620.3 1264.50,621.9 1265.29,635.9 1265.55,638.7 1265.81,640.5 1266.21,642.1 1266.60,642.9 1267.25,643.7 1268.30,644.3 1269.74,644.7 1271.96,644.9 1275.37,645.1 1280.60,645.2 1361.73,645.9 1372.46,645.9 1374.82,645.8 1375.47,645.6 1375.87,645.3 1376.39,644.5 1377.17,641.9 1377.44,641.4 1377.57,641.5 1377.70,641.7 1378.35,643.9 1378.75,644.8 1379.14,645.3 1379.66,645.6 1380.58,645.7 1380.97,645.6 1381.36,645.5 1381.89,644.9 1382.54,643.9 1382.80,643.7 1383.06,643.9 1383.98,645.3 1384.37,645.7 1385.03,645.9 1387.64,646.1 1394.71,646.2"/>
<polyline fill="none" stroke="#0000ff" stroke-width="1.2" stroke-linejoin="round" points="217.0,807.1 217.2,807.3 217.5,807.5 217.8,807.0 218.0,807.1 218.3,807.1 218.5,807.2 218.8,807.2 219.1,807.3 219.3,807.7 219.6,807.7 219.8,807.3 220.1,807.1 220.4,807.6 220.6,807.2 220.9,807.4 221.2,807.5 221.4,807.2 221.7,807.1 221.9,807.1 222.2,807.1 222.5,807.3 222.7,807.1 223.0,807.2 223.3,806.9 223.5,806.9 223.8,807.2 224.0,806.9 224.3,806.9 224.6,806.9 224.8,807.3 225.1,807.4 225.3,807.4 225.6,806.8 225.9,807.3 226.1,807.5 226.4,807.5 226.7,806.8 226.9,807.1 227.2,807.0 227.4,807.0 227.7,807.1 228.0,807.3 228.2,807.4 228.5,806.9 228.7,806.9 229.0,806.9 229.3,806.8 229.5,807.2 229.8,807.7 230.1,807.6 230.3,806.9 230.6,807.0 230.8,807.1 231.1,807.1 231.4,806.9 231.6,807.2 231.9,807.3 232.1,807.4 232.4,807.1 232.7,807.2 232.9,807.6 233.2,807.6 233.5,807.3 233.7,807.1 234.0,807.0 234.2,807.2 234.5,806.9 234.8,806.9 235.0,807.3 235.3,807.2 235.6,807.3 235.8,807.6 236.1,807.1 236.3,807.0 236.6,807.3 236.9,807.3 237.1,807.2 237.4,807.5 237.6,807.1 237.9,807.3 238.2,807.1 238.4,807.5 238.7,807.4 239.0,807.0 239.2,807.1 239.5,807.1 239.7,807.5 240.0,807.2 240.3,807.2 240.5,807.3 240.8,807.1 241.0,807.2 241.3,806.8 241.6,807.0 241.8,807.3 242.1,806.8 242.4,806.9 242.6,806.7 242.9,806.8 243.1,806.9 243.4,806.7 243.7,806.4 243.9,807.3 244.2,807.4 244.5,807.1 244.7,807.6 245.0,807.4 245.2,807.1 245.5,807.5 245.8,807.5 246.0,807.5 246.3,807.0 246.5,807.3 246.8,807.5 247.1,807.4 247.3,807.1 247.6,807.0 247.9,807.2 248.1,807.4 248.4,807.3 248.6,807.0 248.9,807.0 249.2,807.3 249.4,807.9 249.7,808.1 249.9,807.0 250.2,807.4 250.5,807.1 250.7,807.1 251.0,807.0 251.3,806.9 251.5,807.2 251.8,807.0 252.0,807.2 252.3,807.4 252.6,806.8 252.8,806.8 253.1,807.4 253.3,807.5 253.6,807.3 253.9,807.4 254.1,806.9 254.4,806.8 254.7,807.0 254.9,807.2 255.2,806.5 255.4,806.8 255.7,807.1 256.0,807.2 256.2,806.8 256.5,807.3 256.8,807.9 257.0,808.9 257.3,811.5 257.5,812.9 257.8,812.8 258.1,811.3 258.3,809.6 258.6,808.0 258.8,807.2 259.1,806.9 259.4,807.2 259.6,807.2 259.9,806.9 260.2,806.9 260.4,807.3 260.7,807.4 260.9,807.2 261.2,806.8 261.5,806.7 261.7,806.7 262.0,807.5 262.2,807.1 262.5,806.9 262.8,807.5 263.0,807.2 263.3,807.1 263.6,807.1 263.8,807.1 264.1,806.7 264.3,806.7 264.6,807.3 264.9,807.6 265.1,807.1 265.4,807.3 265.6,807.6 265.9,806.7 266.2,806.8 266.4,807.4 266.7,807.3 267.0,807.5 267.2,806.9 267.5,806.8 267.7,807.1 268.0,807.3 268.3,807.6 268.5,807.2 268.8,806.9 269.1,807.4 269.3,807.1 269.6,806.9 269.8,807.1 270.1,807.3 270.4,807.2 270.6,807.1 270.9,806.9 271.1,807.4 271.4,806.9 271.7,807.0 271.9,807.5 272.2,807.3 272.5,807.0 272.7,807.1 273.0,807.4 273.2,807.3 273.5,807.4 273.8,807.5 274.0,807.2 274.3,807.2 274.5,807.4 274.8,807.2 275.1,807.1 275.3,807.2 275.6,807.2 275.9,806.9 276.1,807.2 276.4,807.3 276.6,807.1 276.9,807.5 277.2,807.5 277.4,807.6 277.7,807.2 278.0,807.7 278.2,807.4 278.5,807.3 278.7,807.3 279.0,807.3 279.3,807.8 279.5,807.2 279.8,807.1 280.0,807.1 280.3,807.0 280.6,807.7 280.8,807.4 281.1,807.0 281.4,807.6 281.6,807.4 281.9,807.7 282.1,807.3 282.4,807.6 282.7,807.3 282.9,806.8 283.2,807.6 283.4,807.5 283.7,807.1 284.0,807.3 284.2,806.9 284.5,806.6 284.8,807.3 285.0,807.3 285.3,807.4 285.5,807.2 285.8,807.1 286.1,807.4 286.3,807.4 286.6,807.2 286.8,807.3 287.1,807.4 287.4,807.6 287.6,807.4 287.9,807.2 288.2,807.4 288.4,807.4 288.7,807.4 288.9,807.2 289.2,807.2 289.5,807.4 289.7,807.3 290.0,807.0 290.3,807.2 290.5,807.0 290.8,807.3 291.0,807.1 291.3,806.7 291.6,807.2 291.8,807.4 292.1,807.7 292.3,807.7 292.6,807.1 292.9,806.8 293.1,806.6 293.4,807.4 293.7,807.4 293.9,807.0 294.2,807.1 294.4,807.1 294.7,806.7 295.0,806.9 295.2,807.3 295.5,807.4 295.7,807.0 296.0,807.4 296.3,807.4 296.5,807.7 296.8,807.0 297.1,807.1 297.3,807.4 297.6,807.5 297.8,806.6 298.1,806.6 298.4,806.9 298.6,807.1 298.9,806.6 299.2,806.8 299.4,806.9 299.7,806.7 299.9,807.1 300.2,807.0 300.5,807.1 300.7,807.5 301.0,807.4 301.2,807.1 301.5,807.0 301.8,807.1 302.0,807.1 302.3,807.4 302.6,807.1 302.8,807.1 303.1,807.3 303.3,807.1 303.6,807.1 303.9,806.2 304.1,806.7 304.4,806.8 304.6,807.3 304.9,807.2 305.2,807.8 305.4,807.4 305.7,807.2 306.0,807.0 306.2,807.2 306.5,807.5 306.7,807.1 307.0,807.3 307.3,807.1 307.5,807.4 307.8,806.9 308.0,806.6 308.3,806.7 308.6,806.9 308.8,806.9 309.1,807.0 309.4,806.6 309.6,806.6 309.9,807.2 310.1,807.0 310.4,807.0 310.7,807.4 310.9,807.2 311.2,807.3 311.5,807.3 311.7,806.7 312.0,806.6 312.2,807.5 312.5,807.5 312.8,807.5 313.0,807.6 313.3,807.3 313.5,807.2 313.8,807.3 314.1,807.5 314.3,806.5 314.6,806.5 314.9,806.9 315.1,806.9 315.4,807.1 315.6,806.7 315.9,805.9 316.2,803.9 316.4,803.6 316.7,804.9 316.9,807.4 317.2,809.2 317.5,809.6 317.7,809.0 318.0,808.0 318.3,807.8 318.5,807.0 318.8,807.0 319.0,807.3 319.3,807.2 319.6,807.5 319.8,807.8 320.1,807.4 320.3,806.7 320.6,807.1 320.9,807.6 321.1,807.4 321.4,807.5 321.7,807.3 321.9,807.1 322.2,807.0 322.4,806.8 322.7,806.9 323.0,807.3 323.2,807.1 323.5,807.0 323.8,807.0 324.0,807.6 324.3,807.3 324.5,807.3 324.8,807.2 325.1,807.1 325.3,806.7 325.6,807.5 325.8,807.3 326.1,807.4 326.4,807.4 326.6,807.7 326.9,807.8 327.2,807.2 327.4,807.5 327.7,807.0 327.9,807.2 328.2,807.2 328.5,807.5 328.7,807.0 329.0,807.0 329.2,807.1 329.5,806.8 329.8,806.7 330.0,807.2 330.3,806.9 330.6,807.5 330.8,807.1 331.1,806.8 331.3,807.1 331.6,806.8 331.9,806.6 332.1,806.8 332.4,807.0 332.7,806.9 332.9,807.0 333.2,807.1 333.4,807.3 333.7,807.2 334.0,807.2 334.2,807.2 334.5,807.4 334.7,806.7 335.0,806.4 335.3,807.0 335.5,806.8 335.8,806.9 336.1,806.7 336.3,807.0 336.6,807.1 336.8,806.9 337.1,807.5 337.4,807.2 337.6,807.0 337.9,807.0 338.1,807.3 338.4,807.2 338.7,807.2 338.9,807.2 339.2,807.1 339.5,807.2 339.7,806.8 340.0,807.0 340.2,807.0 340.5,807.1 340.8,807.3 341.0,807.2 341.3,807.1 341.5,806.7 341.8,806.7 342.1,806.8 342.3,807.2 342.6,806.6 342.9,807.3 343.1,807.0 343.4,806.9 343.6,806.9 343.9,806.8 344.2,807.2 344.4,807.0 344.7,807.1 345.0,807.3 345.2,807.7 345.5,807.3 345.7,806.9 346.0,807.0 346.3,807.0 346.5,806.9 346.8,807.2 347.0,807.3 347.3,807.2 347.6,807.2 347.8,807.1 348.1,806.8 348.4,806.4 348.6,806.8 348.9,807.2 349.1,807.0 349.4,807.4 349.7,807.8 349.9,807.5 350.2,807.4 350.4,807.3 350.7,807.8 351.0,807.8 351.2,807.2 351.5,807.4 351.8,807.3 352.0,807.1 352.3,806.7 352.5,807.2 352.8,807.2 353.1,807.0 353.3,807.2 353.6,807.3 353.8,807.2 354.1,807.5 354.4,806.9 354.6,806.7 354.9,807.5 355.2,807.1 355.4,807.2 355.7,806.9 355.9,807.6 356.2,807.8 356.5,807.5 356.7,806.8 357.0,806.8 357.3,807.0 357.5,807.2 357.8,807.5 358.0,807.5 358.3,807.7 358.6,807.2 358.8,807.1 359.1,807.3 359.3,807.6 359.6,807.2 359.9,807.3 360.1,807.0 360.4,806.8 360.7,806.6 360.9,806.9 361.2,806.5 361.4,807.2 361.7,807.3 362.0,807.1 362.2,807.4 362.5,807.5 362.7,807.1 363.0,806.8 363.3,807.0 363.5,807.2 363.8,807.2 364.1,807.1 364.3,807.3 364.6,807.3 364.8,807.0 365.1,807.4 365.4,807.9 365.6,807.3 365.9,807.1 366.2,807.2 366.4,806.8 366.7,806.5 366.9,806.5 367.2,806.9 367.5,807.3 367.7,807.4 368.0,807.3 368.2,806.9 368.5,807.3 368.8,806.9 369.0,807.2 369.3,807.7 369.6,807.2 369.8,807.3 370.1,807.1 370.3,807.2 370.6,807.6 370.9,807.4 371.1,807.5 371.4,807.3 371.6,807.3 371.9,807.4 372.2,807.6 372.4,807.3 372.7,806.8 373.0,806.9 373.2,806.6 373.5,806.7 373.7,807.0 374.0,807.2 374.3,807.2 374.5,807.6 374.8,807.1 375.0,806.8 375.3,807.3 375.6,807.2 375.8,806.8 376.1,807.1 376.4,807.7 376.6,807.3 376.9,807.1 377.1,807.0 377.4,807.1 377.7,807.2 377.9,806.8 378.2,806.5 378.5,806.6 378.7,807.3 379.0,807.1 379.2,807.1 379.5,807.1 379.8,806.7 380.0,806.7 380.3,807.3 380.5,807.7 380.8,807.3 381.1,807.0 381.3,807.0 381.6,807.1 381.9,807.2 382.1,807.0 382.4,807.2 382.6,807.1 382.9,806.9 383.2,806.1 383.4,804.8 383.7,802.8 383.9,799.1 384.2,795.5 384.5,794.5 384.7,795.8 385.0,796.8 385.3,797.9 385.5,799.4 385.8,801.0 386.0,801.2 386.3,801.6 386.6,801.9 386.8,802.9 387.1,803.5 387.3,804.0 387.6,804.3 387.9,805.0 388.1,804.9 388.4,804.9 388.7,805.3 388.9,805.4 389.2,806.1 389.4,806.4 389.7,805.7 390.0,806.3 390.2,806.0 390.5,806.1 390.8,806.6 391.0,805.8 391.3,806.2 391.5,806.5 391.8,806.7 392.1,806.6 392.3,806.5 392.6,807.1 392.8,807.2 393.1,807.4 393.4,807.5 393.6,807.7 393.9,807.1 394.2,806.8 394.4,807.2 394.7,807.0 394.9,806.9 395.2,807.5 395.5,807.2 395.7,807.4 396.0,807.0 396.2,807.0 396.5,807.2 396.8,807.3 397.0,807.5 397.3,807.4 397.6,807.1 397.8,807.2 398.1,806.9 398.3,806.7 398.6,807.2 398.9,807.5 399.1,807.0 399.4,807.0 399.7,807.1 399.9,807.2 400.2,808.3 400.4,809.1 400.7,809.1 401.0,808.9 401.2,808.0 401.5,807.7 401.7,807.7 402.0,807.5 402.3,807.7 402.5,807.1 402.8,806.9 403.1,807.4 403.3,807.3 403.6,806.4 403.8,807.0 404.1,806.9 404.4,806.9 404.6,807.1 404.9,807.6 405.1,807.7 405.4,807.5 405.7,807.2 405.9,807.4 406.2,807.3 406.5,806.6 406.7,806.8 407.0,806.9 407.2,807.4 407.5,806.9 407.8,807.0 408.0,807.1 408.3,807.4 408.5,807.1 408.8,806.9 409.1,806.8 409.3,807.5 409.6,807.4 409.9,807.0 410.1,807.2 410.4,807.4 410.6,807.1 410.9,806.9 411.2,807.2 411.4,806.8 411.7,806.2 412.0,806.8 412.2,807.1 412.5,807.0 412.7,806.5 413.0,806.2 413.3,806.0 413.5,805.2 413.8,805.0 414.0,805.2 414.3,805.1 414.6,805.1 414.8,804.9 415.1,805.3 415.4,805.9 415.6,806.2 415.9,806.2 416.1,806.4 416.4,806.2 416.7,806.4 416.9,806.8 417.2,807.0 417.4,806.6 417.7,806.7 418.0,806.8 418.2,807.1 418.5,807.0 418.8,807.0 419.0,807.2 419.3,807.1 419.5,807.3 419.8,807.2 420.1,807.6 420.3,807.4 420.6,807.1 420.8,807.2 421.1,806.6 421.4,806.9 421.6,807.1 421.9,806.7 422.2,807.1 422.4,806.9 422.7,807.0 422.9,807.3 423.2,806.9 423.5,807.2 423.7,807.6 424.0,807.3 424.3,806.9 424.5,806.8 424.8,806.6 425.0,806.9 425.3,807.1 425.6,807.3 425.8,807.5 426.1,807.3 426.3,807.5 426.6,807.2 426.9,807.2 427.1,807.2 427.4,807.0 427.7,807.1 427.9,807.0 428.2,806.9 428.4,807.4 428.7,807.6 429.0,807.6 429.2,807.4 429.5,807.2 429.7,807.1 430.0,806.8 430.3,807.2 430.5,807.2 430.8,807.1 431.1,807.1 431.3,807.0 431.6,807.4 431.8,807.0 432.1,806.9 432.4,807.3 432.6,807.0 432.9,806.7 433.2,806.8 433.4,807.2 433.7,807.4 433.9,807.5 434.2,807.3 434.5,807.2 434.7,807.0 435.0,807.2 435.2,806.9 435.5,806.9 435.8,806.9 436.0,806.4 436.3,806.0 436.6,805.8 436.8,806.1 437.1,806.0 437.3,805.3 437.6,805.2 437.9,805.0 438.1,804.7 438.4,804.6 438.6,804.4 438.9,803.8 439.2,804.3 439.4,804.5 439.7,804.6 440.0,804.8 440.2,805.0 440.5,805.0 440.7,805.3 441.0,805.6 441.3,806.0 441.5,806.6 441.8,806.7 442.0,806.7 442.3,806.4 442.6,805.2 442.8,799.7 443.1,793.6 443.4,793.8 443.6,801.5 443.9,809.2 444.1,812.3 444.4,810.9 444.7,808.5 444.9,807.8 445.2,807.2 445.5,808.1 445.7,808.9 446.0,809.6 446.2,811.0 446.5,811.5 446.8,810.3 447.0,808.7 447.3,807.9 447.5,806.9 447.8,807.3 448.1,806.9 448.3,807.2 448.6,807.1 448.9,807.5 449.1,807.2 449.4,806.8 449.6,807.2 449.9,806.8 450.2,807.0 450.4,807.2 450.7,807.5 450.9,807.4 451.2,807.5 451.5,807.7 451.7,807.3 452.0,807.3 452.3,807.4 452.5,807.2 452.8,807.1 453.0,806.9 453.3,806.8 453.6,806.8 453.8,806.8 454.1,807.0 454.4,806.5 454.6,806.1 454.9,805.9 455.1,805.8 455.4,804.7 455.7,804.2 455.9,803.6 456.2,803.2 456.4,803.3 456.7,803.3 457.0,803.9 457.2,804.9 457.5,806.7 457.8,808.6 458.0,810.1 458.3,810.6 458.5,810.3 458.8,809.7 459.1,808.1 459.3,807.3 459.6,806.8 459.8,806.9 460.1,807.0 460.4,807.0 460.6,806.9 460.9,807.0 461.2,806.8 461.4,807.0 461.7,807.5 461.9,806.8 462.2,807.1 462.5,807.1 462.7,806.8 463.0,807.1 463.2,807.2 463.5,807.5 463.8,807.3 464.0,807.3 464.3,807.0 464.6,806.7 464.8,806.8 465.1,807.0 465.3,807.1 465.6,806.9 465.9,807.2 466.1,807.2 466.4,807.3 466.7,807.2 466.9,806.9 467.2,806.5 467.4,806.7 467.7,806.7 468.0,807.0 468.2,806.8 468.5,806.9 468.7,807.3 469.0,807.0 469.3,807.0 469.5,806.9 469.8,807.6 470.1,807.3 470.3,807.3 470.6,807.4 470.8,806.9 471.1,807.2 471.4,807.1 471.6,807.2 471.9,807.2 472.1,807.0 472.4,807.1 472.7,807.3 472.9,807.0 473.2,806.8 473.5,807.2 473.7,806.8 474.0,807.2 474.2,807.5 474.5,807.4 474.8,807.5 475.0,807.3 475.3,807.1 475.5,806.9 475.8,807.3 476.1,806.9 476.3,807.2 476.6,806.9 476.9,806.5 477.1,807.0 477.4,807.3 477.6,806.6 477.9,807.0 478.2,807.5 478.4,807.4 478.7,807.3 479.0,807.2 479.2,807.2 479.5,807.5 479.7,807.4 480.0,807.3 480.3,807.1 480.5,807.3 480.8,806.9 481.0,807.2 481.3,807.4 481.6,806.6 481.8,807.0 482.1,807.2 482.4,807.3 482.6,807.0 482.9,807.3 483.1,807.4 483.4,807.5 483.7,807.0 483.9,806.8 484.2,807.2 484.4,807.4 484.7,807.3 485.0,807.0 485.2,806.6 485.5,806.8 485.8,806.8 486.0,807.0 486.3,807.5 486.5,807.3 486.8,806.9 487.1,807.3 487.3,807.5 487.6,807.6 487.9,807.4 488.1,807.4 488.4,807.2 488.6,806.8 488.9,806.8 489.2,807.2 489.4,806.8 489.7,807.1 489.9,806.6 490.2,806.8 490.5,806.9 490.7,807.2 491.0,807.5 491.3,806.9 491.5,807.1 491.8,806.8 492.0,806.9 492.3,807.1 492.6,807.2 492.8,807.3 493.1,807.0 493.3,807.1 493.6,807.2 493.9,806.9 494.1,807.0 494.4,807.4 494.7,807.2 494.9,807.0 495.2,807.3 495.4,807.8 495.7,806.8 496.0,806.8 496.2,807.1 496.5,806.7 496.7,806.8 497.0,807.0 497.3,806.8 497.5,807.3 497.8,807.3 498.1,807.1 498.3,807.1 498.6,806.8 498.8,806.7 499.1,806.8 499.4,807.0 499.6,807.3 499.9,807.4 500.2,807.6 500.4,807.2 500.7,807.0 500.9,806.9 501.2,807.4 501.5,807.5 501.7,807.2 502.0,807.4 502.2,807.3 502.5,806.7 502.8,807.3 503.0,807.9 503.3,807.4 503.6,807.3 503.8,807.0 504.1,807.0 504.3,807.2 504.6,807.3 504.9,807.8 505.1,806.8 505.4,806.7 505.6,807.1 505.9,807.4 506.2,806.9 506.4,807.0 506.7,807.1 507.0,807.0 507.2,806.9 507.5,807.3 507.7,806.8 508.0,806.4 508.3,807.2 508.5,807.4 508.8,807.2 509.0,807.6 509.3,807.4 509.6,807.3 509.8,807.1 510.1,807.6 510.4,806.7 510.6,806.8 510.9,807.1 511.1,806.8 511.4,806.6 511.7,806.9 511.9,806.9 512.2,807.2 512.5,807.3 512.7,807.3 513.0,807.7 513.2,806.7 513.5,806.5 513.8,807.0 514.0,807.3 514.3,807.4 514.5,807.3 514.8,807.3 515.1,807.0 515.3,807.1 515.6,807.2 515.9,807.2 516.1,806.7 516.4,807.2 516.6,807.2 516.9,807.2 517.2,807.0 517.4,807.1 517.7,806.8 517.9,807.2 518.2,807.1 518.5,807.3 518.7,807.3 519.0,807.0 519.3,807.8 519.5,808.0 519.8,807.2 520.0,806.9 520.3,807.2 520.6,807.3 520.8,807.2 521.1,806.8 521.4,807.0 521.6,807.1 521.9,806.9 522.1,807.3 522.4,807.0 522.7,807.0 522.9,806.6 523.2,806.7 523.4,806.6 523.7,807.3 524.0,807.5 524.2,807.0 524.5,807.6 524.8,807.6 525.0,807.0 525.3,806.3 525.5,807.2 525.8,807.9 526.1,807.1 526.3,806.8 526.6,806.9 526.8,806.9 527.1,807.6 527.4,806.9 527.6,807.0 527.9,807.3 528.2,807.2 528.4,807.1 528.7,807.0 528.9,807.1 529.2,807.1 529.5,807.0 529.7,807.4 530.0,807.4 530.2,807.1 530.5,807.5 530.8,807.5 531.0,807.3 531.3,807.0 531.6,807.1 531.8,807.2 532.1,807.0 532.3,807.4 532.6,807.2 532.9,807.2 533.1,806.7 533.4,806.7 533.7,807.4 533.9,807.6 534.2,807.0 534.4,807.3 534.7,807.2 535.0,807.4 535.2,807.2 535.5,806.5 535.7,806.8 536.0,806.5 536.3,806.7 536.5,807.1 536.8,807.0 537.1,807.6 537.3,807.9 537.6,807.4 537.8,807.3 538.1,806.8 538.4,806.5 538.6,806.8 538.9,806.8 539.1,807.0 539.4,807.5 539.7,807.4 539.9,807.5 540.2,807.2 540.5,807.4 540.7,807.6 541.0,807.3 541.2,807.1 541.5,807.1 541.8,807.1 542.0,806.9 542.3,807.0 542.5,806.9 542.8,806.7 543.1,806.9 543.3,806.9 543.6,807.2 543.9,807.1 544.1,807.5 544.4,806.8 544.6,807.2 544.9,806.8 545.2,807.3 545.4,807.5 545.7,807.6 546.0,807.1 546.2,807.0 546.5,806.6 546.7,806.7 547.0,806.9 547.3,807.0 547.5,807.4 547.8,807.1 548.0,807.2 548.3,807.5 548.6,807.5 548.8,807.0 549.1,806.9 549.4,807.1 549.6,807.4 549.9,807.0 550.1,807.3 550.4,807.4 550.7,807.1 550.9,807.1 551.2,806.9 551.4,807.1 551.7,807.2 552.0,807.3 552.2,807.0 552.5,806.7 552.8,806.9 553.0,806.9 553.3,806.5 553.5,806.9 553.8,807.2 554.1,807.7 554.3,807.3 554.6,806.7 554.9,806.7 555.1,807.1 555.4,807.1 555.6,807.1 555.9,807.3 556.2,807.2 556.4,807.4 556.7,807.3 556.9,807.0 557.2,806.9 557.5,807.3 557.7,807.0 558.0,807.3 558.3,807.0 558.5,807.0 558.8,807.1 559.0,807.2 559.3,807.3 559.6,807.3 559.8,807.1 560.1,807.3 560.3,807.3 560.6,806.8 560.9,807.4 561.1,807.2 561.4,806.6 561.7,807.0 561.9,807.4 562.2,806.9 562.4,806.8 562.7,806.7 563.0,807.0 563.2,807.3 563.5,806.6 563.7,807.0 564.0,806.9 564.3,806.7 564.5,806.8 564.8,806.7 565.1,807.1 565.3,806.8 565.6,807.1 565.8,806.7 566.1,807.2 566.4,807.4 566.6,807.2 566.9,806.5 567.2,806.3 567.4,807.2 567.7,807.5 567.9,807.5 568.2,807.4 568.5,807.7 568.7,807.2 569.0,806.8 569.2,806.9 569.5,806.9 569.8,806.6 570.0,807.3 570.3,807.5 570.6,807.1 570.8,807.0 571.1,807.1 571.3,807.3 571.6,807.3 571.9,807.1 572.1,807.1 572.4,807.4 572.6,807.5 572.9,807.2 573.2,807.3 573.4,807.2 573.7,807.2 574.0,807.0 574.2,807.3 574.5,807.8 574.7,807.3 575.0,807.4 575.3,807.0 575.5,807.0 575.8,806.8 576.0,807.5 576.3,807.6 576.6,807.2 576.8,806.9 577.1,807.2 577.4,807.7 577.6,807.5 577.9,807.5 578.1,807.5 578.4,807.2 578.7,807.2 578.9,807.3 579.2,806.9 579.5,806.8 579.7,806.8 580.0,806.9 580.2,807.2 580.5,807.0 580.8,806.9 581.0,807.2 581.3,807.0 581.5,807.0 581.8,807.0 582.1,806.9 582.3,807.3 582.6,807.5 582.9,807.1 583.1,807.2 583.4,806.6 583.6,807.1 583.9,807.1 584.2,807.2 584.4,806.9 584.7,808.0 584.9,807.5 585.2,807.1 585.5,807.2 585.7,807.3 586.0,806.8 586.3,806.7 586.5,807.5 586.8,807.6 587.0,807.2 587.3,807.2 587.6,807.7 587.8,807.3 588.1,807.1 588.4,807.0 588.6,807.4 588.9,807.5 589.1,806.7 589.4,807.0 589.7,807.3 589.9,807.0 590.2,807.1 590.4,807.0 590.7,806.9 591.0,806.8 591.2,806.7 591.5,806.9 591.8,807.3 592.0,807.4 592.3,807.1 592.5,807.3 592.8,807.3 593.1,806.7 593.3,806.6 593.6,806.9 593.8,807.0 594.1,807.2 594.4,807.0 594.6,807.2 594.9,807.4 595.2,807.2 595.4,807.4 595.7,807.4 595.9,807.4 596.2,807.0 596.5,806.7 596.7,807.2 597.0,807.3 597.2,807.2 597.5,807.2 597.8,807.4 598.0,807.1 598.3,807.3 598.6,807.4 598.8,807.3 599.1,807.2 599.3,807.1 599.6,807.1 599.9,807.5 600.1,807.1 600.4,806.4 600.7,806.9 600.9,807.1 601.2,806.7 601.4,807.2 601.7,806.9 602.0,806.9 602.2,807.0 602.5,807.6 602.7,807.5 603.0,807.5 603.3,807.1 603.5,807.4 603.8,807.6 604.1,807.2 604.3,806.7 604.6,806.6 604.8,807.0 605.1,806.8 605.4,807.0 605.6,806.7 605.9,807.1 606.1,807.2 606.4,807.0 606.7,807.3 606.9,807.8 607.2,807.7 607.5,807.1 607.7,807.0 608.0,807.4 608.2,807.5 608.5,807.4 608.8,807.4 609.0,807.1 609.3,807.2 609.5,807.2 609.8,807.1 610.1,807.3 610.3,807.5 610.6,807.1 610.9,806.9 611.1,806.9 611.4,807.1 611.6,807.4 611.9,807.1 612.2,807.0 612.4,806.6 612.7,806.6 613.0,805.8 613.2,805.9 613.5,805.5 613.7,805.6 614.0,804.9 614.3,804.5 614.5,804.3 614.8,804.0 615.0,803.7 615.3,803.1 615.6,803.1 615.8,802.8 616.1,802.9 616.4,803.2 616.6,803.2 616.9,803.8 617.1,804.2 617.4,804.6 617.7,804.4 617.9,805.0 618.2,805.6 618.4,805.7 618.7,806.2 619.0,806.2 619.2,806.8 619.5,807.0 619.8,807.2 620.0,807.1 620.3,806.8 620.5,806.7 620.8,806.4 621.1,806.9 621.3,807.7 621.6,806.8 621.9,806.7 622.1,806.7 622.4,807.4 622.6,807.0 622.9,807.2 623.2,807.0 623.4,806.7 623.7,806.8 623.9,807.6 624.2,807.0 624.5,807.0 624.7,807.1 625.0,807.1 625.3,806.2 625.5,806.1 625.8,805.3 626.0,804.4 626.3,804.9 626.6,806.0 626.8,806.9 627.1,808.8 627.3,809.7 627.6,810.0 627.9,808.9 628.1,807.8 628.4,807.1 628.7,807.2 628.9,806.9 629.2,806.9 629.4,807.3 629.7,807.4 630.0,806.7 630.2,806.7 630.5,806.6 630.7,807.1 631.0,807.3 631.3,807.0 631.5,806.7 631.8,806.9 632.1,807.3 632.3,807.2 632.6,806.7 632.8,807.0 633.1,807.4 633.4,807.1 633.6,806.7 633.9,806.6 634.2,806.9 634.4,806.8 634.7,807.0 634.9,806.6 635.2,807.3 635.5,807.3 635.7,806.9 636.0,806.3 636.2,806.7 636.5,806.8 636.8,807.0 637.0,806.8 637.3,806.7 637.6,806.7 637.8,806.7 638.1,806.8 638.3,807.3 638.6,807.3 638.9,807.4 639.1,807.3 639.4,807.1 639.6,807.2 639.9,807.6 640.2,807.1 640.4,806.7 640.7,807.4 641.0,807.4 641.2,807.4 641.5,807.0 641.7,807.1 642.0,807.4 642.3,806.6 642.5,806.4 642.8,806.1 643.1,806.0 643.3,806.1 643.6,806.2 643.8,805.5 644.1,805.1 644.4,804.6 644.6,804.4 644.9,803.8 645.1,804.5 645.4,804.3 645.7,804.4 645.9,805.0 646.2,805.1 646.5,805.6 646.7,806.6 647.0,807.1 647.2,807.0 647.5,807.7 647.8,808.5 648.0,808.4 648.3,808.8 648.5,809.5 648.8,809.2 649.1,808.9 649.3,808.5 649.6,808.4 649.9,808.3 650.1,807.9 650.4,807.5 650.6,807.7 650.9,807.3 651.2,807.1 651.4,807.1 651.7,807.1 651.9,807.0 652.2,806.9 652.5,807.3 652.7,807.6 653.0,807.4 653.3,807.4 653.5,807.3 653.8,807.1 654.0,806.9 654.3,807.0 654.6,807.0 654.8,807.2 655.1,807.2 655.4,806.7 655.6,806.9 655.9,807.0 656.1,807.2 656.4,807.0 656.7,806.7 656.9,806.8 657.2,807.3 657.4,807.2 657.7,807.3 658.0,806.6 658.2,806.8 658.5,806.9 658.8,806.8 659.0,807.1 659.3,807.1 659.5,807.0 659.8,806.8 660.1,806.8 660.3,807.0 660.6,807.0 660.8,806.9 661.1,807.2 661.4,807.1 661.6,807.4 661.9,807.3 662.2,807.0 662.4,807.5 662.7,807.4 662.9,806.9 663.2,807.0 663.5,807.1 663.7,806.7 664.0,807.1 664.2,807.1 664.5,807.2 664.8,807.3 665.0,807.2 665.3,807.3 665.6,807.3 665.8,806.9 666.1,807.3 666.3,807.0 666.6,807.3 666.9,807.3 667.1,807.0 667.4,807.3 667.7,806.7 667.9,807.4 668.2,807.0 668.4,807.4 668.7,807.1 669.0,807.3 669.2,807.2 669.5,807.2 669.7,807.0 670.0,806.9 670.3,807.0 670.5,806.8 670.8,806.5 671.1,807.0 671.3,806.9 671.6,807.3 671.8,807.6 672.1,806.8 672.4,807.0 672.6,807.0 672.9,807.1 673.1,807.7 673.4,807.9 673.7,807.3 673.9,806.9 674.2,807.1 674.5,807.0 674.7,807.1 675.0,807.3 675.2,807.0 675.5,806.7 675.8,807.6 676.0,807.6 676.3,807.5 676.6,807.1 676.8,807.4 677.1,807.4 677.3,807.1 677.6,806.7 677.9,807.3 678.1,807.2 678.4,807.2 678.6,806.7 678.9,807.4 679.2,807.4 679.4,806.7 679.7,807.3 680.0,807.3 680.2,807.2 680.5,806.9 680.7,807.6 681.0,807.5 681.3,807.2 681.5,807.2 681.8,807.0 682.0,807.4 682.3,807.3 682.6,807.5 682.8,806.9 683.1,806.9 683.4,807.4 683.6,807.2 683.9,806.7 684.1,806.9 684.4,807.1 684.7,806.9 684.9,806.9 685.2,807.3 685.4,807.1 685.7,807.3 686.0,806.8 686.2,807.4 686.5,806.9 686.8,807.0 687.0,806.6 687.3,806.7 687.5,807.2 687.8,806.9 688.1,807.2 688.3,807.3 688.6,807.5 688.9,807.6 689.1,807.5 689.4,807.3 689.6,807.4 689.9,807.2 690.2,807.4 690.4,807.5 690.7,807.1 690.9,807.3 691.2,806.8 691.5,807.0 691.7,807.3 692.0,807.0 692.3,807.3 692.5,807.2 692.8,807.1 693.0,807.3 693.3,806.9 693.6,806.7 693.8,807.4 694.1,807.5 694.3,807.2 694.6,807.5 694.9,806.9 695.1,807.1 695.4,807.2 695.7,806.9 695.9,807.1 696.2,806.9 696.4,807.1 696.7,807.0 697.0,807.3 697.2,806.5 697.5,806.4 697.7,807.1 698.0,807.4 698.3,807.7 698.5,807.5 698.8,806.5 699.1,806.9 699.3,807.2 699.6,807.1 699.8,806.7 700.1,806.8 700.4,806.3 700.6,806.5 700.9,806.1 701.2,806.1 701.4,805.8 701.7,805.4 701.9,804.8 702.2,804.6 702.5,805.2 702.7,804.9 703.0,804.4 703.2,805.0 703.5,805.5 703.8,806.1 704.0,806.3 704.3,806.7 704.6,806.8 704.8,807.0 705.1,807.0 705.3,806.9 705.6,807.4 705.9,807.3 706.1,807.1 706.4,807.3 706.6,807.4 706.9,807.1 707.2,807.1 707.4,807.6 707.7,807.4 708.0,806.9 708.2,807.2 708.5,807.7 708.7,807.2 709.0,807.2 709.3,806.9 709.5,807.0 709.8,807.5 710.1,807.5 710.3,807.2 710.6,807.1 710.8,807.0 711.1,807.6 711.4,807.1 711.6,807.0 711.9,807.2 712.1,807.2 712.4,807.2 712.7,807.4 712.9,807.4 713.2,807.1 713.5,806.7 713.7,807.1 714.0,807.1 714.2,806.5 714.5,807.3 714.8,807.2 715.0,807.1 715.3,806.9 715.5,807.1 715.8,807.1 716.1,806.8 716.3,807.3 716.6,807.3 716.9,807.2 717.1,807.6 717.4,807.1 717.6,806.9 717.9,807.1 718.2,807.1 718.4,806.8 718.7,807.0 718.9,807.5 719.2,807.2 719.5,806.4 719.7,806.8 720.0,807.2 720.3,807.2 720.5,807.2 720.8,807.7 721.0,807.8 721.3,807.2 721.6,806.9 721.8,806.8 722.1,806.9 722.4,807.0 722.6,807.4 722.9,807.2 723.1,807.1 723.4,806.7 723.7,806.5 723.9,807.0 724.2,807.2 724.4,807.0 724.7,807.0 725.0,806.9 725.2,806.6 725.5,807.1 725.8,807.4 726.0,807.1 726.3,807.3 726.5,807.4 726.8,807.2 727.1,807.9 727.3,807.6 727.6,807.8 727.8,808.7 728.1,808.8 728.4,808.7 728.6,809.0 728.9,808.9 729.2,809.1 729.4,808.7 729.7,808.3 729.9,808.0 730.2,807.4 730.5,807.4 730.7,807.5 731.0,807.3 731.2,807.5 731.5,807.8 731.8,807.1 732.0,807.2 732.3,807.4 732.6,807.1 732.8,806.8 733.1,807.1 733.3,807.1 733.6,806.9 733.9,807.1 734.1,806.8 734.4,806.8 734.7,807.4 734.9,807.0 735.2,807.8 735.4,807.3 735.7,807.3 736.0,806.9 736.2,807.2 736.5,806.8 736.7,807.2 737.0,807.4 737.3,807.0 737.5,806.9 737.8,806.9 738.1,807.2 738.3,807.0 738.6,807.2 738.8,807.1 739.1,807.4 739.4,806.6 739.6,806.7 739.9,807.1 740.1,807.2 740.4,806.8 740.7,806.9 740.9,807.1 741.2,807.5 741.5,807.3 741.7,807.0 742.0,807.1 742.2,807.3 742.5,807.3 742.8,807.2 743.0,807.6 743.3,807.3 743.6,806.8 743.8,806.7 744.1,807.2 744.3,807.5 744.6,807.1 744.9,807.1 745.1,807.0 745.4,807.0 745.6,807.3 745.9,807.1 746.2,807.1 746.4,806.9 746.7,807.2 747.0,807.2 747.2,806.6 747.5,806.8 747.7,806.8 748.0,807.0 748.3,807.0 748.5,806.8 748.8,807.1 749.0,806.3 749.3,807.1 749.6,807.4 749.8,807.2 750.1,806.8 750.4,807.2 750.6,807.4 750.9,807.5 751.1,807.2 751.4,806.9 751.7,806.6 751.9,807.2 752.2,807.2 752.4,806.5 752.7,806.5 753.0,807.0 753.2,807.6 753.5,807.2 753.8,806.8 754.0,806.5 754.3,807.0 754.5,807.1 754.8,807.2 755.1,807.0 755.3,807.4 755.6,808.4 755.9,808.9 756.1,809.2 756.4,809.6 756.6,810.1 756.9,809.7 757.2,809.4 757.4,808.8 757.7,808.6 757.9,808.3 758.2,807.7 758.5,807.1 758.7,807.3 759.0,807.1 759.3,806.9 759.5,807.0 759.8,806.9 760.0,807.4 760.3,807.2 760.6,806.9 760.8,807.6 761.1,807.7 761.3,807.2 761.6,807.0 761.9,807.3 762.1,807.2 762.4,807.2 762.7,806.8 762.9,807.2 763.2,806.8 763.4,806.9 763.7,806.8 764.0,806.8 764.2,807.3 764.5,806.6 764.7,806.6 765.0,806.7 765.3,807.0 765.5,806.8 765.8,807.1 766.1,807.4 766.3,807.0 766.6,807.3 766.8,807.0 767.1,807.0 767.4,807.3 767.6,807.2 767.9,807.3 768.2,808.1 768.4,807.4 768.7,806.9 768.9,807.0 769.2,807.0 769.5,807.4 769.7,807.3 770.0,807.0 770.2,807.3 770.5,807.0 770.8,807.8 771.0,808.0 771.3,807.6 771.6,807.2 771.8,807.2 772.1,806.9 772.3,807.0 772.6,806.7 772.9,805.5 773.1,805.0 773.4,804.3 773.6,804.8 773.9,806.7 774.2,808.7 774.4,810.3 774.7,811.7 775.0,811.9 775.2,811.4 775.5,809.5 775.7,808.2 776.0,807.2 776.3,807.3 776.5,807.0 776.8,807.2 777.1,807.6 777.3,807.5 777.6,807.3 777.8,807.5 778.1,807.3 778.4,807.0 778.6,807.2 778.9,807.5 779.1,807.2 779.4,807.0 779.7,807.0 779.9,806.9 780.2,807.1 780.5,807.2 780.7,807.0 781.0,806.9 781.2,807.4 781.5,807.0 781.8,807.0 782.0,807.1 782.3,807.0 782.5,806.5 782.8,807.1 783.1,807.2 783.3,807.2 783.6,807.3 783.9,806.9 784.1,807.1 784.4,807.8 784.6,807.4 784.9,807.1 785.2,807.3 785.4,807.7 785.7,807.3 785.9,806.9 786.2,806.7 786.5,807.3 786.7,807.1 787.0,806.9 787.3,806.7 787.5,807.0 787.8,807.3 788.0,807.2 788.3,806.9 788.6,807.1 788.8,807.5 789.1,807.8 789.4,807.6 789.6,806.9 789.9,806.6 790.1,806.9 790.4,807.1 790.7,807.1 790.9,806.7 791.2,806.8 791.4,807.2 791.7,807.3 792.0,807.0 792.2,807.0 792.5,807.5 792.8,807.2 793.0,807.3 793.3,807.4 793.5,806.8 793.8,807.1 794.1,807.1 794.3,806.9 794.6,807.1 794.8,807.5 795.1,807.3 795.4,807.6 795.6,807.0 795.9,806.6 796.2,807.3 796.4,807.0 796.7,807.0 796.9,806.6 797.2,807.1 797.5,807.1 797.7,806.7 798.0,806.9 798.3,807.1 798.5,806.7 798.8,806.7 799.0,807.0 799.3,806.9 799.6,807.0 799.8,807.4 800.1,807.5 800.3,807.2 800.6,807.4 800.9,807.4 801.1,806.6 801.4,807.1 801.7,807.6 801.9,807.2 802.2,807.2 802.4,807.5 802.7,807.5 803.0,807.6 803.2,807.3 803.5,806.9 803.7,807.1 804.0,807.3 804.3,807.5 804.5,807.5 804.8,807.1 805.1,807.2 805.3,807.2 805.6,806.4 805.8,807.1 806.1,807.4 806.4,807.0 806.6,807.3 806.9,807.4 807.1,806.6 807.4,806.5 807.7,807.1 807.9,807.5 808.2,806.7 808.5,806.7 808.7,807.2 809.0,807.0 809.2,807.4 809.5,806.9 809.8,807.2 810.0,806.9 810.3,806.9 810.6,807.4 810.8,807.8 811.1,807.1 811.3,807.2 811.6,807.5 811.9,807.0 812.1,807.0 812.4,806.8 812.6,807.3 812.9,807.6 813.2,807.0 813.4,807.2 813.7,806.8 814.0,807.2 814.2,807.1 814.5,806.9 814.7,806.7 815.0,807.3 815.3,807.6 815.5,807.2 815.8,806.9 816.0,807.1 816.3,807.4 816.6,807.1 816.8,806.8 817.1,806.8 817.4,807.5 817.6,807.6 817.9,807.1 818.1,807.6 818.4,807.4 818.7,807.1 818.9,807.3 819.2,807.0 819.4,807.2 819.7,806.8 820.0,806.9 820.2,807.1 820.5,807.0 820.8,807.3 821.0,806.9 821.3,806.7 821.5,807.1 821.8,807.0 822.1,807.2 822.3,807.0 822.6,807.4 822.9,807.5 823.1,807.4 823.4,807.5 823.6,807.3 823.9,807.1 824.2,807.6 824.4,807.1 824.7,806.8 824.9,807.3 825.2,807.2 825.5,807.0 825.7,807.0 826.0,807.3 826.3,806.3 826.5,806.3 826.8,807.1 827.0,807.4 827.3,807.4 827.6,806.9 827.8,807.1 828.1,807.7 828.3,807.2 828.6,806.9 828.9,807.1 829.1,807.3 829.4,806.7 829.7,807.0 829.9,806.7 830.2,807.2 830.4,807.0 830.7,807.0 831.0,806.7 831.2,806.7 831.5,807.0 831.8,807.0 832.0,807.5 832.3,807.7 832.5,807.7 832.8,807.3 833.1,807.0 833.3,807.2 833.6,807.7 833.8,807.2 834.1,806.9 834.4,807.5 834.6,807.2 834.9,807.6 835.2,807.4 835.4,807.1 835.7,807.6 835.9,807.3 836.2,807.7 836.5,807.6 836.7,807.1 837.0,807.3 837.2,807.2 837.5,807.1 837.8,806.8 838.0,807.1 838.3,807.4 838.6,807.4 838.8,807.1 839.1,806.9 839.3,807.0 839.6,806.9 839.9,807.3 840.1,806.7 840.4,807.2 840.6,807.3 840.9,806.7 841.2,806.9 841.4,807.0 841.7,807.4 842.0,807.0 842.2,807.0 842.5,806.7 842.7,806.6 843.0,806.7 843.3,807.1 843.5,807.0 843.8,807.0 844.1,807.3 844.3,807.2 844.6,806.6 844.8,806.8 845.1,806.6 845.4,806.9 845.6,807.3 845.9,807.1 846.1,806.9 846.4,807.6 846.7,807.1 846.9,807.2 847.2,807.1 847.5,807.2 847.7,807.1 848.0,807.4 848.2,807.3 848.5,807.1 848.8,806.9 849.0,806.8 849.3,807.4 849.5,807.0 849.8,807.1 850.1,807.4 850.3,807.5 850.6,807.3 850.9,807.3 851.1,806.8 851.4,806.8 851.6,806.8 851.9,806.4 852.2,806.7 852.4,807.7 852.7,807.9 852.9,807.1 853.2,806.8 853.5,806.7 853.7,806.5 854.0,807.0 854.3,807.0 854.5,807.2 854.8,806.9 855.0,806.7 855.3,807.2 855.6,807.1 855.8,806.7 856.1,807.1 856.4,806.8 856.6,807.1 856.9,806.8 857.1,807.0 857.4,806.8 857.7,807.6 857.9,807.4 858.2,807.0 858.4,806.9 858.7,806.8 859.0,806.9 859.2,806.7 859.5,807.3 859.8,807.1 860.0,806.9 860.3,806.9 860.5,806.9 860.8,807.0 861.1,807.2 861.3,807.3 861.6,807.3 861.8,806.9 862.1,807.1 862.4,807.1 862.6,807.1 862.9,806.9 863.2,807.4 863.4,807.1 863.7,807.2 863.9,807.2 864.2,807.5 864.5,807.2 864.7,807.0 865.0,807.1 865.3,807.9 865.5,807.3 865.8,807.4 866.0,807.2 866.3,806.6 866.6,807.2 866.8,807.4 867.1,807.0 867.3,806.7 867.6,807.0 867.9,807.2 868.1,806.9 868.4,806.8 868.7,807.0 868.9,807.0 869.2,807.2 869.4,807.2 869.7,807.2 870.0,807.1 870.2,807.0 870.5,806.7 870.7,807.3 871.0,807.0 871.3,806.9 871.5,807.0 871.8,807.3 872.1,807.1 872.3,807.0 872.6,807.1 872.8,807.4 873.1,807.4 873.4,807.2 873.6,807.2 873.9,807.2 874.1,807.6 874.4,807.1 874.7,807.2 874.9,807.1 875.2,806.8 875.5,806.7 875.7,806.8 876.0,806.6 876.2,807.0 876.5,807.0 876.8,806.7 877.0,807.0 877.3,806.7 877.6,806.6 877.8,806.9 878.1,807.5 878.3,807.0 878.6,806.9 878.9,807.2 879.1,807.0 879.4,807.4 879.6,807.2 879.9,807.1 880.2,807.5 880.4,807.1 880.7,806.8 881.0,806.7 881.2,807.0 881.5,806.6 881.7,806.7 882.0,807.2 882.3,807.4 882.5,807.2 882.8,807.1 883.0,807.4 883.3,807.5 883.6,807.5 883.8,807.1 884.1,806.9 884.4,807.4 884.6,807.2 884.9,806.8 885.1,806.6 885.4,807.0 885.7,807.2 885.9,807.0 886.2,806.8 886.4,807.2 886.7,807.1 887.0,807.5 887.2,807.4 887.5,807.8 887.8,807.3 888.0,807.1 888.3,806.9 888.5,806.3 888.8,806.8 889.1,807.1 889.3,807.2 889.6,807.7 889.9,807.7 890.1,807.6 890.4,807.2 890.6,807.3 890.9,807.2 891.2,807.1 891.4,806.7 891.7,806.7 891.9,806.6 892.2,807.0 892.5,807.0 892.7,807.1 893.0,807.5 893.3,807.8 893.5,806.8 893.8,806.6 894.0,806.7 894.3,806.6 894.6,807.0 894.8,807.3 895.1,807.4 895.3,807.1 895.6,806.8 895.9,807.0 896.1,807.0 896.4,807.2 896.7,807.6 896.9,807.2 897.2,806.7 897.4,806.8 897.7,807.1 898.0,807.3 898.2,806.7 898.5,806.9 898.8,807.4 899.0,806.9 899.3,807.2 899.5,807.0 899.8,807.1 900.1,806.8 900.3,806.7 900.6,806.8 900.8,807.1 901.1,807.4 901.4,807.2 901.6,806.9 901.9,807.4 902.2,807.3 902.4,807.2 902.7,807.1 902.9,807.1 903.2,806.7 903.5,805.9 903.7,805.0 904.0,805.0 904.2,806.1 904.5,806.7 904.8,807.8 905.0,808.8 905.3,809.4 905.6,808.7 905.8,808.3 906.1,807.4 906.3,807.1 906.6,807.2 906.9,807.2 907.1,807.1 907.4,806.7 907.6,806.9 907.9,806.9 908.2,807.1 908.4,806.8 908.7,806.9 909.0,806.8 909.2,807.1 909.5,807.2 909.7,807.2 910.0,806.4 910.3,806.8 910.5,807.1 910.8,806.9 911.1,806.8 911.3,807.0 911.6,807.2 911.8,806.9 912.1,807.0 912.4,807.5 912.6,807.5 912.9,807.3 913.1,807.5 913.4,807.3 913.7,807.2 913.9,806.9 914.2,807.5 914.5,807.3 914.7,807.1 915.0,807.8 915.2,807.5 915.5,807.2 915.8,807.2 916.0,807.1 916.3,806.9 916.5,806.8 916.8,807.1 917.1,807.3 917.3,807.2 917.6,806.9 917.9,807.1 918.1,807.4 918.4,807.5 918.6,806.9 918.9,807.3 919.2,807.4 919.4,807.2 919.7,807.7 919.9,807.1 920.2,806.6 920.5,806.9 920.7,807.4 921.0,807.0 921.3,807.0 921.5,806.8 921.8,807.3 922.0,807.8 922.3,807.2 922.6,806.7 922.8,807.3 923.1,807.1 923.4,807.0 923.6,807.2 923.9,807.3 924.1,807.2 924.4,806.6 924.7,806.7 924.9,807.3 925.2,807.3 925.4,807.2 925.7,806.6 926.0,807.1 926.2,807.1 926.5,806.9 926.8,807.1 927.0,807.1 927.3,807.1 927.5,807.5 927.8,807.1 928.1,807.5 928.3,807.3 928.6,807.2 928.8,807.4 929.1,807.6 929.4,807.2 929.6,807.0 929.9,807.2 930.2,807.6 930.4,807.2 930.7,807.3 930.9,806.9 931.2,807.4 931.5,807.1 931.7,806.9 932.0,806.8 932.3,807.4 932.5,807.4 932.8,807.4 933.0,807.4 933.3,807.3 933.6,807.2 933.8,806.8 934.1,807.1 934.3,806.6 934.6,806.8 934.9,806.9 935.1,806.9 935.4,807.7 935.7,807.2 935.9,807.4 936.2,806.7 936.4,807.1 936.7,807.2 937.0,807.0 937.2,806.5 937.5,807.5 937.7,807.1 938.0,806.7 938.3,806.8 938.5,807.3 938.8,807.2 939.1,807.0 939.3,807.3 939.6,807.1 939.8,806.9 940.1,807.1 940.4,806.5 940.6,806.7 940.9,807.3 941.1,807.2 941.4,807.0 941.7,807.1 941.9,807.0 942.2,806.9 942.5,807.4 942.7,806.7 943.0,806.8 943.2,807.3 943.5,807.2 943.8,807.2 944.0,807.1 944.3,807.5 944.6,807.1 944.8,807.1 945.1,806.8 945.3,807.0 945.6,807.0 945.9,807.1 946.1,807.0 946.4,807.2 946.6,807.4 946.9,807.5 947.2,807.3 947.4,807.5 947.7,807.0 948.0,806.9 948.2,807.2 948.5,806.9 948.7,807.4 949.0,806.9 949.3,806.9 949.5,807.3 949.8,807.4 950.0,807.5 950.3,807.3 950.6,807.1 950.8,807.5 951.1,807.4 951.4,807.5 951.6,807.1 951.9,807.0 952.1,807.3 952.4,807.4 952.7,807.1 952.9,807.1 953.2,806.7 953.5,806.7 953.7,806.8 954.0,806.9 954.2,806.7 954.5,806.8 954.8,807.2 955.0,807.3 955.3,807.6 955.5,807.3 955.8,806.9 956.1,806.6 956.3,807.3 956.6,807.4 956.9,807.4 957.1,807.0 957.4,807.0 957.6,807.3 957.9,807.5 958.2,806.8 958.4,807.2 958.7,807.2 958.9,807.1 959.2,807.1 959.5,806.9 959.7,807.0 960.0,807.1 960.3,807.1 960.5,807.5 960.8,807.5 961.0,807.0 961.3,807.2 961.6,807.6 961.8,807.7 962.1,807.8 962.3,807.1 962.6,806.9 962.9,806.9 963.1,806.9 963.4,806.9 963.7,806.8 963.9,807.1 964.2,807.1 964.4,807.4 964.7,807.1 965.0,807.1 965.2,807.2 965.5,807.1 965.8,806.6 966.0,806.7 966.3,806.8 966.5,806.6 966.8,806.4 967.1,806.8 967.3,807.0 967.6,807.0 967.8,806.8 968.1,807.1 968.4,807.0 968.6,807.4 968.9,807.2 969.2,806.6 969.4,806.4 969.7,806.5 969.9,806.8 970.2,807.0 970.5,807.3 970.7,807.4 971.0,807.2 971.2,807.0 971.5,807.0 971.8,807.5 972.0,808.1 972.3,807.5 972.6,807.1 972.8,806.7 973.1,806.4 973.3,806.5 973.6,807.0 973.9,807.3 974.1,807.2 974.4,806.8 974.6,807.2 974.9,807.2 975.2,807.6 975.4,807.4 975.7,806.5 976.0,806.6 976.2,807.3 976.5,807.7 976.7,807.2 977.0,806.6 977.3,807.2 977.5,807.5 977.8,806.6 978.1,807.0 978.3,807.2 978.6,807.3 978.8,807.0 979.1,807.3 979.4,807.3 979.6,807.2 979.9,807.3 980.1,807.7 980.4,807.1 980.7,806.7 980.9,806.7 981.2,806.8 981.5,806.8 981.7,807.0 982.0,807.2 982.2,807.5 982.5,807.5 982.8,807.4 983.0,807.4 983.3,807.5 983.5,807.6 983.8,807.3 984.1,807.1 984.3,806.7 984.6,807.3 984.9,807.3 985.1,807.4 985.4,807.0 985.6,807.2 985.9,806.9 986.2,806.6 986.4,807.4 986.7,806.5 987.0,807.0 987.2,807.4 987.5,807.6 987.7,806.8 988.0,806.9 988.3,807.0 988.5,807.5 988.8,807.0 989.0,806.9 989.3,807.1 989.6,807.2 989.8,806.8 990.1,807.1 990.4,806.7 990.6,807.1 990.9,807.5 991.1,807.2 991.4,807.0 991.7,806.9 991.9,806.9 992.2,807.0 992.4,807.1 992.7,807.0 993.0,806.8 993.2,807.1 993.5,807.0 993.8,807.0 994.0,806.8 994.3,807.2 994.5,807.4 994.8,806.7 995.1,806.8 995.3,806.9 995.6,807.3 995.8,807.1 996.1,807.2 996.4,807.0 996.6,807.1 996.9,807.4 997.2,807.8 997.4,807.3 997.7,807.2 997.9,807.2 998.2,807.2 998.5,806.7 998.7,807.4 999.0,807.8 999.3,807.4 999.5,807.1 999.8,807.1 1000.0,807.2 1000.3,807.2 1000.6,807.5 1000.8,807.4 1001.1,807.2 1001.3,806.8 1001.6,807.1 1001.9,806.9 1002.1,807.3 1002.4,807.0 1002.7,807.2 1002.9,807.2 1003.2,807.0 1003.4,807.0 1003.7,807.2 1004.0,807.2 1004.2,806.8 1004.5,806.8 1004.7,806.9 1005.0,806.8 1005.3,806.9 1005.5,807.1 1005.8,807.3 1006.1,807.4 1006.3,807.0 1006.6,806.8 1006.8,807.0 1007.1,807.1 1007.4,807.0 1007.6,806.5 1007.9,806.8 1008.1,807.3 1008.4,806.9 1008.7,806.8 1008.9,806.7 1009.2,807.1 1009.5,807.5 1009.7,807.2 1010.0,807.4 1010.2,807.2 1010.5,806.8 1010.8,806.9 1011.0,807.0 1011.3,807.2 1011.6,807.5 1011.8,807.0 1012.1,807.1 1012.3,807.3 1012.6,807.6 1012.9,807.3 1013.1,806.9 1013.4,807.3 1013.6,807.3 1013.9,806.8 1014.2,807.1 1014.4,806.8 1014.7,806.7 1015.0,807.0 1015.2,807.8 1015.5,807.1 1015.7,807.1 1016.0,806.9 1016.3,806.9 1016.5,806.7 1016.8,807.0 1017.0,807.0 1017.3,807.3 1017.6,807.4 1017.8,807.2 1018.1,807.2 1018.4,806.8 1018.6,807.5 1018.9,807.4 1019.1,806.9 1019.4,806.9 1019.7,807.0 1019.9,806.9 1020.2,806.9 1020.5,807.6 1020.7,807.6 1021.0,807.5 1021.2,807.3 1021.5,806.7 1021.8,806.7 1022.0,806.8 1022.3,807.0 1022.5,807.5 1022.8,807.5 1023.1,807.1 1023.3,806.9 1023.6,807.0 1023.9,807.1 1024.1,807.1 1024.4,807.1 1024.6,807.3 1024.9,807.2 1025.2,807.7 1025.4,807.9 1025.7,808.2 1025.9,809.1 1026.2,810.4 1026.5,810.9 1026.7,810.7 1027.0,810.0 1027.3,809.2 1027.5,808.8 1027.8,807.8 1028.0,806.9 1028.3,806.8 1028.6,807.1 1028.8,807.3 1029.1,807.2 1029.3,807.3 1029.6,807.2 1029.9,807.4 1030.1,807.4 1030.4,807.3 1030.7,807.3 1030.9,807.3 1031.2,807.1 1031.4,807.2 1031.7,807.5 1032.0,807.1 1032.2,806.9 1032.5,807.4 1032.8,807.9 1033.0,807.6 1033.3,807.6 1033.5,807.4 1033.8,807.0 1034.1,807.0 1034.3,806.9 1034.6,807.3 1034.8,807.5 1035.1,807.3 1035.4,807.5 1035.6,806.8 1035.9,806.5 1036.2,806.8 1036.4,807.0 1036.7,807.3 1036.9,807.5 1037.2,807.7 1037.5,807.6 1037.7,806.8 1038.0,806.7 1038.2,807.1 1038.5,806.8 1038.8,807.0 1039.0,807.1 1039.3,807.5 1039.6,807.2 1039.8,807.2 1040.1,806.8 1040.3,807.2 1040.6,807.2 1040.9,807.5 1041.1,807.3 1041.4,807.2 1041.6,807.3 1041.9,807.1 1042.2,807.3 1042.4,807.4 1042.7,807.0 1043.0,806.9 1043.2,806.7 1043.5,807.1 1043.7,807.3 1044.0,806.8 1044.3,807.0 1044.5,807.0 1044.8,807.5 1045.1,807.0 1045.3,807.4 1045.6,807.4 1045.8,807.5 1046.1,807.5 1046.4,806.9 1046.6,806.6 1046.9,806.8 1047.1,807.2 1047.4,807.1 1047.7,807.2 1047.9,807.3 1048.2,806.9 1048.5,807.2 1048.7,807.6 1049.0,807.3 1049.2,806.5 1049.5,807.1 1049.8,807.5 1050.0,806.9 1050.3,807.5 1050.5,807.3 1050.8,807.2 1051.1,807.5 1051.3,807.4 1051.6,807.6 1051.9,807.4 1052.1,807.2 1052.4,807.1 1052.6,807.6 1052.9,807.5 1053.2,806.7 1053.4,807.5 1053.7,807.1 1054.0,807.5 1054.2,807.3 1054.5,806.8 1054.7,807.1 1055.0,806.8 1055.3,807.1 1055.5,807.0 1055.8,807.4 1056.0,806.8 1056.3,807.1 1056.6,807.5 1056.8,807.5 1057.1,807.1 1057.4,807.2 1057.6,807.0 1057.9,806.9 1058.1,807.1 1058.4,807.0 1058.7,806.5 1058.9,806.5 1059.2,807.2 1059.4,807.2 1059.7,807.0 1060.0,807.4 1060.2,807.0 1060.5,806.9 1060.8,807.0 1061.0,807.5 1061.3,807.1 1061.5,807.4 1061.8,807.3 1062.1,807.1 1062.3,807.3 1062.6,807.2 1062.8,807.3 1063.1,807.2 1063.4,807.2 1063.6,807.2 1063.9,807.3 1064.2,806.7 1064.4,806.9 1064.7,806.8 1064.9,806.9 1065.2,806.9 1065.5,807.2 1065.7,807.0 1066.0,807.0 1066.3,807.3 1066.5,807.2 1066.8,807.0 1067.0,806.8 1067.3,806.9 1067.6,807.0 1067.8,807.5 1068.1,807.1 1068.3,807.0 1068.6,807.2 1068.9,807.3 1069.1,806.8 1069.4,807.1 1069.7,807.1 1069.9,807.0 1070.2,806.8 1070.4,807.4 1070.7,807.8 1071.0,807.4 1071.2,807.1 1071.5,807.0 1071.7,807.5 1072.0,807.0 1072.3,806.8 1072.5,807.0 1072.8,807.0 1073.1,807.5 1073.3,807.1 1073.6,807.1 1073.8,807.4 1074.1,807.1 1074.4,807.2 1074.6,807.1 1074.9,807.5 1075.1,807.6 1075.4,807.3 1075.7,807.0 1075.9,806.8 1076.2,807.5 1076.5,807.1 1076.7,807.3 1077.0,807.0 1077.2,807.1 1077.5,807.3 1077.8,807.5 1078.0,807.7 1078.3,806.9 1078.6,806.5 1078.8,806.9 1079.1,806.9 1079.3,807.3 1079.6,806.9 1079.9,806.5 1080.1,806.5 1080.4,807.5 1080.6,807.4 1080.9,807.1 1081.2,806.8 1081.4,807.1 1081.7,807.0 1082.0,806.9 1082.2,807.1 1082.5,806.7 1082.7,807.1 1083.0,807.4 1083.3,807.5 1083.5,806.8 1083.8,806.8 1084.0,807.6 1084.3,807.2 1084.6,807.3 1084.8,807.4 1085.1,807.8 1085.4,807.2 1085.6,807.6 1085.9,807.2 1086.1,807.0 1086.4,807.1 1086.7,806.9 1086.9,806.6 1087.2,806.9 1087.5,807.1 1087.7,807.4 1088.0,807.3 1088.2,807.0 1088.5,807.4 1088.8,807.1 1089.0,806.7 1089.3,807.3 1089.5,807.5 1089.8,807.4 1090.1,806.8 1090.3,807.0 1090.6,807.2 1090.9,807.2 1091.1,807.2 1091.4,806.9 1091.6,806.8 1091.9,807.0 1092.2,807.1 1092.4,807.9 1092.7,807.5 1092.9,806.5 1093.2,806.6 1093.5,806.9 1093.7,806.7 1094.0,807.0 1094.3,807.4 1094.5,807.1 1094.8,807.2 1095.0,807.2 1095.3,807.0 1095.6,807.3 1095.8,807.5 1096.1,807.3 1096.3,807.3 1096.6,807.3 1096.9,807.5 1097.1,806.8 1097.4,807.0 1097.7,807.0 1097.9,807.4 1098.2,807.5 1098.4,807.5 1098.7,807.6 1099.0,806.9 1099.2,807.0 1099.5,807.1 1099.8,807.0 1100.0,807.1 1100.3,807.1 1100.5,807.0 1100.8,806.8 1101.1,806.8 1101.3,806.9 1101.6,807.0 1101.8,806.9 1102.1,806.9 1102.4,807.2 1102.6,807.2 1102.9,806.8 1103.2,806.6 1103.4,807.2 1103.7,807.0 1103.9,807.2 1104.2,807.0 1104.5,807.1 1104.7,807.3 1105.0,807.4 1105.2,807.4 1105.5,807.4 1105.8,807.3 1106.0,806.8 1106.3,806.8 1106.6,807.1 1106.8,807.2 1107.1,807.0 1107.3,806.9 1107.6,807.4 1107.9,806.8 1108.1,807.0 1108.4,807.3 1108.7,807.1 1108.9,807.4 1109.2,807.1 1109.4,807.1 1109.7,807.2 1110.0,807.3 1110.2,807.2 1110.5,807.0 1110.7,807.0 1111.0,807.3 1111.3,806.9 1111.5,807.4 1111.8,807.2 1112.1,807.0 1112.3,807.0 1112.6,807.3 1112.8,806.9 1113.1,807.1 1113.4,807.2 1113.6,807.3 1113.9,807.3 1114.1,807.0 1114.4,807.1 1114.7,806.5 1114.9,807.3 1115.2,807.3 1115.5,807.0 1115.7,807.2 1116.0,807.6 1116.2,807.3 1116.5,807.2 1116.8,806.8 1117.0,807.1 1117.3,807.1 1117.5,807.0 1117.8,807.1 1118.1,807.2 1118.3,807.1 1118.6,806.7 1118.9,806.9 1119.1,807.1 1119.4,807.2 1119.6,807.5 1119.9,807.5 1120.2,807.3 1120.4,807.3 1120.7,807.1 1121.0,806.9 1121.2,807.4 1121.5,807.3 1121.7,807.2 1122.0,806.9 1122.3,807.2 1122.5,806.5 1122.8,806.7 1123.0,807.2 1123.3,807.1 1123.6,807.4 1123.8,807.1 1124.1,807.4 1124.4,807.0 1124.6,807.4 1124.9,807.4 1125.1,807.6 1125.4,806.9 1125.7,807.4 1125.9,806.7 1126.2,807.3 1126.4,807.4 1126.7,806.8 1127.0,807.3 1127.2,807.1 1127.5,807.0 1127.8,807.2 1128.0,806.4 1128.3,806.5 1128.5,807.1 1128.8,807.4 1129.1,807.4 1129.3,807.3 1129.6,807.1 1129.8,806.9 1130.1,806.8 1130.4,807.1 1130.6,807.2 1130.9,806.8 1131.2,806.8 1131.4,807.5 1131.7,807.0 1131.9,807.1 1132.2,807.0 1132.5,806.9 1132.7,807.1 1133.0,807.3 1133.3,807.8 1133.5,807.4 1133.8,807.3 1134.0,807.4 1134.3,807.7 1134.6,807.3 1134.8,807.3 1135.1,806.7 1135.3,806.9 1135.6,806.7 1135.9,807.3 1136.1,807.3 1136.4,807.3 1136.7,806.6 1136.9,806.7 1137.2,807.3 1137.4,807.1 1137.7,807.1 1138.0,806.9 1138.2,806.4 1138.5,807.1 1138.7,807.6 1139.0,807.4 1139.3,807.5 1139.5,807.1 1139.8,807.1 1140.1,806.8 1140.3,807.1 1140.6,807.4 1140.8,806.9 1141.1,806.9 1141.4,806.9 1141.6,807.0 1141.9,807.5 1142.2,807.3 1142.4,807.4 1142.7,807.4 1142.9,807.4 1143.2,807.7 1143.5,807.7 1143.7,807.1 1144.0,806.7 1144.2,806.5 1144.5,806.9 1144.8,807.0 1145.0,807.0 1145.3,807.3 1145.6,807.2 1145.8,807.2 1146.1,806.9 1146.3,807.1 1146.6,807.3 1146.9,806.7 1147.1,807.2 1147.4,806.8 1147.6,806.8 1147.9,807.5 1148.2,807.4 1148.4,807.0 1148.7,807.2 1149.0,807.5 1149.2,807.3 1149.5,807.0 1149.7,806.9 1150.0,807.2 1150.3,807.0 1150.5,806.9 1150.8,807.0 1151.0,806.8 1151.3,806.8 1151.6,806.8 1151.8,807.2 1152.1,807.4 1152.4,807.5 1152.6,807.3 1152.9,807.2 1153.1,806.5 1153.4,807.2 1153.7,807.5 1153.9,807.5 1154.2,807.3 1154.5,806.8 1154.7,806.9 1155.0,807.4 1155.2,807.5 1155.5,807.3 1155.8,807.1 1156.0,807.4 1156.3,807.1 1156.5,807.4 1156.8,807.4 1157.1,807.0 1157.3,807.3 1157.6,807.5 1157.9,807.0 1158.1,806.9 1158.4,807.2 1158.6,807.4 1158.9,807.4 1159.2,807.4 1159.4,807.5 1159.7,807.4 1159.9,807.2 1160.2,807.1 1160.5,807.3 1160.7,807.2 1161.0,806.9 1161.3,807.1 1161.5,807.2 1161.8,807.2 1162.0,807.2 1162.3,807.1 1162.6,806.8 1162.8,807.2 1163.1,807.4 1163.3,807.5 1163.6,807.3 1163.9,807.4 1164.1,807.2 1164.4,807.3 1164.7,807.0 1164.9,807.2 1165.2,807.0 1165.4,807.3 1165.7,807.4 1166.0,807.2 1166.2,807.5 1166.5,807.2 1166.8,807.2 1167.0,807.8 1167.3,807.3 1167.5,807.3 1167.8,807.1 1168.1,806.7 1168.3,806.9 1168.6,807.1 1168.8,806.9 1169.1,807.0 1169.4,807.2 1169.6,807.7 1169.9,807.6 1170.2,807.1 1170.4,807.1 1170.7,806.8 1170.9,807.0 1171.2,806.8 1171.5,807.4 1171.7,806.9 1172.0,807.0 1172.2,806.9 1172.5,807.5 1172.8,807.2 1173.0,806.8 1173.3,806.9 1173.6,807.3 1173.8,807.5 1174.1,807.5 1174.3,806.8 1174.6,806.9 1174.9,806.9 1175.1,807.0 1175.4,807.1 1175.7,806.7 1175.9,806.9 1176.2,807.1 1176.4,807.2 1176.7,807.4 1177.0,807.5 1177.2,807.3 1177.5,807.6 1177.7,807.4 1178.0,807.2 1178.3,807.0 1178.5,807.5 1178.8,807.1 1179.1,807.2 1179.3,807.0 1179.6,807.3 1179.8,806.9 1180.1,807.2 1180.4,807.5 1180.6,807.4 1180.9,807.4 1181.1,807.3 1181.4,807.4 1181.7,807.2 1181.9,807.5 1182.2,807.3 1182.5,806.8 1182.7,807.1 1183.0,807.3 1183.2,806.8 1183.5,806.9 1183.8,807.1 1184.0,807.1 1184.3,807.4 1184.5,807.2 1184.8,807.6 1185.1,807.2 1185.3,806.6 1185.6,807.3 1185.9,807.4 1186.1,807.3 1186.4,806.9 1186.6,807.6 1186.9,807.6 1187.2,806.9 1187.4,806.6 1187.7,806.7 1188.0,806.8 1188.2,807.0 1188.5,807.4 1188.7,807.4 1189.0,807.2 1189.3,806.8 1189.5,807.0 1189.8,806.8 1190.0,806.9 1190.3,807.1 1190.6,807.1 1190.8,807.1 1191.1,807.2 1191.4,807.2 1191.6,806.9 1191.9,806.6 1192.1,806.7 1192.4,807.0 1192.7,806.8 1192.9,807.1 1193.2,807.0 1193.4,807.2 1193.7,807.4 1194.0,807.4 1194.2,807.2 1194.5,807.2 1194.8,807.1 1195.0,807.2 1195.3,806.9 1195.5,807.1 1195.8,807.5 1196.1,807.0 1196.3,806.8 1196.6,807.0 1196.8,807.0 1197.1,807.1 1197.4,807.0 1197.6,806.6 1197.9,807.0 1198.2,807.2 1198.4,807.1 1198.7,807.1 1198.9,806.6 1199.2,807.2 1199.5,807.1 1199.7,807.1 1200.0,807.2 1200.3,807.3 1200.5,807.4 1200.8,807.3 1201.0,807.2 1201.3,807.3 1201.6,807.1 1201.8,807.2 1202.1,807.6 1202.3,807.1 1202.6,806.9 1202.9,807.2 1203.1,807.1 1203.4,807.0 1203.7,807.2 1203.9,807.2 1204.2,807.2 1204.4,807.3 1204.7,806.9 1205.0,807.1 1205.2,806.9 1205.5,807.0 1205.7,807.4 1206.0,807.0 1206.3,806.9 1206.5,807.4 1206.8,807.0 1207.1,807.1 1207.3,807.0 1207.6,807.2 1207.8,807.2 1208.1,807.3 1208.4,807.1 1208.6,807.3 1208.9,807.2 1209.2,807.1 1209.4,807.3 1209.7,807.4 1209.9,807.3 1210.2,806.9 1210.5,806.7 1210.7,807.2 1211.0,806.8 1211.2,806.9 1211.5,807.1 1211.8,807.2 1212.0,807.7 1212.3,807.0 1212.6,807.4 1212.8,807.1 1213.1,807.0 1213.3,807.3 1213.6,807.1 1213.9,807.2 1214.1,807.0 1214.4,807.1 1214.6,807.3 1214.9,806.8 1215.2,807.0 1215.4,807.1 1215.7,806.9 1216.0,807.2 1216.2,806.9 1216.5,807.2 1216.7,807.3 1217.0,807.0 1217.3,807.3 1217.5,807.1 1217.8,806.9 1218.0,807.1 1218.3,807.0 1218.6,807.0 1218.8,807.1 1219.1,806.9 1219.4,806.8 1219.6,806.7 1219.9,806.7 1220.1,806.6 1220.4,807.1 1220.7,807.2 1220.9,807.3 1221.2,806.9 1221.5,807.0 1221.7,807.2 1222.0,807.2 1222.2,807.0 1222.5,807.0 1222.8,807.4 1223.0,807.5 1223.3,806.9 1223.5,806.6 1223.8,806.5 1224.1,807.3 1224.3,807.4 1224.6,807.3 1224.9,807.2 1225.1,807.2 1225.4,807.4 1225.6,807.1 1225.9,807.2 1226.2,807.6 1226.4,807.2 1226.7,807.4 1226.9,806.9 1227.2,807.2 1227.5,807.4 1227.7,806.6 1228.0,806.8 1228.3,807.2 1228.5,807.1 1228.8,807.0 1229.0,807.2 1229.3,806.7 1229.6,806.8 1229.8,807.0 1230.1,807.4 1230.3,807.2 1230.6,807.5 1230.9,807.7 1231.1,807.2 1231.4,807.2 1231.7,807.0 1231.9,807.2 1232.2,807.1 1232.4,807.2 1232.7,807.1 1233.0,807.0 1233.2,807.0 1233.5,807.0 1233.8,807.2 1234.0,807.5 1234.3,806.9 1234.5,806.8 1234.8,806.6 1235.1,806.4 1235.3,807.6 1235.6,807.3 1235.8,807.3 1236.1,807.5 1236.4,807.6 1236.6,807.4 1236.9,807.1 1237.2,807.2 1237.4,806.8 1237.7,806.9 1237.9,807.1 1238.2,806.9 1238.5,807.7 1238.7,807.4 1239.0,807.0 1239.2,806.9 1239.5,806.7 1239.8,807.5 1240.0,807.6 1240.3,806.4 1240.6,806.9 1240.8,807.0 1241.1,807.5 1241.3,807.1 1241.6,806.8 1241.9,806.9 1242.1,806.9 1242.4,806.8 1242.7,807.1 1242.9,807.4 1243.2,806.7 1243.4,807.0 1243.7,806.9 1244.0,807.4 1244.2,806.7 1244.5,807.6 1244.7,807.1 1245.0,806.9 1245.3,807.2 1245.5,807.4 1245.8,807.3 1246.1,806.9 1246.3,806.8 1246.6,806.9 1246.8,806.7 1247.1,807.1 1247.4,806.5 1247.6,807.3 1247.9,807.3 1248.1,807.1 1248.4,806.9 1248.7,807.4 1248.9,807.3 1249.2,807.0 1249.5,807.2 1249.7,807.9 1250.0,807.1 1250.2,807.3 1250.5,806.7 1250.8,807.4 1251.0,806.9 1251.3,806.8 1251.5,806.9 1251.8,807.0 1252.1,806.7 1252.3,807.0 1252.6,807.1 1252.9,807.0 1253.1,807.2 1253.4,807.2 1253.6,807.1 1253.9,807.5 1254.2,807.4 1254.4,807.4 1254.7,807.2 1255.0,807.0 1255.2,806.4 1255.5,807.0 1255.7,806.9 1256.0,806.6 1256.3,807.0 1256.5,806.8 1256.8,806.8 1257.0,806.5 1257.3,806.3 1257.6,805.8 1257.8,805.7 1258.1,805.2 1258.4,804.8 1258.6,803.8 1258.9,803.5 1259.1,803.6 1259.4,804.4 1259.7,804.7 1259.9,805.2 1260.2,805.6 1260.4,805.9 1260.7,806.1 1261.0,806.4 1261.2,806.2 1261.5,806.0 1261.8,806.3 1262.0,806.1 1262.3,806.3 1262.5,806.5 1262.8,805.9 1263.1,806.2 1263.3,806.2 1263.6,806.3 1263.8,805.9 1264.1,806.0 1264.4,806.4 1264.6,806.3 1264.9,806.4 1265.2,806.0 1265.4,806.4 1265.7,806.2 1265.9,806.4 1266.2,806.5 1266.5,806.2 1266.7,806.3 1267.0,806.1 1267.3,806.8 1267.5,806.9 1267.8,807.2 1268.0,807.5 1268.3,806.7 1268.6,806.8 1268.8,806.7 1269.1,806.9 1269.3,806.7 1269.6,807.4 1269.9,807.2 1270.1,806.8 1270.4,806.8 1270.7,806.9 1270.9,807.0 1271.2,807.1 1271.4,807.2 1271.7,807.4 1272.0,807.1 1272.2,806.9 1272.5,806.7 1272.7,807.0 1273.0,807.3 1273.3,807.1 1273.5,807.0 1273.8,807.2 1274.1,807.2 1274.3,807.3 1274.6,807.4 1274.8,807.2 1275.1,807.4 1275.4,807.3 1275.6,807.1 1275.9,807.0 1276.2,806.7 1276.4,806.9 1276.7,807.1 1276.9,806.5 1277.2,806.8 1277.5,806.7 1277.7,806.5 1278.0,806.6 1278.2,806.7 1278.5,807.1 1278.8,806.7 1279.0,806.8 1279.3,807.0 1279.6,807.2 1279.8,807.1 1280.1,807.1 1280.3,807.3 1280.6,807.0 1280.9,806.8 1281.1,807.2 1281.4,807.2 1281.6,807.2 1281.9,807.4 1282.2,806.9 1282.4,807.0 1282.7,806.7 1283.0,807.3 1283.2,806.7 1283.5,807.1 1283.7,807.1 1284.0,807.2 1284.3,807.0 1284.5,807.3 1284.8,807.5 1285.0,807.2 1285.3,807.0 1285.6,807.1 1285.8,807.0 1286.1,807.0 1286.4,807.1 1286.6,807.3 1286.9,807.1 1287.1,806.5 1287.4,806.8 1287.7,807.3 1287.9,807.1 1288.2,807.1 1288.5,807.3 1288.7,807.0 1289.0,806.8 1289.2,807.0 1289.5,807.5 1289.8,807.1 1290.0,806.8 1290.3,806.9 1290.5,807.0 1290.8,806.9 1291.1,806.7 1291.3,807.0 1291.6,807.3 1291.9,807.5 1292.1,806.9 1292.4,807.0 1292.6,806.8 1292.9,806.5 1293.2,806.8 1293.4,806.9 1293.7,806.9 1293.9,807.2 1294.2,807.2 1294.5,807.4 1294.7,807.0 1295.0,806.7 1295.3,807.1 1295.5,806.7 1295.8,807.2 1296.0,807.2 1296.3,806.8 1296.6,806.8 1296.8,807.1 1297.1,806.9 1297.4,807.3 1297.6,807.2 1297.9,807.4 1298.1,807.3 1298.4,806.8 1298.7,806.5 1298.9,806.9 1299.2,806.4 1299.4,807.2 1299.7,807.3 1300.0,807.2 1300.2,807.5 1300.5,807.4 1300.8,806.8 1301.0,807.0 1301.3,807.5 1301.5,807.3 1301.8,806.5 1302.1,807.1 1302.3,807.1 1302.6,807.4 1302.8,807.2 1303.1,807.2 1303.4,807.5 1303.6,807.5 1303.9,807.2 1304.2,807.3 1304.4,807.0 1304.7,807.2 1304.9,807.3 1305.2,807.0 1305.5,807.2 1305.7,806.9 1306.0,807.0 1306.2,807.1 1306.5,806.9 1306.8,807.0 1307.0,807.2 1307.3,807.5 1307.6,807.3 1307.8,807.0 1308.1,806.8 1308.3,807.2 1308.6,807.1 1308.9,807.2 1309.1,806.7 1309.4,806.9 1309.7,806.6 1309.9,806.6 1310.2,807.0 1310.4,807.1 1310.7,807.2 1311.0,807.3 1311.2,807.2 1311.5,807.3 1311.7,807.0 1312.0,807.0 1312.3,806.9 1312.5,806.7 1312.8,806.8 1313.1,807.3 1313.3,807.1 1313.6,807.1 1313.8,806.9 1314.1,807.0 1314.4,806.4 1314.6,807.0 1314.9,807.3 1315.1,807.0 1315.4,807.2 1315.7,807.2 1315.9,806.7 1316.2,807.2 1316.5,807.4 1316.7,807.3 1317.0,807.6 1317.2,807.3 1317.5,807.0 1317.8,806.9 1318.0,807.3 1318.3,806.8 1318.5,807.2 1318.8,807.2 1319.1,807.4 1319.3,807.7 1319.6,807.4 1319.9,807.5 1320.1,806.6 1320.4,806.4 1320.6,807.2 1320.9,807.6 1321.2,807.4 1321.4,807.6 1321.7,807.0 1322.0,807.1 1322.2,807.2 1322.5,807.5 1322.7,807.1 1323.0,806.8 1323.3,806.7 1323.5,807.0 1323.8,807.4 1324.0,806.7 1324.3,806.8 1324.6,807.4 1324.8,807.6 1325.1,807.4 1325.4,807.4 1325.6,807.2 1325.9,807.2 1326.1,807.0 1326.4,807.0 1326.7,806.9 1326.9,807.0 1327.2,806.9 1327.4,807.3 1327.7,807.4 1328.0,807.1 1328.2,807.1 1328.5,806.8 1328.8,806.8 1329.0,807.2 1329.3,807.2 1329.5,807.5 1329.8,807.7 1330.1,807.0 1330.3,807.2 1330.6,807.3 1330.9,807.3 1331.1,807.5 1331.4,807.5 1331.6,807.4 1331.9,807.0 1332.2,807.3 1332.4,807.4 1332.7,806.5 1332.9,807.0 1333.2,807.0 1333.5,807.3 1333.7,806.8 1334.0,807.5 1334.3,807.5 1334.5,807.1 1334.8,807.4 1335.0,807.0 1335.3,807.1 1335.6,807.2 1335.8,807.5 1336.1,807.1 1336.3,807.2 1336.6,807.2 1336.9,807.2 1337.1,807.1 1337.4,807.4 1337.7,807.8 1337.9,807.4 1338.2,807.0 1338.4,806.8 1338.7,807.1 1339.0,806.8 1339.2,806.1 1339.5,806.7 1339.7,806.7 1340.0,806.9 1340.3,807.1 1340.5,807.7 1340.8,807.5 1341.1,807.2 1341.3,807.2 1341.6,807.4 1341.8,807.3 1342.1,807.1 1342.4,807.1 1342.6,807.0 1342.9,807.3 1343.2,807.5 1343.4,807.4 1343.7,807.4 1343.9,806.9 1344.2,806.7 1344.5,807.1 1344.7,807.1 1345.0,807.2 1345.2,807.4 1345.5,807.6 1345.8,807.1 1346.0,806.6 1346.3,807.0 1346.6,806.8 1346.8,807.2 1347.1,806.6 1347.3,807.1 1347.6,807.3 1347.9,806.9 1348.1,807.1 1348.4,807.7 1348.6,807.3 1348.9,807.3 1349.2,807.5 1349.4,807.2 1349.7,806.8 1350.0,807.0 1350.2,806.6 1350.5,806.7 1350.7,806.6 1351.0,807.0 1351.3,807.4 1351.5,807.1 1351.8,807.1 1352.0,807.5 1352.3,807.2 1352.6,807.1 1352.8,807.0 1353.1,807.6 1353.4,807.2 1353.6,807.1 1353.9,807.4 1354.1,807.5 1354.4,807.8 1354.7,807.1 1354.9,806.9 1355.2,807.3 1355.5,807.1 1355.7,807.1 1356.0,807.2 1356.2,807.6 1356.5,807.5 1356.8,807.5 1357.0,807.6 1357.3,807.2 1357.5,806.6 1357.8,806.9 1358.1,807.0 1358.3,806.9 1358.6,806.7 1358.9,806.7 1359.1,807.2 1359.4,807.5 1359.6,807.1 1359.9,806.7 1360.2,806.4 1360.4,807.2 1360.7,807.3 1360.9,807.2 1361.2,807.2 1361.5,807.5 1361.7,807.5 1362.0,807.2 1362.3,806.4 1362.5,807.0 1362.8,807.2 1363.0,806.8 1363.3,807.0 1363.6,807.0 1363.8,807.2 1364.1,807.2 1364.4,807.5 1364.6,807.3 1364.9,807.4 1365.1,807.0 1365.4,807.5 1365.7,806.8 1365.9,806.9 1366.2,806.4 1366.4,807.2 1366.7,807.3 1367.0,807.4 1367.2,807.3 1367.5,807.3 1367.8,807.7 1368.0,807.0 1368.3,807.6 1368.5,807.9 1368.8,807.5 1369.1,807.5 1369.3,806.7 1369.6,807.1 1369.8,807.1 1370.1,807.2 1370.4,806.8 1370.6,806.7 1370.9,807.0 1371.2,807.7 1371.4,807.2 1371.7,807.0 1371.9,807.2 1372.2,806.9 1372.5,806.9 1372.7,806.9 1373.0,807.3 1373.2,806.8 1373.5,807.4 1373.8,807.4 1374.0,807.2 1374.3,807.1 1374.6,807.1 1374.8,807.0 1375.1,807.2 1375.3,807.3 1375.6,807.5 1375.9,807.5 1376.1,807.4 1376.4,807.8 1376.7,807.2 1376.9,807.2 1377.2,807.1 1377.4,806.8 1377.7,807.6 1378.0,807.9 1378.2,807.1 1378.5,806.8 1378.7,807.1 1379.0,806.9 1379.3,807.2 1379.5,807.1 1379.8,807.3 1380.1,807.2 1380.3,807.2 1380.6,807.1 1380.8,807.0 1381.1,806.6 1381.4,806.8 1381.6,807.2 1381.9,806.8 1382.1,806.9 1382.4,807.3 1382.7,807.5 1382.9,807.6 1383.2,806.9 1383.5,807.0 1383.7,807.3 1384.0,807.1 1384.2,807.3 1384.5,807.4 1384.8,807.6 1385.0,807.1 1385.3,807.0 1385.5,806.9 1385.8,806.9 1386.1,806.9 1386.3,807.2 1386.6,807.6 1386.9,807.6 1387.1,807.1 1387.4,807.8 1387.6,807.3 1387.9,807.0 1388.2,806.8 1388.4,806.7 1388.7,807.2 1389.0,807.6 1389.2,806.7 1389.5,806.9 1389.7,807.3 1390.0,806.9 1390.3,807.2 1390.5,807.4 1390.8,807.1 1391.0,807.2 1391.3,807.6 1391.6,806.7 1391.8,807.0 1392.1,807.0 1392.4,806.9 1392.6,807.1 1392.9,807.2 1393.1,807.3 1393.4,807.2 1393.7,807.1 1393.9,807.2 1394.2,806.9 1394.4,807.3 1394.7,807.1"/>
<path d="M518.3 667.9V684.7M519.7 667.9V684.7M626.4 667.9V684.7M627.6 667.9V684.7M684.2 667.9V684.7M686.1 667.9V684.7M702.8 667.9V684.7M704.6 667.9V684.7M774.0 667.9V684.7M775.9 667.9V684.7M824.4 667.9V684.7M826.9 667.9V684.7M904.3 667.9V684.7M907.1 667.9V684.7M951.0 667.9V684.7M953.8 667.9V684.7M966.4 667.9V684.7M969.2 667.9V684.7M1026.4 667.9V684.7M1029.2 667.9V684.7M1071.0 667.9V684.7M1074.0 667.9V684.7M1085.3 667.9V684.7M1088.3 667.9V684.7M1143.7 667.9V684.7M1147.1 667.9V684.7M1187.0 667.9V684.7M1190.9 667.9V684.7M1201.4 667.9V684.7M1205.4 667.9V684.7M1259.4 667.9V684.7M1263.7 667.9V684.7M1303.1 667.9V684.7M1307.4 667.9V684.7M1377.1 667.9V684.7M1382.0 667.9V684.7M520.7 702.9V719.7M523.3 702.9V719.7M597.4 702.9V719.7M598.4 702.9V719.7M614.6 702.9V719.7M615.6 702.9V719.7M650.1 702.9V719.7M651.1 702.9V719.7M682.5 702.9V719.7M683.7 702.9V719.7M696.0 702.9V719.7M697.5 702.9V719.7M699.0 702.9V719.7M727.3 702.9V719.7M729.4 702.9V719.7M756.9 702.9V719.7M759.0 702.9V719.7M761.1 702.9V719.7M771.9 702.9V719.7M773.1 702.9V719.7M774.3 702.9V719.7M775.5 702.9V719.7M828.4 702.9V719.7M830.6 702.9V719.7M844.9 702.9V719.7M846.4 702.9V719.7M848.1 702.9V719.7M872.1 702.9V719.7M874.3 702.9V719.7M897.2 702.9V719.7M898.9 702.9V719.7M900.6 702.9V719.7M902.8 702.9V719.7M911.8 702.9V719.7M915.0 702.9V719.7M940.7 702.9V719.7M943.7 702.9V719.7M963.4 702.9V719.7M966.4 702.9V719.7M969.4 702.9V719.7M975.6 702.9V719.7M977.6 702.9V719.7M979.3 702.9V719.7M980.8 702.9V719.7M982.7 702.9V719.7M1004.6 702.9V719.7M1007.3 702.9V719.7M1029.0 702.9V719.7M1030.7 702.9V719.7M1032.4 702.9V719.7M1034.1 702.9V719.7M1042.9 702.9V719.7M1046.1 702.9V719.7M1069.3 702.9V719.7M1072.3 702.9V719.7M1091.3 702.9V719.7M1094.3 702.9V719.7M1097.3 702.9V719.7M1102.6 702.9V719.7M1104.7 702.9V719.7M1107.1 702.9V719.7M1109.4 702.9V719.7M1126.8 702.9V719.7M1130.6 702.9V719.7M1134.3 702.9V719.7M1153.6 702.9V719.7M1157.4 702.9V719.7M1167.7 702.9V719.7M1169.6 702.9V719.7M1172.0 702.9V719.7M1189.4 702.9V719.7M1193.0 702.9V719.7M1225.6 702.9V719.7M1227.5 702.9V719.7M1229.2 702.9V719.7M1230.7 702.9V719.7M1232.9 702.9V719.7M1235.0 702.9V719.7M1278.7 702.9V719.7M1280.0 702.9V719.7M1281.5 702.9V719.7M1282.8 702.9V719.7M1284.3 702.9V719.7M1285.6 702.9V719.7M1292.0 702.9V719.7M1295.9 702.9V719.7M1313.6 702.9V719.7M1318.1 702.9V719.7M1336.8 702.9V719.7M1341.1 702.9V719.7M1345.6 702.9V719.7M1350.7 702.9V719.7M1352.4 702.9V719.7M1354.1 702.9V719.7M1356.1 702.9V719.7M1357.8 702.9V719.7M1360.8 702.9V719.7M1377.7 702.9V719.7M1381.8 702.9V719.7M1386.1 702.9V719.7" stroke="#007800" stroke-width="1.15" fill="none"/>
<path d="M277.3 667.9V684.7M317.4 667.9V684.7M443.6 667.9V684.7M541.9 667.9V684.7M258.0 702.9V719.7M385.3 702.9V719.7M409.9 702.9V719.7M458.8 702.9V719.7M502.1 702.9V719.7M559.7 702.9V719.7" stroke="#007800" stroke-width="1.6" fill="none"/>
</g>
<path d="M216.8 20.2H1395.1V838.4H216.8Z" fill="none" stroke="#000" stroke-width="3.2" stroke-linejoin="round"/>
<path d="M202.3 838.4H216.8M202.3 747.5H216.8M202.3 656.6H216.8M202.3 565.7H216.8M202.3 474.8H216.8M202.3 383.9H216.8M202.3 293.0H216.8M202.3 202.1H216.8M202.3 111.1H216.8M202.3 20.2H216.8M209.6 793.0H216.8M209.6 702.1H216.8M209.6 611.1H216.8M209.6 520.2H216.8M209.6 429.3H216.8M209.6 338.4H216.8M209.6 247.5H216.8M209.6 156.6H216.8M209.6 65.7H216.8M282.4 838.4V852.9M413.3 838.4V852.9M544.1 838.4V852.9M675.0 838.4V852.9M805.8 838.4V852.9M936.7 838.4V852.9M1067.6 838.4V852.9M1198.4 838.4V852.9M1329.3 838.4V852.9M217.0 838.4V845.8M347.8 838.4V845.8M478.7 838.4V845.8M609.5 838.4V845.8M740.4 838.4V845.8M871.3 838.4V845.8M1002.1 838.4V845.8M1133.0 838.4V845.8M1263.9 838.4V845.8M1394.7 838.4V845.8" fill="none" stroke="#000" stroke-width="3.1" stroke-linecap="round"/>
<g class="tk">
<text transform="translate(184.7,849.8) scale(0.925,1)" text-anchor="end">-10000</text><text transform="translate(184.7,758.9) scale(0.925,1)" text-anchor="end">-5000</text><text transform="translate(184.7,668.0) scale(0.925,1)" text-anchor="end">0</text><text transform="translate(184.7,577.0) scale(0.925,1)" text-anchor="end">5000</text><text transform="translate(184.7,486.1) scale(0.925,1)" text-anchor="end">10000</text><text transform="translate(184.7,395.2) scale(0.925,1)" text-anchor="end">15000</text><text transform="translate(184.7,304.3) scale(0.925,1)" text-anchor="end">20000</text><text transform="translate(184.7,213.4) scale(0.925,1)" text-anchor="end">25000</text><text transform="translate(184.7,122.5) scale(0.925,1)" text-anchor="end">30000</text><text transform="translate(184.7,31.6) scale(0.925,1)" text-anchor="end">35000</text>
<text transform="translate(282.0,904.7) scale(0.925,1)" text-anchor="middle">20</text><text transform="translate(412.9,904.7) scale(0.925,1)" text-anchor="middle">30</text><text transform="translate(543.8,904.7) scale(0.925,1)" text-anchor="middle">40</text><text transform="translate(674.6,904.7) scale(0.925,1)" text-anchor="middle">50</text><text transform="translate(805.5,904.7) scale(0.925,1)" text-anchor="middle">60</text><text transform="translate(936.4,904.7) scale(0.925,1)" text-anchor="middle">70</text><text transform="translate(1067.2,904.7) scale(0.925,1)" text-anchor="middle">80</text><text transform="translate(1198.1,904.7) scale(0.925,1)" text-anchor="middle">90</text><text transform="translate(1328.9,904.7) scale(0.925,1)" text-anchor="middle">100</text>
</g>
<g fill="#fff"><rect x="81.0" y="480.7" width="7.7" height="6.3"/><rect x="94.0" y="480.7" width="6.0" height="6.3"/><rect x="81.0" y="389.8" width="7.7" height="6.3"/><rect x="94.0" y="389.8" width="6.0" height="6.3"/><rect x="81.0" y="844.4" width="7.7" height="6.3"/><rect x="94.0" y="844.4" width="6.0" height="6.3"/><rect x="1298.0" y="899.3" width="7.7" height="6.3"/><rect x="1311.0" y="899.3" width="6.5" height="6.3"/></g>
<text transform="translate(30.2,406.7) rotate(-90)" text-anchor="middle" font-size="36.7">Intensity (arb.units)</text>
<text class="ser" x="764.8" y="961">2</text><text class="ser" transform="translate(783.2,961) scale(1,0.92)">&#952;</text><text class="ser" x="800.4" y="961">(&#176;)</text>
<!-- legend -->
<text class="lg" x="1087" y="73.1">Sr<tspan dx="0.5" dy="14.6" font-size="22">2</tspan><tspan dx="0.3" dy="-14.6">CaFe</tspan><tspan dx="1.1" dy="14.6" font-size="22">2</tspan><tspan dx="0.6" dy="-14.6">WO</tspan><tspan dx="0.6" dy="14.6" font-size="22">9</tspan></text>
<rect x="1046.3" y="93.8" width="331.8" height="178" fill="#fff" stroke="#1c1c1c" stroke-width="1.4"/>
<path d="M1062.9 117.8H1144.2" stroke="#ff0000" stroke-width="1"/>
<circle cx="1103.5" cy="117.8" r="2.3" fill="#fff" stroke="#ff0000" stroke-width="0.7"/>
<path d="M1062.9 162.3H1144.2" stroke="#000" stroke-width="1"/>
<path d="M1062.9 206.9H1144.2" stroke="#0000ff" stroke-width="0.8" stroke-opacity="0.6"/>
<path d="M1103.5 243.5V259.1" stroke="#007800" stroke-width="1"/>
<g class="lg">
<text x="1154.5" y="130.1">Yobs</text>
<text x="1154.5" y="174.1">Ycal</text>
<text x="1154.5" y="219.0">Yobs-Ycal</text>
<text x="1154.5" y="263.4">Bragg-psition</text>
</g>
</svg>
</body></html>
